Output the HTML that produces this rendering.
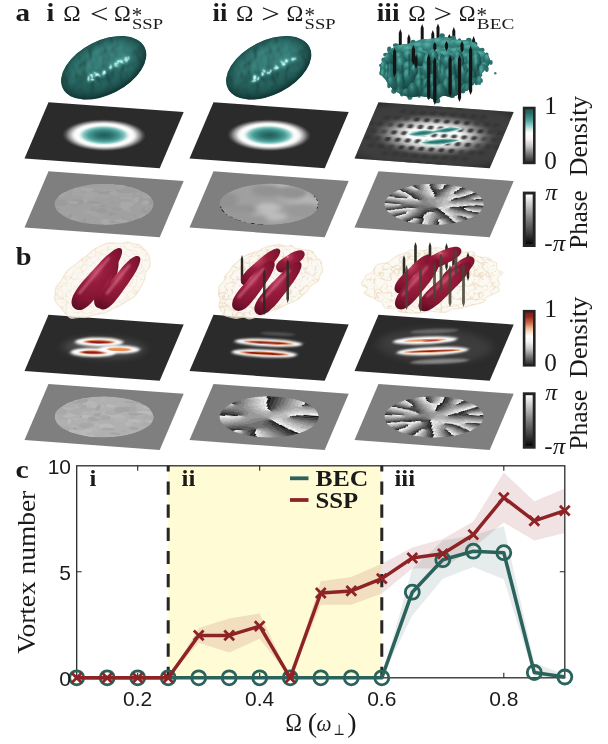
<!DOCTYPE html>
<html><head><meta charset="utf-8"><title>Vortex figure</title>
<style>
html,body{margin:0;padding:0;background:#fff;}
svg{display:block;}
text{font-family:'Liberation Serif', 'DejaVu Serif', serif;fill:#1a1a1a;}
.sans{font-family:'Liberation Sans', 'DejaVu Sans', sans-serif;}
</style></head><body>
<svg width="608" height="744" viewBox="0 0 608 744">
<defs>
<clipPath id="unit"><rect x="0" y="0" width="1" height="1"/></clipPath>
<filter id="b1" x="-20%" y="-20%" width="140%" height="140%"><feGaussianBlur stdDeviation="0.012 0.02"/></filter>
<filter id="b2" x="-30%" y="-30%" width="160%" height="160%"><feGaussianBlur stdDeviation="0.02 0.035"/></filter>
<filter id="b3" x="-30%" y="-30%" width="160%" height="160%"><feGaussianBlur stdDeviation="0.006 0.012"/></filter>
<filter id="b4" x="-30%" y="-30%" width="160%" height="160%"><feGaussianBlur stdDeviation="0.035 0.06"/></filter>
<radialGradient id="gTeal" cx="0.5" cy="0.5" r="0.5"><stop offset="0" stop-color="#235c59"/><stop offset="0.2" stop-color="#2d7470"/><stop offset="0.38" stop-color="#4a9e98"/><stop offset="0.5" stop-color="#8dcbc6"/><stop offset="0.58" stop-color="#e6f3f1"/><stop offset="0.65" stop-color="#ffffff"/><stop offset="0.73" stop-color="#efefef"/><stop offset="0.84" stop-color="#9a9a9a"/><stop offset="0.93" stop-color="#4d4d4d"/><stop offset="1" stop-color="#2b2b2b"/></radialGradient>
<radialGradient id="gGlow" cx="0.5" cy="0.5" r="0.5"><stop offset="0" stop-color="#ffffff" stop-opacity="1"/><stop offset="0.38" stop-color="#fafafa" stop-opacity="1"/><stop offset="0.55" stop-color="#c4c4c4" stop-opacity="0.95"/><stop offset="0.72" stop-color="#808080" stop-opacity="0.8"/><stop offset="0.88" stop-color="#4a4a4a" stop-opacity="0.5"/><stop offset="1" stop-color="#2b2b2b" stop-opacity="0"/></radialGradient>
<clipPath id="disc"><circle cx="0.5" cy="0.5" r="0.36"/></clipPath>
<linearGradient id="cbTeal" x1="0" y1="0" x2="0" y2="1"><stop offset="0" stop-color="#225a57"/><stop offset="0.08" stop-color="#2b6f6b"/><stop offset="0.2" stop-color="#4a9d97"/><stop offset="0.3" stop-color="#8ccbc6"/><stop offset="0.4" stop-color="#e0f1ef"/><stop offset="0.46" stop-color="#ffffff"/><stop offset="0.57" stop-color="#f4f4f4"/><stop offset="0.7" stop-color="#c8c8c8"/><stop offset="0.85" stop-color="#787878"/><stop offset="1" stop-color="#303030"/></linearGradient>
<linearGradient id="cbRed" x1="0" y1="0" x2="0" y2="1"><stop offset="0" stop-color="#851a1c"/><stop offset="0.08" stop-color="#962722"/><stop offset="0.2" stop-color="#c96a45"/><stop offset="0.3" stop-color="#eeb58c"/><stop offset="0.4" stop-color="#fbe9dc"/><stop offset="0.46" stop-color="#ffffff"/><stop offset="0.57" stop-color="#f4f4f4"/><stop offset="0.7" stop-color="#c8c8c8"/><stop offset="0.85" stop-color="#787878"/><stop offset="1" stop-color="#303030"/></linearGradient>
<linearGradient id="cbGray" x1="0" y1="0" x2="0" y2="1"><stop offset="0" stop-color="#ffffff"/><stop offset="0.5" stop-color="#7c7c7c"/><stop offset="0.8" stop-color="#3a3a3a"/><stop offset="1" stop-color="#060606"/></linearGradient>
<filter id="bumpT" x="0" y="0" width="100%" height="100%" color-interpolation-filters="sRGB">
<feTurbulence type="fractalNoise" baseFrequency="0.11 0.08" numOctaves="2" seed="4" result="n"/>
<feDiffuseLighting in="n" surfaceScale="3.2" diffuseConstant="1.05" lighting-color="#357873" result="l"><feDistantLight azimuth="235" elevation="58"/></feDiffuseLighting>
<feComposite in="l" in2="SourceGraphic" operator="in"/>
</filter>
<filter id="bumpT2" x="0" y="0" width="100%" height="100%" color-interpolation-filters="sRGB">
<feTurbulence type="fractalNoise" baseFrequency="0.10 0.05" numOctaves="3" seed="9" result="n"/>
<feDiffuseLighting in="n" surfaceScale="11" diffuseConstant="1.2" lighting-color="#4aa8a0" result="l"><feDistantLight azimuth="250" elevation="42"/></feDiffuseLighting>
<feComposite in="l" in2="SourceGraphic" operator="in"/>
</filter>
<filter id="ob1" x="-20%" y="-20%" width="140%" height="140%"><feGaussianBlur stdDeviation="1.2"/></filter>
<filter id="ob2" x="-20%" y="-20%" width="140%" height="140%"><feGaussianBlur stdDeviation="2.5"/></filter>
<filter id="ob05" x="-20%" y="-20%" width="140%" height="140%"><feGaussianBlur stdDeviation="0.55"/></filter>
<filter id="ob08" x="-20%" y="-20%" width="140%" height="140%"><feGaussianBlur stdDeviation="0.8"/></filter>
<radialGradient id="gEll" cx="0.5" cy="0.45" r="0.52"><stop offset="0" stop-color="#2f7f7a" stop-opacity="0"/><stop offset="0.5" stop-color="#2a706c" stop-opacity="0.0"/><stop offset="0.8" stop-color="#1c4f4c" stop-opacity="0.55"/><stop offset="1" stop-color="#123634" stop-opacity="0.95"/></radialGradient>
<linearGradient id="gBlobV" x1="0" y1="0" x2="0" y2="1"><stop offset="0" stop-color="#7fd6ce" stop-opacity="0.15"/><stop offset="0.3" stop-color="#4aa8a0" stop-opacity="0.0"/><stop offset="0.6" stop-color="#1f5a56" stop-opacity="0.1"/><stop offset="1" stop-color="#143f3c" stop-opacity="0.55"/></linearGradient>
<radialGradient id="gLump" cx="0.35" cy="0.2" r="0.9"><stop offset="0" stop-color="#56aea6" stop-opacity="1"/><stop offset="0.25" stop-color="#2e7872" stop-opacity="1"/><stop offset="0.6" stop-color="#1b534f" stop-opacity="1"/><stop offset="1" stop-color="#0d302d" stop-opacity="1"/></radialGradient>
<radialGradient id="gLumpTop" cx="0.4" cy="0.3" r="0.8"><stop offset="0" stop-color="#58b0a8" stop-opacity="1"/><stop offset="0.45" stop-color="#34837c" stop-opacity="1"/><stop offset="1" stop-color="#205f5a" stop-opacity="1"/></radialGradient>
<radialGradient id="gLobe" cx="0.40" cy="0.30" r="0.75"><stop offset="0" stop-color="#dc8098" stop-opacity="1"/><stop offset="0.1" stop-color="#b83a5a" stop-opacity="1"/><stop offset="0.35" stop-color="#981c3c" stop-opacity="1"/><stop offset="0.75" stop-color="#801431" stop-opacity="1"/><stop offset="1" stop-color="#5c0c22" stop-opacity="1"/></radialGradient>
<filter id="web" x="-5%" y="-5%" width="110%" height="110%" color-interpolation-filters="sRGB">
<feTurbulence type="turbulence" baseFrequency="0.12 0.15" numOctaves="2" seed="3" result="t"/>
<feColorMatrix in="t" type="matrix" values="0 0 0 0 0.87  0 0 0 0 0.77  0 0 0 0 0.6  -10 0 0 0 1.7" result="w"/>
<feComposite in="w" in2="SourceGraphic" operator="in"/>
</filter>
</defs>
<rect width="608" height="744" fill="#fff"/>
<text x="15.6" y="20.9" font-size="25" font-weight="bold" text-anchor="start" textLength="14.6" lengthAdjust="spacingAndGlyphs">a</text>
<text x="15.8" y="265.4" font-size="25" font-weight="bold" text-anchor="start" textLength="15.8" lengthAdjust="spacingAndGlyphs">b</text>
<text x="15.6" y="478.4" font-size="25" font-weight="bold" text-anchor="start" textLength="13.2" lengthAdjust="spacingAndGlyphs">c</text>
<text x="46.6" y="20.9" font-size="25" font-weight="bold" text-anchor="start" textLength="7.8" lengthAdjust="spacingAndGlyphs">i</text>
<text x="63.3" y="20.9" font-size="24" font-weight="normal" text-anchor="start" textLength="17.4" lengthAdjust="spacingAndGlyphs">Ω</text>
<text x="90.10000000000001" y="22.5" font-size="27" font-weight="normal" text-anchor="start" textLength="18.6" lengthAdjust="spacingAndGlyphs">&lt;</text>
<text x="114.0" y="20.9" font-size="24" font-weight="normal" text-anchor="start" textLength="16.8" lengthAdjust="spacingAndGlyphs">Ω</text>
<text x="131.79999999999998" y="21.5" font-size="21" font-weight="normal" text-anchor="start">*</text>
<text x="132.0" y="28.6" font-size="14.5" font-weight="normal" text-anchor="start" textLength="31" lengthAdjust="spacingAndGlyphs">SSP</text>
<text x="212.6" y="20.9" font-size="25" font-weight="bold" text-anchor="start" textLength="14.8" lengthAdjust="spacingAndGlyphs">ii</text>
<text x="236.0" y="20.9" font-size="24" font-weight="normal" text-anchor="start" textLength="17.4" lengthAdjust="spacingAndGlyphs">Ω</text>
<text x="261.29999999999995" y="22.5" font-size="27" font-weight="normal" text-anchor="start" textLength="18.6" lengthAdjust="spacingAndGlyphs">&gt;</text>
<text x="286.59999999999997" y="20.9" font-size="24" font-weight="normal" text-anchor="start" textLength="16.8" lengthAdjust="spacingAndGlyphs">Ω</text>
<text x="304.4" y="21.5" font-size="21" font-weight="normal" text-anchor="start">*</text>
<text x="304.59999999999997" y="28.6" font-size="14.5" font-weight="normal" text-anchor="start" textLength="31" lengthAdjust="spacingAndGlyphs">SSP</text>
<text x="376.7" y="20.9" font-size="25" font-weight="bold" text-anchor="start" textLength="22.8" lengthAdjust="spacingAndGlyphs">iii</text>
<text x="408.2" y="20.9" font-size="24" font-weight="normal" text-anchor="start" textLength="17.4" lengthAdjust="spacingAndGlyphs">Ω</text>
<text x="433.4" y="22.5" font-size="27" font-weight="normal" text-anchor="start" textLength="18.6" lengthAdjust="spacingAndGlyphs">&gt;</text>
<text x="458.79999999999995" y="20.9" font-size="24" font-weight="normal" text-anchor="start" textLength="16.8" lengthAdjust="spacingAndGlyphs">Ω</text>
<text x="476.59999999999997" y="21.5" font-size="21" font-weight="normal" text-anchor="start">*</text>
<text x="476.79999999999995" y="28.6" font-size="14.5" font-weight="normal" text-anchor="start" textLength="37.5" lengthAdjust="spacingAndGlyphs">BEC</text>
<g transform="matrix(135.2 9.8 -24.0 56.2 48.5 102.2)"><rect x="0" y="0" width="1" height="1" fill="#2b2b2b"/><g clip-path="url(#unit)">
<ellipse cx="0.5" cy="0.5" rx="0.305" ry="0.28" fill="url(#gTeal)"/>
</g></g>
<g transform="matrix(135.2 9.8 -24.0 56.2 213.5 102.2)"><rect x="0" y="0" width="1" height="1" fill="#2b2b2b"/><g clip-path="url(#unit)">
<ellipse cx="0.5" cy="0.5" rx="0.305" ry="0.28" fill="url(#gTeal)"/>
</g></g>
<g transform="matrix(135.2 9.8 -24.0 56.2 378.5 102.2)"><rect x="0" y="0" width="1" height="1" fill="#2b2b2b"/><g clip-path="url(#unit)">
<ellipse cx="0.5" cy="0.5" rx="0.7" ry="0.6" fill="#505050" opacity="0.55" filter="url(#b4)"/>
<ellipse cx="0.5" cy="0.5" rx="0.50" ry="0.41" fill="url(#gGlow)"/>
<g fill="#2e2e2e" filter="url(#b3)"><ellipse cx="0.007" cy="0.375" rx="0.021" ry="0.038" opacity="0.55"/><ellipse cx="-0.018" cy="0.500" rx="0.021" ry="0.038" opacity="0.55"/><ellipse cx="0.031" cy="0.625" rx="0.021" ry="0.038" opacity="0.55"/><ellipse cx="0.081" cy="0.375" rx="0.021" ry="0.038" opacity="0.55"/><ellipse cx="0.056" cy="0.500" rx="0.021" ry="0.038" opacity="0.55"/><ellipse cx="0.105" cy="0.625" rx="0.021" ry="0.038" opacity="0.55"/><ellipse cx="0.080" cy="0.750" rx="0.021" ry="0.038" opacity="0.55"/><ellipse cx="0.106" cy="0.250" rx="0.021" ry="0.038" opacity="0.55"/><ellipse cx="0.155" cy="0.375" rx="0.021" ry="0.038" opacity="0.55"/><ellipse cx="0.130" cy="0.500" rx="0.021" ry="0.038" opacity="0.55"/><ellipse cx="0.179" cy="0.625" rx="0.021" ry="0.038" opacity="0.90"/><ellipse cx="0.154" cy="0.750" rx="0.021" ry="0.038" opacity="0.55"/><ellipse cx="0.203" cy="0.875" rx="0.021" ry="0.038" opacity="0.55"/><ellipse cx="0.205" cy="0.125" rx="0.021" ry="0.038" opacity="0.55"/><ellipse cx="0.180" cy="0.250" rx="0.021" ry="0.038" opacity="0.55"/><ellipse cx="0.229" cy="0.375" rx="0.021" ry="0.038" opacity="0.90"/><ellipse cx="0.204" cy="0.500" rx="0.021" ry="0.038" opacity="0.90"/><ellipse cx="0.253" cy="0.625" rx="0.021" ry="0.038" opacity="0.90"/><ellipse cx="0.228" cy="0.750" rx="0.021" ry="0.038" opacity="0.55"/><ellipse cx="0.277" cy="0.875" rx="0.021" ry="0.038" opacity="0.55"/><ellipse cx="0.279" cy="0.125" rx="0.021" ry="0.038" opacity="0.55"/><ellipse cx="0.254" cy="0.250" rx="0.021" ry="0.038" opacity="0.55"/><ellipse cx="0.303" cy="0.375" rx="0.021" ry="0.038" opacity="0.90"/><ellipse cx="0.278" cy="0.500" rx="0.021" ry="0.038" opacity="0.90"/><ellipse cx="0.327" cy="0.625" rx="0.021" ry="0.038" opacity="0.90"/><ellipse cx="0.302" cy="0.750" rx="0.021" ry="0.038" opacity="0.90"/><ellipse cx="0.351" cy="0.875" rx="0.021" ry="0.038" opacity="0.55"/><ellipse cx="0.353" cy="0.125" rx="0.021" ry="0.038" opacity="0.55"/><ellipse cx="0.328" cy="0.250" rx="0.021" ry="0.038" opacity="0.90"/><ellipse cx="0.377" cy="0.375" rx="0.021" ry="0.038" opacity="0.90"/><ellipse cx="0.352" cy="0.500" rx="0.021" ry="0.038" opacity="0.90"/><ellipse cx="0.401" cy="0.625" rx="0.021" ry="0.038" opacity="0.90"/><ellipse cx="0.376" cy="0.750" rx="0.021" ry="0.038" opacity="0.90"/><ellipse cx="0.425" cy="0.875" rx="0.021" ry="0.038" opacity="0.55"/><ellipse cx="0.400" cy="1.000" rx="0.021" ry="0.038" opacity="0.55"/><ellipse cx="0.378" cy="0.000" rx="0.021" ry="0.038" opacity="0.55"/><ellipse cx="0.427" cy="0.125" rx="0.021" ry="0.038" opacity="0.55"/><ellipse cx="0.402" cy="0.250" rx="0.021" ry="0.038" opacity="0.90"/><ellipse cx="0.451" cy="0.375" rx="0.021" ry="0.038" opacity="0.90"/><ellipse cx="0.426" cy="0.500" rx="0.021" ry="0.038" opacity="0.90"/><ellipse cx="0.475" cy="0.625" rx="0.021" ry="0.038" opacity="0.90"/><ellipse cx="0.450" cy="0.750" rx="0.021" ry="0.038" opacity="0.90"/><ellipse cx="0.499" cy="0.875" rx="0.021" ry="0.038" opacity="0.55"/><ellipse cx="0.474" cy="1.000" rx="0.021" ry="0.038" opacity="0.55"/><ellipse cx="0.452" cy="0.000" rx="0.021" ry="0.038" opacity="0.55"/><ellipse cx="0.501" cy="0.125" rx="0.021" ry="0.038" opacity="0.55"/><ellipse cx="0.476" cy="0.250" rx="0.021" ry="0.038" opacity="0.90"/><ellipse cx="0.525" cy="0.375" rx="0.021" ry="0.038" opacity="0.90"/><ellipse cx="0.500" cy="0.500" rx="0.021" ry="0.038" opacity="0.90"/><ellipse cx="0.549" cy="0.625" rx="0.021" ry="0.038" opacity="0.90"/><ellipse cx="0.524" cy="0.750" rx="0.021" ry="0.038" opacity="0.90"/><ellipse cx="0.573" cy="0.875" rx="0.021" ry="0.038" opacity="0.55"/><ellipse cx="0.548" cy="1.000" rx="0.021" ry="0.038" opacity="0.55"/><ellipse cx="0.526" cy="0.000" rx="0.021" ry="0.038" opacity="0.55"/><ellipse cx="0.575" cy="0.125" rx="0.021" ry="0.038" opacity="0.55"/><ellipse cx="0.550" cy="0.250" rx="0.021" ry="0.038" opacity="0.90"/><ellipse cx="0.599" cy="0.375" rx="0.021" ry="0.038" opacity="0.90"/><ellipse cx="0.574" cy="0.500" rx="0.021" ry="0.038" opacity="0.90"/><ellipse cx="0.623" cy="0.625" rx="0.021" ry="0.038" opacity="0.90"/><ellipse cx="0.598" cy="0.750" rx="0.021" ry="0.038" opacity="0.90"/><ellipse cx="0.647" cy="0.875" rx="0.021" ry="0.038" opacity="0.55"/><ellipse cx="0.622" cy="1.000" rx="0.021" ry="0.038" opacity="0.55"/><ellipse cx="0.600" cy="0.000" rx="0.021" ry="0.038" opacity="0.55"/><ellipse cx="0.649" cy="0.125" rx="0.021" ry="0.038" opacity="0.55"/><ellipse cx="0.624" cy="0.250" rx="0.021" ry="0.038" opacity="0.90"/><ellipse cx="0.673" cy="0.375" rx="0.021" ry="0.038" opacity="0.90"/><ellipse cx="0.648" cy="0.500" rx="0.021" ry="0.038" opacity="0.90"/><ellipse cx="0.697" cy="0.625" rx="0.021" ry="0.038" opacity="0.90"/><ellipse cx="0.672" cy="0.750" rx="0.021" ry="0.038" opacity="0.90"/><ellipse cx="0.721" cy="0.875" rx="0.021" ry="0.038" opacity="0.55"/><ellipse cx="0.723" cy="0.125" rx="0.021" ry="0.038" opacity="0.55"/><ellipse cx="0.698" cy="0.250" rx="0.021" ry="0.038" opacity="0.90"/><ellipse cx="0.747" cy="0.375" rx="0.021" ry="0.038" opacity="0.90"/><ellipse cx="0.722" cy="0.500" rx="0.021" ry="0.038" opacity="0.90"/><ellipse cx="0.771" cy="0.625" rx="0.021" ry="0.038" opacity="0.90"/><ellipse cx="0.746" cy="0.750" rx="0.021" ry="0.038" opacity="0.55"/><ellipse cx="0.795" cy="0.875" rx="0.021" ry="0.038" opacity="0.55"/><ellipse cx="0.797" cy="0.125" rx="0.021" ry="0.038" opacity="0.55"/><ellipse cx="0.772" cy="0.250" rx="0.021" ry="0.038" opacity="0.55"/><ellipse cx="0.821" cy="0.375" rx="0.021" ry="0.038" opacity="0.90"/><ellipse cx="0.796" cy="0.500" rx="0.021" ry="0.038" opacity="0.90"/><ellipse cx="0.845" cy="0.625" rx="0.021" ry="0.038" opacity="0.55"/><ellipse cx="0.820" cy="0.750" rx="0.021" ry="0.038" opacity="0.55"/><ellipse cx="0.846" cy="0.250" rx="0.021" ry="0.038" opacity="0.55"/><ellipse cx="0.895" cy="0.375" rx="0.021" ry="0.038" opacity="0.55"/><ellipse cx="0.870" cy="0.500" rx="0.021" ry="0.038" opacity="0.55"/><ellipse cx="0.919" cy="0.625" rx="0.021" ry="0.038" opacity="0.55"/><ellipse cx="0.894" cy="0.750" rx="0.021" ry="0.038" opacity="0.55"/><ellipse cx="0.920" cy="0.250" rx="0.021" ry="0.038" opacity="0.55"/><ellipse cx="0.969" cy="0.375" rx="0.021" ry="0.038" opacity="0.55"/><ellipse cx="0.944" cy="0.500" rx="0.021" ry="0.038" opacity="0.55"/><ellipse cx="0.993" cy="0.625" rx="0.021" ry="0.038" opacity="0.55"/><ellipse cx="1.018" cy="0.500" rx="0.021" ry="0.038" opacity="0.55"/></g>
<g filter="url(#b3)">
<g fill="#f4fbfa" stroke="#f4fbfa" stroke-width="0.03" stroke-linejoin="round"><path d="M0.315 0.515Q0.41000000000000003 0.384 0.505 0.445Q0.41000000000000003 0.576 0.315 0.515Z"/><path d="M0.485 0.435Q0.5775 0.315 0.67 0.355Q0.5775 0.47500000000000003 0.485 0.435Z"/><path d="M0.425 0.65Q0.5625 0.5065000000000001 0.7 0.555Q0.5625 0.6985 0.425 0.65Z"/></g>
<g fill="#4aa59e"><path d="M0.315 0.515Q0.41000000000000003 0.384 0.505 0.445Q0.41000000000000003 0.576 0.315 0.515Z"/><path d="M0.485 0.435Q0.5775 0.315 0.67 0.355Q0.5775 0.47500000000000003 0.485 0.435Z"/><path d="M0.425 0.65Q0.5625 0.5065000000000001 0.7 0.555Q0.5625 0.6985 0.425 0.65Z"/></g>
<g fill="#2a6e6a"><path d="M0.345 0.507Q0.41 0.43679999999999997 0.475 0.453Q0.41 0.5232 0.345 0.507Z"/><path d="M0.515 0.427Q0.5775 0.359 0.64 0.363Q0.5775 0.43100000000000005 0.515 0.427Z"/><path d="M0.45499999999999996 0.642Q0.5625 0.5593 0.6699999999999999 0.5630000000000001Q0.5625 0.6457 0.45499999999999996 0.642Z"/></g>
<path d="M0.49 0.455 L0.53 0.405" stroke="#4aa59e" stroke-width="0.02" fill="none"/>
</g>
</g></g>
<g transform="matrix(135.2 9.8 -24.0 56.2 48.5 314.8)"><rect x="0" y="0" width="1" height="1" fill="#2b2b2b"/><g clip-path="url(#unit)">
<ellipse cx="0.5" cy="0.5" rx="0.3" ry="0.18" fill="#888" opacity="0.35" filter="url(#b4)"/>
<g transform="translate(0 0.0492) matrix(1 -0.11 0 1 0 0)"><ellipse cx="0.447" cy="0.406" rx="0.175" ry="0.0792" fill="#fff" opacity="1.0" filter="url(#b1)"/><g filter="url(#b3)"><ellipse cx="0.447" cy="0.406" rx="0.113" ry="0.036" fill="#e8894f"/><ellipse cx="0.447" cy="0.406" rx="0.09040000000000001" ry="0.021599999999999998" fill="#8e1b1b"/></g></g>
<g transform="translate(0 0.0481) matrix(1 -0.11 0 1 0 0)"><ellipse cx="0.437" cy="0.593" rx="0.165" ry="0.0792" fill="#fff" opacity="1.0" filter="url(#b1)"/><g filter="url(#b3)"><ellipse cx="0.437" cy="0.593" rx="0.103" ry="0.036" fill="#e8894f"/><ellipse cx="0.437" cy="0.593" rx="0.0824" ry="0.021599999999999998" fill="#8e1b1b"/></g></g>
<g transform="translate(0 0.0674) matrix(1 -0.11 0 1 0 0)"><ellipse cx="0.613" cy="0.509" rx="0.15" ry="0.0704" fill="#fff" opacity="1.0" filter="url(#b1)"/><g filter="url(#b3)"><ellipse cx="0.613" cy="0.509" rx="0.088" ry="0.032" fill="#e8894f"/></g></g>
</g></g>
<g transform="matrix(135.2 9.8 -24.0 56.2 213.5 314.8)"><rect x="0" y="0" width="1" height="1" fill="#2b2b2b"/><g clip-path="url(#unit)">
<g transform="translate(0 0.0208) matrix(1 -0.04 0 1 0 0)"><ellipse cx="0.52" cy="0.25" rx="0.13" ry="0.03" fill="#777" opacity="0.55" filter="url(#b1)"/></g>
<g transform="translate(0 0.0216) matrix(1 -0.045 0 1 0 0)"><ellipse cx="0.48" cy="0.413" rx="0.249" ry="0.066" fill="#fff" opacity="1.0" filter="url(#b1)"/><g filter="url(#b3)"><ellipse cx="0.48" cy="0.413" rx="0.182" ry="0.03" fill="#e8894f"/><ellipse cx="0.48" cy="0.413" rx="0.1456" ry="0.018" fill="#8e1b1b"/></g></g>
<g transform="translate(0 0.0217) matrix(1 -0.045 0 1 0 0)"><ellipse cx="0.483" cy="0.603" rx="0.24" ry="0.066" fill="#fff" opacity="1.0" filter="url(#b1)"/><g filter="url(#b3)"><ellipse cx="0.483" cy="0.603" rx="0.182" ry="0.03" fill="#e8894f"/><ellipse cx="0.483" cy="0.603" rx="0.1456" ry="0.018" fill="#8e1b1b"/></g></g>
</g></g>
<g transform="matrix(135.2 9.8 -24.0 56.2 378.5 314.8)"><rect x="0" y="0" width="1" height="1" fill="#2b2b2b"/><g clip-path="url(#unit)">
<ellipse cx="0.5" cy="0.47" rx="0.42" ry="0.3" fill="#666" opacity="0.3" filter="url(#b4)"/>
<g transform="translate(0 0.1195) matrix(1 -0.265 0 1 0 0)"><ellipse cx="0.451" cy="0.213" rx="0.17" ry="0.04" fill="#999" opacity="0.5" filter="url(#b1)"/></g>
<g transform="translate(0 0.1542) matrix(1 -0.265 0 1 0 0)"><ellipse cx="0.582" cy="0.726" rx="0.21" ry="0.042" fill="#b5b5b5" opacity="0.65" filter="url(#b1)"/></g>
<g transform="translate(0 0.1094) matrix(1 -0.265 0 1 0 0)"><ellipse cx="0.413" cy="0.382" rx="0.227" ry="0.068" fill="#fff" opacity="1.0" filter="url(#b1)"/><g filter="url(#b3)"><ellipse cx="0.413" cy="0.382" rx="0.15" ry="0.02" fill="#e8894f"/></g></g>
<g transform="translate(0 0.1219) matrix(1 -0.265 0 1 0 0)"><ellipse cx="0.46" cy="0.382" rx="0.06" ry="0.012" fill="#a32a20" filter="url(#b3)"/></g>
<g transform="translate(0 0.1322) matrix(1 -0.265 0 1 0 0)"><ellipse cx="0.499" cy="0.559" rx="0.254" ry="0.072" fill="#fff" opacity="1.0" filter="url(#b1)"/><g filter="url(#b3)"><ellipse cx="0.499" cy="0.559" rx="0.2" ry="0.025" fill="#e8894f"/><ellipse cx="0.499" cy="0.559" rx="0.16000000000000003" ry="0.015" fill="#8e1b1b"/></g></g>
</g></g>
<g transform="matrix(135.2 9.8 -24.0 56.2 48.5 171.3)"><rect x="0" y="0" width="1" height="1" fill="#7f7f7f"/><g clip-path="url(#unit)">
<g clip-path="url(#disc)"><circle cx="0.5" cy="0.5" r="0.36" fill="#a1a1a1"/>
<ellipse cx="0.720" cy="0.748" rx="0.046" ry="0.023" fill="#9e9e9e"/><ellipse cx="0.517" cy="0.253" rx="0.029" ry="0.021" fill="#9e9e9e"/><ellipse cx="0.824" cy="0.558" rx="0.031" ry="0.046" fill="#9b9b9b"/><ellipse cx="0.438" cy="0.325" rx="0.048" ry="0.039" fill="#9b9b9b"/><ellipse cx="0.551" cy="0.463" rx="0.013" ry="0.036" fill="#9e9e9e"/><ellipse cx="0.362" cy="0.173" rx="0.045" ry="0.036" fill="#9e9e9e"/><ellipse cx="0.748" cy="0.400" rx="0.028" ry="0.042" fill="#9e9e9e"/><ellipse cx="0.831" cy="0.398" rx="0.031" ry="0.053" fill="#9b9b9b"/><ellipse cx="0.641" cy="0.830" rx="0.051" ry="0.017" fill="#a9a9a9"/><ellipse cx="0.781" cy="0.283" rx="0.035" ry="0.056" fill="#a4a4a4"/><ellipse cx="0.642" cy="0.242" rx="0.026" ry="0.038" fill="#9e9e9e"/><ellipse cx="0.645" cy="0.289" rx="0.039" ry="0.014" fill="#a6a6a6"/><ellipse cx="0.491" cy="0.271" rx="0.042" ry="0.029" fill="#a9a9a9"/><ellipse cx="0.751" cy="0.652" rx="0.017" ry="0.019" fill="#9e9e9e"/><ellipse cx="0.288" cy="0.724" rx="0.033" ry="0.026" fill="#a4a4a4"/><ellipse cx="0.312" cy="0.375" rx="0.020" ry="0.035" fill="#9b9b9b"/><ellipse cx="0.534" cy="0.238" rx="0.051" ry="0.022" fill="#a4a4a4"/><ellipse cx="0.316" cy="0.775" rx="0.028" ry="0.053" fill="#a4a4a4"/><ellipse cx="0.262" cy="0.306" rx="0.029" ry="0.051" fill="#a4a4a4"/><ellipse cx="0.594" cy="0.258" rx="0.037" ry="0.031" fill="#9b9b9b"/><ellipse cx="0.284" cy="0.526" rx="0.037" ry="0.054" fill="#9e9e9e"/><ellipse cx="0.286" cy="0.520" rx="0.028" ry="0.036" fill="#a4a4a4"/><ellipse cx="0.547" cy="0.298" rx="0.039" ry="0.048" fill="#a6a6a6"/><ellipse cx="0.355" cy="0.452" rx="0.016" ry="0.037" fill="#a9a9a9"/><ellipse cx="0.842" cy="0.571" rx="0.015" ry="0.051" fill="#9e9e9e"/><ellipse cx="0.812" cy="0.529" rx="0.023" ry="0.017" fill="#a4a4a4"/><ellipse cx="0.577" cy="0.678" rx="0.020" ry="0.023" fill="#a6a6a6"/><ellipse cx="0.340" cy="0.259" rx="0.025" ry="0.044" fill="#9e9e9e"/><ellipse cx="0.445" cy="0.509" rx="0.029" ry="0.031" fill="#a6a6a6"/><ellipse cx="0.490" cy="0.681" rx="0.045" ry="0.056" fill="#a4a4a4"/><ellipse cx="0.177" cy="0.648" rx="0.022" ry="0.030" fill="#9b9b9b"/><ellipse cx="0.472" cy="0.359" rx="0.044" ry="0.043" fill="#a4a4a4"/><ellipse cx="0.676" cy="0.191" rx="0.040" ry="0.043" fill="#9e9e9e"/><ellipse cx="0.549" cy="0.786" rx="0.030" ry="0.038" fill="#a9a9a9"/><ellipse cx="0.374" cy="0.302" rx="0.045" ry="0.018" fill="#a6a6a6"/><ellipse cx="0.641" cy="0.360" rx="0.051" ry="0.026" fill="#a9a9a9"/><ellipse cx="0.491" cy="0.268" rx="0.023" ry="0.012" fill="#9b9b9b"/><ellipse cx="0.359" cy="0.410" rx="0.053" ry="0.033" fill="#a4a4a4"/><ellipse cx="0.279" cy="0.488" rx="0.028" ry="0.021" fill="#9e9e9e"/><ellipse cx="0.288" cy="0.363" rx="0.054" ry="0.030" fill="#a4a4a4"/><ellipse cx="0.295" cy="0.500" rx="0.051" ry="0.052" fill="#9b9b9b"/><ellipse cx="0.684" cy="0.778" rx="0.049" ry="0.037" fill="#a6a6a6"/><ellipse cx="0.412" cy="0.641" rx="0.042" ry="0.050" fill="#a4a4a4"/><ellipse cx="0.312" cy="0.781" rx="0.043" ry="0.034" fill="#a4a4a4"/><ellipse cx="0.530" cy="0.805" rx="0.016" ry="0.020" fill="#a4a4a4"/><ellipse cx="0.572" cy="0.805" rx="0.039" ry="0.050" fill="#a9a9a9"/><ellipse cx="0.436" cy="0.603" rx="0.023" ry="0.054" fill="#9e9e9e"/><ellipse cx="0.676" cy="0.701" rx="0.017" ry="0.014" fill="#9b9b9b"/><ellipse cx="0.238" cy="0.745" rx="0.019" ry="0.018" fill="#9b9b9b"/><ellipse cx="0.261" cy="0.289" rx="0.029" ry="0.038" fill="#a6a6a6"/><ellipse cx="0.178" cy="0.359" rx="0.028" ry="0.025" fill="#a4a4a4"/><ellipse cx="0.717" cy="0.390" rx="0.024" ry="0.047" fill="#a9a9a9"/><ellipse cx="0.794" cy="0.523" rx="0.016" ry="0.017" fill="#9b9b9b"/><ellipse cx="0.621" cy="0.795" rx="0.038" ry="0.019" fill="#9e9e9e"/><ellipse cx="0.588" cy="0.654" rx="0.045" ry="0.017" fill="#9e9e9e"/><ellipse cx="0.592" cy="0.251" rx="0.049" ry="0.037" fill="#9e9e9e"/><ellipse cx="0.435" cy="0.651" rx="0.026" ry="0.013" fill="#a9a9a9"/><ellipse cx="0.470" cy="0.298" rx="0.030" ry="0.030" fill="#9b9b9b"/><ellipse cx="0.803" cy="0.316" rx="0.056" ry="0.017" fill="#a6a6a6"/><ellipse cx="0.570" cy="0.190" rx="0.052" ry="0.051" fill="#9e9e9e"/><ellipse cx="0.404" cy="0.344" rx="0.036" ry="0.026" fill="#a6a6a6"/><ellipse cx="0.291" cy="0.751" rx="0.016" ry="0.046" fill="#9b9b9b"/><ellipse cx="0.333" cy="0.264" rx="0.054" ry="0.030" fill="#a9a9a9"/><ellipse cx="0.650" cy="0.540" rx="0.048" ry="0.038" fill="#a9a9a9"/><ellipse cx="0.503" cy="0.614" rx="0.040" ry="0.048" fill="#9b9b9b"/><ellipse cx="0.502" cy="0.551" rx="0.023" ry="0.015" fill="#a4a4a4"/><ellipse cx="0.707" cy="0.273" rx="0.013" ry="0.012" fill="#a9a9a9"/><ellipse cx="0.166" cy="0.514" rx="0.019" ry="0.035" fill="#a9a9a9"/><ellipse cx="0.810" cy="0.663" rx="0.020" ry="0.047" fill="#a6a6a6"/><ellipse cx="0.588" cy="0.317" rx="0.017" ry="0.035" fill="#a4a4a4"/><ellipse cx="0.408" cy="0.828" rx="0.018" ry="0.053" fill="#9b9b9b"/><ellipse cx="0.561" cy="0.179" rx="0.040" ry="0.042" fill="#a4a4a4"/><ellipse cx="0.668" cy="0.238" rx="0.043" ry="0.020" fill="#9e9e9e"/><ellipse cx="0.423" cy="0.481" rx="0.051" ry="0.023" fill="#9b9b9b"/><ellipse cx="0.400" cy="0.281" rx="0.031" ry="0.023" fill="#9e9e9e"/><ellipse cx="0.644" cy="0.305" rx="0.030" ry="0.027" fill="#a9a9a9"/><ellipse cx="0.181" cy="0.529" rx="0.054" ry="0.056" fill="#9b9b9b"/><ellipse cx="0.698" cy="0.582" rx="0.018" ry="0.018" fill="#a9a9a9"/><ellipse cx="0.688" cy="0.480" rx="0.037" ry="0.020" fill="#9b9b9b"/><ellipse cx="0.503" cy="0.531" rx="0.036" ry="0.035" fill="#9e9e9e"/><ellipse cx="0.760" cy="0.378" rx="0.022" ry="0.026" fill="#9e9e9e"/><ellipse cx="0.793" cy="0.418" rx="0.027" ry="0.040" fill="#a9a9a9"/><ellipse cx="0.666" cy="0.471" rx="0.053" ry="0.046" fill="#a9a9a9"/><ellipse cx="0.670" cy="0.765" rx="0.052" ry="0.026" fill="#a9a9a9"/><ellipse cx="0.628" cy="0.322" rx="0.044" ry="0.045" fill="#a4a4a4"/><ellipse cx="0.609" cy="0.564" rx="0.039" ry="0.035" fill="#9e9e9e"/><ellipse cx="0.581" cy="0.661" rx="0.022" ry="0.038" fill="#9b9b9b"/><ellipse cx="0.274" cy="0.507" rx="0.041" ry="0.029" fill="#a6a6a6"/><ellipse cx="0.155" cy="0.402" rx="0.036" ry="0.016" fill="#a9a9a9"/><ellipse cx="0.371" cy="0.366" rx="0.053" ry="0.055" fill="#a6a6a6"/></g>
</g></g>
<g transform="matrix(135.2 9.8 -24.0 56.2 213.5 171.3)"><rect x="0" y="0" width="1" height="1" fill="#7f7f7f"/><g clip-path="url(#unit)">
<g clip-path="url(#disc)"><circle cx="0.5" cy="0.5" r="0.36" fill="#a0a0a0"/>
<g filter="url(#b2)"><ellipse cx="0.837" cy="0.404" rx="0.066" ry="0.068" fill="#b6b6b6"/><ellipse cx="0.474" cy="0.207" rx="0.091" ry="0.121" fill="#bebebe"/><ellipse cx="0.790" cy="0.566" rx="0.160" ry="0.124" fill="#999999"/><ellipse cx="0.664" cy="0.302" rx="0.097" ry="0.154" fill="#bebebe"/><ellipse cx="0.492" cy="0.568" rx="0.063" ry="0.106" fill="#acacac"/><ellipse cx="0.696" cy="0.372" rx="0.148" ry="0.076" fill="#b6b6b6"/><ellipse cx="0.505" cy="0.555" rx="0.093" ry="0.074" fill="#bebebe"/><ellipse cx="0.336" cy="0.699" rx="0.116" ry="0.160" fill="#929292"/><ellipse cx="0.589" cy="0.205" rx="0.151" ry="0.136" fill="#bebebe"/><ellipse cx="0.284" cy="0.783" rx="0.156" ry="0.076" fill="#929292"/><ellipse cx="0.447" cy="0.261" rx="0.113" ry="0.109" fill="#929292"/><ellipse cx="0.172" cy="0.498" rx="0.095" ry="0.148" fill="#929292"/><ellipse cx="0.319" cy="0.747" rx="0.116" ry="0.106" fill="#999999"/><ellipse cx="0.536" cy="0.702" rx="0.130" ry="0.077" fill="#bebebe"/><ellipse cx="0.461" cy="0.841" rx="0.091" ry="0.156" fill="#999999"/><ellipse cx="0.632" cy="0.264" rx="0.111" ry="0.122" fill="#929292"/></g><path d="M0.155 0.60 A0.36 0.36 0 0 0 0.52 0.86" fill="none" stroke="#1a1a1a" stroke-width="0.014" stroke-dasharray="0.03 0.02 0.06 0.03 0.015 0.04"/><path d="M0.80 0.30 A0.36 0.36 0 0 1 0.86 0.52" fill="none" stroke="#1a1a1a" stroke-width="0.012" stroke-dasharray="0.02 0.03 0.04 0.05"/></g>
</g></g>
<g transform="matrix(135.2 9.8 -24.0 56.2 48.5 383.9)"><rect x="0" y="0" width="1" height="1" fill="#7f7f7f"/><g clip-path="url(#unit)">
<g clip-path="url(#disc)"><circle cx="0.5" cy="0.5" r="0.36" fill="#b0b0b0"/>
<ellipse cx="0.278" cy="0.284" rx="0.048" ry="0.054" fill="#a4a4a4"/><ellipse cx="0.349" cy="0.286" rx="0.050" ry="0.047" fill="#b7b7b7"/><ellipse cx="0.297" cy="0.225" rx="0.017" ry="0.033" fill="#b7b7b7"/><ellipse cx="0.416" cy="0.578" rx="0.023" ry="0.045" fill="#acacac"/><ellipse cx="0.437" cy="0.839" rx="0.046" ry="0.019" fill="#a8a8a8"/><ellipse cx="0.682" cy="0.717" rx="0.018" ry="0.012" fill="#a8a8a8"/><ellipse cx="0.542" cy="0.662" rx="0.056" ry="0.051" fill="#bababa"/><ellipse cx="0.437" cy="0.648" rx="0.051" ry="0.040" fill="#b7b7b7"/><ellipse cx="0.779" cy="0.392" rx="0.055" ry="0.052" fill="#bababa"/><ellipse cx="0.730" cy="0.531" rx="0.054" ry="0.024" fill="#bababa"/><ellipse cx="0.411" cy="0.765" rx="0.012" ry="0.043" fill="#bababa"/><ellipse cx="0.696" cy="0.586" rx="0.026" ry="0.043" fill="#b7b7b7"/><ellipse cx="0.200" cy="0.536" rx="0.015" ry="0.056" fill="#a8a8a8"/><ellipse cx="0.704" cy="0.432" rx="0.030" ry="0.037" fill="#acacac"/><ellipse cx="0.317" cy="0.704" rx="0.012" ry="0.014" fill="#b7b7b7"/><ellipse cx="0.249" cy="0.253" rx="0.017" ry="0.023" fill="#acacac"/><ellipse cx="0.380" cy="0.678" rx="0.036" ry="0.047" fill="#a8a8a8"/><ellipse cx="0.231" cy="0.330" rx="0.029" ry="0.025" fill="#acacac"/><ellipse cx="0.602" cy="0.464" rx="0.027" ry="0.039" fill="#b7b7b7"/><ellipse cx="0.315" cy="0.792" rx="0.037" ry="0.026" fill="#bababa"/><ellipse cx="0.389" cy="0.802" rx="0.040" ry="0.044" fill="#bababa"/><ellipse cx="0.645" cy="0.497" rx="0.014" ry="0.056" fill="#b3b3b3"/><ellipse cx="0.557" cy="0.470" rx="0.045" ry="0.027" fill="#bababa"/><ellipse cx="0.275" cy="0.564" rx="0.015" ry="0.053" fill="#a8a8a8"/><ellipse cx="0.566" cy="0.303" rx="0.021" ry="0.056" fill="#b3b3b3"/><ellipse cx="0.772" cy="0.411" rx="0.047" ry="0.017" fill="#acacac"/><ellipse cx="0.439" cy="0.562" rx="0.031" ry="0.018" fill="#b3b3b3"/><ellipse cx="0.713" cy="0.215" rx="0.032" ry="0.034" fill="#a4a4a4"/><ellipse cx="0.422" cy="0.672" rx="0.033" ry="0.053" fill="#a8a8a8"/><ellipse cx="0.244" cy="0.750" rx="0.055" ry="0.040" fill="#acacac"/><ellipse cx="0.603" cy="0.387" rx="0.034" ry="0.035" fill="#b3b3b3"/><ellipse cx="0.646" cy="0.340" rx="0.047" ry="0.047" fill="#a4a4a4"/><ellipse cx="0.443" cy="0.465" rx="0.026" ry="0.037" fill="#a4a4a4"/><ellipse cx="0.452" cy="0.746" rx="0.047" ry="0.043" fill="#bababa"/><ellipse cx="0.702" cy="0.444" rx="0.020" ry="0.050" fill="#acacac"/><ellipse cx="0.328" cy="0.448" rx="0.042" ry="0.033" fill="#b3b3b3"/><ellipse cx="0.307" cy="0.243" rx="0.028" ry="0.041" fill="#a4a4a4"/><ellipse cx="0.713" cy="0.412" rx="0.054" ry="0.020" fill="#a4a4a4"/><ellipse cx="0.293" cy="0.567" rx="0.027" ry="0.018" fill="#b7b7b7"/><ellipse cx="0.569" cy="0.705" rx="0.050" ry="0.025" fill="#a8a8a8"/><ellipse cx="0.442" cy="0.198" rx="0.020" ry="0.047" fill="#b3b3b3"/><ellipse cx="0.153" cy="0.464" rx="0.026" ry="0.037" fill="#a4a4a4"/><ellipse cx="0.453" cy="0.856" rx="0.021" ry="0.038" fill="#b3b3b3"/><ellipse cx="0.401" cy="0.364" rx="0.043" ry="0.040" fill="#a8a8a8"/><ellipse cx="0.855" cy="0.470" rx="0.019" ry="0.052" fill="#a8a8a8"/><ellipse cx="0.437" cy="0.640" rx="0.021" ry="0.014" fill="#acacac"/><ellipse cx="0.326" cy="0.736" rx="0.015" ry="0.021" fill="#a4a4a4"/><ellipse cx="0.508" cy="0.495" rx="0.030" ry="0.025" fill="#acacac"/><ellipse cx="0.700" cy="0.278" rx="0.037" ry="0.055" fill="#b3b3b3"/><ellipse cx="0.416" cy="0.427" rx="0.037" ry="0.027" fill="#b3b3b3"/><ellipse cx="0.443" cy="0.706" rx="0.018" ry="0.030" fill="#b3b3b3"/><ellipse cx="0.363" cy="0.329" rx="0.018" ry="0.039" fill="#b3b3b3"/><ellipse cx="0.341" cy="0.523" rx="0.018" ry="0.016" fill="#a4a4a4"/><ellipse cx="0.618" cy="0.501" rx="0.037" ry="0.040" fill="#b7b7b7"/><ellipse cx="0.346" cy="0.800" rx="0.037" ry="0.031" fill="#b7b7b7"/><ellipse cx="0.251" cy="0.510" rx="0.044" ry="0.029" fill="#b7b7b7"/><ellipse cx="0.349" cy="0.396" rx="0.056" ry="0.034" fill="#acacac"/><ellipse cx="0.847" cy="0.543" rx="0.026" ry="0.054" fill="#b7b7b7"/><ellipse cx="0.376" cy="0.518" rx="0.040" ry="0.032" fill="#bababa"/><ellipse cx="0.629" cy="0.533" rx="0.030" ry="0.034" fill="#b3b3b3"/><ellipse cx="0.448" cy="0.844" rx="0.047" ry="0.023" fill="#bababa"/><ellipse cx="0.670" cy="0.246" rx="0.025" ry="0.034" fill="#acacac"/><ellipse cx="0.168" cy="0.462" rx="0.052" ry="0.052" fill="#a8a8a8"/><ellipse cx="0.513" cy="0.303" rx="0.036" ry="0.027" fill="#bababa"/><ellipse cx="0.493" cy="0.442" rx="0.028" ry="0.043" fill="#b3b3b3"/><ellipse cx="0.513" cy="0.514" rx="0.037" ry="0.043" fill="#a8a8a8"/><ellipse cx="0.703" cy="0.328" rx="0.013" ry="0.047" fill="#acacac"/><ellipse cx="0.253" cy="0.332" rx="0.055" ry="0.041" fill="#acacac"/><ellipse cx="0.206" cy="0.545" rx="0.044" ry="0.052" fill="#acacac"/><ellipse cx="0.545" cy="0.419" rx="0.050" ry="0.043" fill="#acacac"/><ellipse cx="0.248" cy="0.357" rx="0.033" ry="0.026" fill="#b7b7b7"/><ellipse cx="0.236" cy="0.536" rx="0.034" ry="0.027" fill="#b7b7b7"/><ellipse cx="0.264" cy="0.619" rx="0.014" ry="0.045" fill="#bababa"/><ellipse cx="0.636" cy="0.210" rx="0.042" ry="0.013" fill="#a4a4a4"/><ellipse cx="0.415" cy="0.541" rx="0.030" ry="0.034" fill="#a8a8a8"/><ellipse cx="0.592" cy="0.359" rx="0.041" ry="0.055" fill="#a4a4a4"/><ellipse cx="0.783" cy="0.280" rx="0.044" ry="0.032" fill="#b7b7b7"/><ellipse cx="0.322" cy="0.352" rx="0.019" ry="0.040" fill="#a8a8a8"/><ellipse cx="0.225" cy="0.400" rx="0.046" ry="0.025" fill="#b3b3b3"/><ellipse cx="0.224" cy="0.359" rx="0.052" ry="0.018" fill="#acacac"/><ellipse cx="0.750" cy="0.662" rx="0.034" ry="0.028" fill="#a4a4a4"/><ellipse cx="0.440" cy="0.560" rx="0.043" ry="0.019" fill="#a4a4a4"/><ellipse cx="0.415" cy="0.326" rx="0.054" ry="0.037" fill="#b7b7b7"/><ellipse cx="0.478" cy="0.766" rx="0.023" ry="0.046" fill="#b3b3b3"/><ellipse cx="0.820" cy="0.450" rx="0.051" ry="0.032" fill="#acacac"/><ellipse cx="0.631" cy="0.775" rx="0.041" ry="0.016" fill="#a4a4a4"/><ellipse cx="0.826" cy="0.575" rx="0.035" ry="0.032" fill="#acacac"/><ellipse cx="0.679" cy="0.326" rx="0.027" ry="0.048" fill="#a8a8a8"/><ellipse cx="0.285" cy="0.442" rx="0.050" ry="0.055" fill="#acacac"/><ellipse cx="0.429" cy="0.346" rx="0.017" ry="0.056" fill="#a4a4a4"/></g>
</g></g>
<g transform="matrix(135.2 9.8 -24.0 56.2 378.5 171.3)"><rect x="0" y="0" width="1" height="1" fill="#7f7f7f"/><g clip-path="url(#unit)">
<g clip-path="url(#disc)">
<circle cx="0.5" cy="0.5" r="0.36" fill="#888"/>
<path fill="rgb(24,24,24)" d="M0.393 0.140h0.015v0.015h-0.015zM0.513 0.153h0.015v0.015h-0.015zM0.407 0.167h0.015v0.015h-0.015zM0.513 0.167h0.015v0.015h-0.015zM0.647 0.167h0.015v0.015h-0.015zM0.407 0.180h0.015v0.015h-0.015zM0.513 0.180h0.015v0.015h-0.015zM0.633 0.180h0.015v0.015h-0.015zM0.287 0.193h0.015v0.015h-0.015zM0.513 0.193h0.015v0.015h-0.015zM0.633 0.193h0.015v0.015h-0.015zM0.287 0.207h0.015v0.015h-0.015zM0.420 0.207h0.015v0.015h-0.015zM0.300 0.220h0.015v0.015h-0.015zM0.420 0.220h0.015v0.015h-0.015zM0.620 0.220h0.015v0.015h-0.015zM0.313 0.233h0.015v0.015h-0.015zM0.433 0.233h0.015v0.015h-0.015zM0.753 0.233h0.015v0.015h-0.015zM0.433 0.247h0.015v0.015h-0.015zM0.607 0.247h0.015v0.015h-0.015zM0.740 0.247h0.029v0.015h-0.029zM0.447 0.260h0.015v0.015h-0.015zM0.607 0.260h0.015v0.015h-0.015zM0.740 0.260h0.015v0.015h-0.015zM0.447 0.273h0.015v0.015h-0.015zM0.727 0.273h0.015v0.015h-0.015zM0.193 0.287h0.029v0.015h-0.029zM0.460 0.287h0.015v0.015h-0.015zM0.713 0.287h0.015v0.015h-0.015zM0.220 0.300h0.015v0.015h-0.015zM0.460 0.300h0.015v0.015h-0.015zM0.700 0.300h0.015v0.015h-0.015zM0.233 0.313h0.029v0.015h-0.029zM0.460 0.313h0.015v0.015h-0.015zM0.687 0.313h0.015v0.015h-0.015zM0.260 0.327h0.015v0.015h-0.015zM0.673 0.327h0.015v0.015h-0.015zM0.273 0.340h0.015v0.015h-0.015zM0.473 0.340h0.015v0.015h-0.015zM0.660 0.340h0.015v0.015h-0.015zM0.820 0.340h0.015v0.015h-0.015zM0.287 0.353h0.015v0.015h-0.015zM0.473 0.353h0.015v0.015h-0.015zM0.633 0.353h0.029v0.015h-0.029zM0.780 0.353h0.029v0.015h-0.029zM0.300 0.367h0.015v0.015h-0.015zM0.620 0.367h0.029v0.015h-0.029zM0.313 0.380h0.015v0.015h-0.015zM0.620 0.380h0.015v0.015h-0.015zM0.313 0.393h0.029v0.015h-0.029zM0.607 0.393h0.015v0.015h-0.015zM0.140 0.407h0.042v0.015h-0.042zM0.327 0.407h0.029v0.015h-0.029zM0.193 0.420h0.042v0.015h-0.042zM0.273 0.420h0.015v0.015h-0.015zM0.340 0.420h0.029v0.015h-0.029zM0.367 0.433h0.015v0.015h-0.015zM0.793 0.460h0.069v0.015h-0.069zM0.740 0.473h0.029v0.015h-0.029zM0.713 0.487h0.029v0.015h-0.029zM0.687 0.500h0.042v0.015h-0.042zM0.633 0.513h0.095v0.015h-0.095zM0.140 0.527h0.095v0.015h-0.095zM0.620 0.527h0.015v0.015h-0.015zM0.713 0.527h0.015v0.015h-0.015zM0.727 0.540h0.015v0.015h-0.015zM0.527 0.553h0.015v0.015h-0.015zM0.740 0.553h0.015v0.015h-0.015zM0.540 0.567h0.015v0.015h-0.015zM0.767 0.567h0.029v0.015h-0.029zM0.327 0.580h0.042v0.015h-0.042zM0.540 0.580h0.029v0.015h-0.029zM0.807 0.580h0.042v0.015h-0.042zM0.287 0.593h0.029v0.015h-0.029zM0.553 0.593h0.015v0.015h-0.015zM0.260 0.607h0.029v0.015h-0.029zM0.567 0.607h0.015v0.015h-0.015zM0.233 0.620h0.029v0.015h-0.029zM0.487 0.620h0.029v0.015h-0.029zM0.580 0.620h0.015v0.015h-0.015zM0.207 0.633h0.029v0.015h-0.029zM0.473 0.633h0.015v0.015h-0.015zM0.580 0.633h0.029v0.015h-0.029zM0.180 0.647h0.029v0.015h-0.029zM0.460 0.647h0.015v0.015h-0.015zM0.593 0.647h0.015v0.015h-0.015zM0.167 0.660h0.015v0.015h-0.015zM0.460 0.660h0.015v0.015h-0.015zM0.607 0.660h0.015v0.015h-0.015zM0.727 0.660h0.015v0.015h-0.015zM0.460 0.673h0.015v0.015h-0.015zM0.620 0.673h0.015v0.015h-0.015zM0.740 0.673h0.029v0.015h-0.029zM0.313 0.687h0.015v0.015h-0.015zM0.447 0.687h0.015v0.015h-0.015zM0.620 0.687h0.029v0.015h-0.029zM0.767 0.687h0.015v0.015h-0.015zM0.300 0.700h0.015v0.015h-0.015zM0.447 0.700h0.015v0.015h-0.015zM0.633 0.700h0.015v0.015h-0.015zM0.780 0.700h0.029v0.015h-0.029zM0.287 0.713h0.015v0.015h-0.015zM0.447 0.713h0.015v0.015h-0.015zM0.647 0.713h0.015v0.015h-0.015zM0.273 0.727h0.015v0.015h-0.015zM0.433 0.727h0.029v0.015h-0.029zM0.660 0.727h0.015v0.015h-0.015zM0.260 0.740h0.015v0.015h-0.015zM0.420 0.740h0.042v0.015h-0.042zM0.660 0.740h0.015v0.015h-0.015zM0.247 0.753h0.015v0.015h-0.015zM0.407 0.753h0.029v0.015h-0.029zM0.447 0.753h0.029v0.015h-0.029zM0.673 0.753h0.015v0.015h-0.015zM0.460 0.767h0.015v0.015h-0.015zM0.687 0.767h0.015v0.015h-0.015zM0.380 0.780h0.015v0.015h-0.015zM0.460 0.780h0.015v0.015h-0.015zM0.700 0.780h0.015v0.015h-0.015zM0.367 0.793h0.015v0.015h-0.015zM0.580 0.793h0.015v0.015h-0.015zM0.700 0.793h0.015v0.015h-0.015zM0.367 0.807h0.015v0.015h-0.015zM0.580 0.807h0.015v0.015h-0.015zM0.353 0.820h0.015v0.015h-0.015zM0.580 0.820h0.015v0.015h-0.015zM0.353 0.833h0.015v0.015h-0.015zM0.593 0.847h0.015v0.015h-0.015z"/>
<path fill="rgb(49,49,49)" d="M0.407 0.140h0.015v0.015h-0.015zM0.527 0.140h0.015v0.015h-0.015zM0.407 0.153h0.015v0.015h-0.015zM0.527 0.153h0.015v0.015h-0.015zM0.527 0.167h0.015v0.015h-0.015zM0.660 0.167h0.015v0.015h-0.015zM0.420 0.180h0.015v0.015h-0.015zM0.647 0.180h0.015v0.015h-0.015zM0.300 0.193h0.015v0.015h-0.015zM0.420 0.193h0.015v0.015h-0.015zM0.647 0.193h0.015v0.015h-0.015zM0.300 0.207h0.015v0.015h-0.015zM0.513 0.207h0.015v0.015h-0.015zM0.633 0.207h0.015v0.015h-0.015zM0.313 0.220h0.015v0.015h-0.015zM0.433 0.220h0.015v0.015h-0.015zM0.500 0.220h0.015v0.015h-0.015zM0.633 0.220h0.015v0.015h-0.015zM0.447 0.233h0.015v0.015h-0.015zM0.620 0.233h0.015v0.015h-0.015zM0.327 0.247h0.015v0.015h-0.015zM0.447 0.247h0.029v0.015h-0.029zM0.620 0.247h0.015v0.015h-0.015zM0.767 0.247h0.015v0.015h-0.015zM0.460 0.260h0.015v0.015h-0.015zM0.753 0.260h0.015v0.015h-0.015zM0.207 0.273h0.015v0.015h-0.015zM0.460 0.273h0.029v0.015h-0.029zM0.607 0.273h0.015v0.015h-0.015zM0.740 0.273h0.015v0.015h-0.015zM0.220 0.287h0.015v0.015h-0.015zM0.473 0.287h0.015v0.015h-0.015zM0.607 0.287h0.015v0.015h-0.015zM0.727 0.287h0.015v0.015h-0.015zM0.233 0.300h0.029v0.015h-0.029zM0.473 0.300h0.015v0.015h-0.015zM0.713 0.300h0.015v0.015h-0.015zM0.260 0.313h0.015v0.015h-0.015zM0.473 0.313h0.015v0.015h-0.015zM0.700 0.313h0.015v0.015h-0.015zM0.273 0.327h0.015v0.015h-0.015zM0.473 0.327h0.015v0.015h-0.015zM0.687 0.327h0.015v0.015h-0.015zM0.287 0.340h0.029v0.015h-0.029zM0.673 0.340h0.029v0.015h-0.029zM0.300 0.353h0.029v0.015h-0.029zM0.660 0.353h0.015v0.015h-0.015zM0.807 0.353h0.029v0.015h-0.029zM0.313 0.367h0.015v0.015h-0.015zM0.647 0.367h0.015v0.015h-0.015zM0.767 0.367h0.029v0.015h-0.029zM0.327 0.380h0.015v0.015h-0.015zM0.633 0.380h0.015v0.015h-0.015zM0.140 0.393h0.029v0.015h-0.029zM0.340 0.393h0.015v0.015h-0.015zM0.180 0.407h0.042v0.015h-0.042zM0.353 0.407h0.015v0.015h-0.015zM0.233 0.420h0.042v0.015h-0.042zM0.367 0.420h0.015v0.015h-0.015zM0.767 0.473h0.095v0.015h-0.095zM0.740 0.487h0.015v0.015h-0.015zM0.727 0.500h0.015v0.015h-0.015zM0.727 0.513h0.015v0.015h-0.015zM0.233 0.527h0.015v0.015h-0.015zM0.633 0.527h0.082v0.015h-0.082zM0.700 0.540h0.029v0.015h-0.029zM0.713 0.553h0.029v0.015h-0.029zM0.327 0.567h0.029v0.015h-0.029zM0.527 0.567h0.015v0.015h-0.015zM0.740 0.567h0.029v0.015h-0.029zM0.287 0.580h0.042v0.015h-0.042zM0.367 0.580h0.015v0.015h-0.015zM0.513 0.580h0.029v0.015h-0.029zM0.780 0.580h0.029v0.015h-0.029zM0.260 0.593h0.029v0.015h-0.029zM0.513 0.593h0.042v0.015h-0.042zM0.820 0.593h0.042v0.015h-0.042zM0.247 0.607h0.015v0.015h-0.015zM0.473 0.607h0.042v0.015h-0.042zM0.540 0.607h0.029v0.015h-0.029zM0.207 0.620h0.029v0.015h-0.029zM0.460 0.620h0.029v0.015h-0.029zM0.553 0.620h0.029v0.015h-0.029zM0.180 0.633h0.029v0.015h-0.029zM0.460 0.633h0.015v0.015h-0.015zM0.567 0.633h0.015v0.015h-0.015zM0.167 0.647h0.015v0.015h-0.015zM0.447 0.647h0.015v0.015h-0.015zM0.580 0.647h0.015v0.015h-0.015zM0.447 0.660h0.015v0.015h-0.015zM0.593 0.660h0.015v0.015h-0.015zM0.713 0.660h0.015v0.015h-0.015zM0.313 0.673h0.015v0.015h-0.015zM0.447 0.673h0.015v0.015h-0.015zM0.593 0.673h0.029v0.015h-0.029zM0.727 0.673h0.015v0.015h-0.015zM0.300 0.687h0.015v0.015h-0.015zM0.433 0.687h0.015v0.015h-0.015zM0.607 0.687h0.015v0.015h-0.015zM0.753 0.687h0.015v0.015h-0.015zM0.287 0.700h0.015v0.015h-0.015zM0.433 0.700h0.015v0.015h-0.015zM0.620 0.700h0.015v0.015h-0.015zM0.767 0.700h0.015v0.015h-0.015zM0.273 0.713h0.015v0.015h-0.015zM0.420 0.713h0.029v0.015h-0.029zM0.633 0.713h0.015v0.015h-0.015zM0.780 0.713h0.015v0.015h-0.015zM0.260 0.727h0.015v0.015h-0.015zM0.420 0.727h0.015v0.015h-0.015zM0.647 0.727h0.015v0.015h-0.015zM0.247 0.740h0.015v0.015h-0.015zM0.407 0.740h0.015v0.015h-0.015zM0.233 0.753h0.015v0.015h-0.015zM0.393 0.753h0.015v0.015h-0.015zM0.433 0.753h0.015v0.015h-0.015zM0.660 0.753h0.015v0.015h-0.015zM0.380 0.767h0.015v0.015h-0.015zM0.447 0.767h0.015v0.015h-0.015zM0.567 0.767h0.015v0.015h-0.015zM0.673 0.767h0.015v0.015h-0.015zM0.367 0.780h0.015v0.015h-0.015zM0.567 0.780h0.015v0.015h-0.015zM0.687 0.780h0.015v0.015h-0.015zM0.353 0.793h0.015v0.015h-0.015zM0.460 0.793h0.015v0.015h-0.015zM0.567 0.793h0.015v0.015h-0.015zM0.687 0.793h0.015v0.015h-0.015zM0.353 0.807h0.015v0.015h-0.015zM0.460 0.807h0.015v0.015h-0.015zM0.340 0.820h0.015v0.015h-0.015zM0.460 0.820h0.015v0.015h-0.015zM0.460 0.833h0.015v0.015h-0.015zM0.580 0.833h0.015v0.015h-0.015zM0.460 0.847h0.015v0.015h-0.015zM0.580 0.847h0.015v0.015h-0.015z"/>
<path fill="rgb(72,72,72)" d="M0.420 0.140h0.015v0.015h-0.015zM0.540 0.140h0.015v0.015h-0.015zM0.420 0.153h0.015v0.015h-0.015zM0.540 0.153h0.015v0.015h-0.015zM0.420 0.167h0.015v0.015h-0.015zM0.300 0.180h0.015v0.015h-0.015zM0.527 0.180h0.015v0.015h-0.015zM0.660 0.180h0.015v0.015h-0.015zM0.433 0.193h0.015v0.015h-0.015zM0.527 0.193h0.015v0.015h-0.015zM0.660 0.193h0.015v0.015h-0.015zM0.313 0.207h0.015v0.015h-0.015zM0.433 0.207h0.015v0.015h-0.015zM0.527 0.207h0.015v0.015h-0.015zM0.647 0.207h0.015v0.015h-0.015zM0.447 0.220h0.015v0.015h-0.015zM0.513 0.220h0.015v0.015h-0.015zM0.327 0.233h0.015v0.015h-0.015zM0.460 0.233h0.055v0.015h-0.055zM0.633 0.233h0.015v0.015h-0.015zM0.473 0.247h0.042v0.015h-0.042zM0.473 0.260h0.029v0.015h-0.029zM0.620 0.260h0.015v0.015h-0.015zM0.767 0.260h0.015v0.015h-0.015zM0.220 0.273h0.015v0.015h-0.015zM0.487 0.273h0.015v0.015h-0.015zM0.753 0.273h0.015v0.015h-0.015zM0.233 0.287h0.015v0.015h-0.015zM0.487 0.287h0.015v0.015h-0.015zM0.740 0.287h0.015v0.015h-0.015zM0.260 0.300h0.015v0.015h-0.015zM0.487 0.300h0.015v0.015h-0.015zM0.727 0.300h0.015v0.015h-0.015zM0.273 0.313h0.015v0.015h-0.015zM0.487 0.313h0.015v0.015h-0.015zM0.713 0.313h0.015v0.015h-0.015zM0.287 0.327h0.029v0.015h-0.029zM0.487 0.327h0.015v0.015h-0.015zM0.700 0.327h0.029v0.015h-0.029zM0.313 0.340h0.015v0.015h-0.015zM0.487 0.340h0.015v0.015h-0.015zM0.700 0.340h0.015v0.015h-0.015zM0.327 0.353h0.015v0.015h-0.015zM0.673 0.353h0.029v0.015h-0.029zM0.833 0.353h0.015v0.015h-0.015zM0.327 0.367h0.029v0.015h-0.029zM0.660 0.367h0.029v0.015h-0.029zM0.753 0.367h0.015v0.015h-0.015zM0.793 0.367h0.029v0.015h-0.029zM0.153 0.380h0.015v0.015h-0.015zM0.340 0.380h0.029v0.015h-0.029zM0.647 0.380h0.015v0.015h-0.015zM0.167 0.393h0.042v0.015h-0.042zM0.353 0.393h0.015v0.015h-0.015zM0.620 0.393h0.029v0.015h-0.029zM0.220 0.407h0.029v0.015h-0.029zM0.367 0.407h0.015v0.015h-0.015zM0.607 0.407h0.015v0.015h-0.015zM0.753 0.487h0.055v0.015h-0.055zM0.740 0.500h0.015v0.015h-0.015zM0.140 0.513h0.109v0.015h-0.109zM0.247 0.527h0.015v0.015h-0.015zM0.620 0.540h0.082v0.015h-0.082zM0.313 0.553h0.042v0.015h-0.042zM0.513 0.553h0.015v0.015h-0.015zM0.687 0.553h0.029v0.015h-0.029zM0.287 0.567h0.042v0.015h-0.042zM0.353 0.567h0.029v0.015h-0.029zM0.500 0.567h0.029v0.015h-0.029zM0.713 0.567h0.029v0.015h-0.029zM0.273 0.580h0.015v0.015h-0.015zM0.487 0.580h0.029v0.015h-0.029zM0.753 0.580h0.029v0.015h-0.029zM0.247 0.593h0.015v0.015h-0.015zM0.460 0.593h0.055v0.015h-0.055zM0.780 0.593h0.042v0.015h-0.042zM0.220 0.607h0.029v0.015h-0.029zM0.447 0.607h0.029v0.015h-0.029zM0.513 0.607h0.029v0.015h-0.029zM0.820 0.607h0.029v0.015h-0.029zM0.193 0.620h0.015v0.015h-0.015zM0.447 0.620h0.015v0.015h-0.015zM0.513 0.620h0.015v0.015h-0.015zM0.540 0.620h0.015v0.015h-0.015zM0.153 0.633h0.029v0.015h-0.029zM0.433 0.633h0.029v0.015h-0.029zM0.553 0.633h0.015v0.015h-0.015zM0.433 0.647h0.015v0.015h-0.015zM0.567 0.647h0.015v0.015h-0.015zM0.433 0.660h0.015v0.015h-0.015zM0.567 0.660h0.029v0.015h-0.029zM0.300 0.673h0.015v0.015h-0.015zM0.420 0.673h0.029v0.015h-0.029zM0.580 0.673h0.015v0.015h-0.015zM0.287 0.687h0.015v0.015h-0.015zM0.420 0.687h0.015v0.015h-0.015zM0.593 0.687h0.015v0.015h-0.015zM0.740 0.687h0.015v0.015h-0.015zM0.273 0.700h0.015v0.015h-0.015zM0.420 0.700h0.015v0.015h-0.015zM0.593 0.700h0.029v0.015h-0.029zM0.753 0.700h0.015v0.015h-0.015zM0.260 0.713h0.015v0.015h-0.015zM0.407 0.713h0.015v0.015h-0.015zM0.607 0.713h0.029v0.015h-0.029zM0.767 0.713h0.015v0.015h-0.015zM0.247 0.727h0.015v0.015h-0.015zM0.393 0.727h0.029v0.015h-0.029zM0.633 0.727h0.015v0.015h-0.015zM0.233 0.740h0.015v0.015h-0.015zM0.380 0.740h0.029v0.015h-0.029zM0.647 0.740h0.015v0.015h-0.015zM0.380 0.753h0.015v0.015h-0.015zM0.567 0.753h0.015v0.015h-0.015zM0.647 0.753h0.015v0.015h-0.015zM0.367 0.767h0.015v0.015h-0.015zM0.660 0.767h0.015v0.015h-0.015zM0.353 0.780h0.015v0.015h-0.015zM0.447 0.780h0.015v0.015h-0.015zM0.673 0.780h0.015v0.015h-0.015zM0.447 0.793h0.015v0.015h-0.015zM0.673 0.793h0.015v0.015h-0.015zM0.340 0.807h0.015v0.015h-0.015zM0.447 0.807h0.015v0.015h-0.015zM0.567 0.807h0.015v0.015h-0.015zM0.687 0.807h0.015v0.015h-0.015zM0.327 0.820h0.015v0.015h-0.015zM0.447 0.820h0.015v0.015h-0.015zM0.567 0.820h0.015v0.015h-0.015zM0.447 0.833h0.015v0.015h-0.015zM0.567 0.833h0.015v0.015h-0.015zM0.447 0.847h0.015v0.015h-0.015zM0.567 0.847h0.015v0.015h-0.015z"/>
<path fill="rgb(93,93,93)" d="M0.433 0.140h0.015v0.015h-0.015zM0.553 0.140h0.015v0.015h-0.015zM0.433 0.153h0.015v0.015h-0.015zM0.433 0.167h0.015v0.015h-0.015zM0.540 0.167h0.015v0.015h-0.015zM0.313 0.180h0.015v0.015h-0.015zM0.433 0.180h0.015v0.015h-0.015zM0.540 0.180h0.015v0.015h-0.015zM0.673 0.180h0.015v0.015h-0.015zM0.313 0.193h0.015v0.015h-0.015zM0.447 0.193h0.015v0.015h-0.015zM0.540 0.193h0.015v0.015h-0.015zM0.327 0.207h0.015v0.015h-0.015zM0.447 0.207h0.015v0.015h-0.015zM0.660 0.207h0.015v0.015h-0.015zM0.327 0.220h0.015v0.015h-0.015zM0.460 0.220h0.015v0.015h-0.015zM0.527 0.220h0.015v0.015h-0.015zM0.647 0.220h0.015v0.015h-0.015zM0.513 0.233h0.015v0.015h-0.015zM0.647 0.233h0.015v0.015h-0.015zM0.340 0.247h0.015v0.015h-0.015zM0.513 0.247h0.015v0.015h-0.015zM0.633 0.247h0.015v0.015h-0.015zM0.220 0.260h0.015v0.015h-0.015zM0.500 0.260h0.029v0.015h-0.029zM0.633 0.260h0.015v0.015h-0.015zM0.233 0.273h0.015v0.015h-0.015zM0.500 0.273h0.015v0.015h-0.015zM0.620 0.273h0.015v0.015h-0.015zM0.767 0.273h0.015v0.015h-0.015zM0.247 0.287h0.029v0.015h-0.029zM0.500 0.287h0.015v0.015h-0.015zM0.753 0.287h0.015v0.015h-0.015zM0.273 0.300h0.015v0.015h-0.015zM0.500 0.300h0.015v0.015h-0.015zM0.740 0.300h0.015v0.015h-0.015zM0.287 0.313h0.029v0.015h-0.029zM0.500 0.313h0.015v0.015h-0.015zM0.727 0.313h0.015v0.015h-0.015zM0.313 0.327h0.015v0.015h-0.015zM0.500 0.327h0.015v0.015h-0.015zM0.327 0.340h0.015v0.015h-0.015zM0.713 0.340h0.015v0.015h-0.015zM0.340 0.353h0.015v0.015h-0.015zM0.487 0.353h0.015v0.015h-0.015zM0.700 0.353h0.015v0.015h-0.015zM0.353 0.367h0.015v0.015h-0.015zM0.687 0.367h0.015v0.015h-0.015zM0.820 0.367h0.029v0.015h-0.029zM0.167 0.380h0.029v0.015h-0.029zM0.367 0.380h0.015v0.015h-0.015zM0.660 0.380h0.029v0.015h-0.029zM0.767 0.380h0.042v0.015h-0.042zM0.207 0.393h0.029v0.015h-0.029zM0.367 0.393h0.015v0.015h-0.015zM0.647 0.393h0.015v0.015h-0.015zM0.247 0.407h0.042v0.015h-0.042zM0.380 0.407h0.015v0.015h-0.015zM0.620 0.407h0.015v0.015h-0.015zM0.380 0.420h0.015v0.015h-0.015zM0.380 0.433h0.015v0.015h-0.015zM0.807 0.487h0.055v0.015h-0.055zM0.140 0.500h0.082v0.015h-0.082zM0.753 0.500h0.015v0.015h-0.015zM0.247 0.513h0.015v0.015h-0.015zM0.260 0.527h0.015v0.015h-0.015zM0.300 0.540h0.069v0.015h-0.069zM0.273 0.553h0.042v0.015h-0.042zM0.353 0.553h0.042v0.015h-0.042zM0.487 0.553h0.029v0.015h-0.029zM0.660 0.553h0.029v0.015h-0.029zM0.273 0.567h0.015v0.015h-0.015zM0.380 0.567h0.015v0.015h-0.015zM0.447 0.567h0.055v0.015h-0.055zM0.687 0.567h0.029v0.015h-0.029zM0.247 0.580h0.029v0.015h-0.029zM0.433 0.580h0.055v0.015h-0.055zM0.727 0.580h0.029v0.015h-0.029zM0.233 0.593h0.015v0.015h-0.015zM0.433 0.593h0.029v0.015h-0.029zM0.753 0.593h0.029v0.015h-0.029zM0.193 0.607h0.029v0.015h-0.029zM0.433 0.607h0.015v0.015h-0.015zM0.793 0.607h0.029v0.015h-0.029zM0.153 0.620h0.042v0.015h-0.042zM0.420 0.620h0.029v0.015h-0.029zM0.527 0.620h0.015v0.015h-0.015zM0.833 0.620h0.015v0.015h-0.015zM0.420 0.633h0.015v0.015h-0.015zM0.540 0.633h0.015v0.015h-0.015zM0.420 0.647h0.015v0.015h-0.015zM0.553 0.647h0.015v0.015h-0.015zM0.313 0.660h0.015v0.015h-0.015zM0.420 0.660h0.015v0.015h-0.015zM0.553 0.660h0.015v0.015h-0.015zM0.700 0.660h0.015v0.015h-0.015zM0.407 0.673h0.015v0.015h-0.015zM0.567 0.673h0.015v0.015h-0.015zM0.713 0.673h0.015v0.015h-0.015zM0.273 0.687h0.015v0.015h-0.015zM0.407 0.687h0.015v0.015h-0.015zM0.567 0.687h0.029v0.015h-0.029zM0.727 0.687h0.015v0.015h-0.015zM0.260 0.700h0.015v0.015h-0.015zM0.393 0.700h0.029v0.015h-0.029zM0.580 0.700h0.015v0.015h-0.015zM0.740 0.700h0.015v0.015h-0.015zM0.247 0.713h0.015v0.015h-0.015zM0.393 0.713h0.015v0.015h-0.015zM0.580 0.713h0.029v0.015h-0.029zM0.753 0.713h0.015v0.015h-0.015zM0.233 0.727h0.015v0.015h-0.015zM0.380 0.727h0.015v0.015h-0.015zM0.607 0.727h0.029v0.015h-0.029zM0.767 0.727h0.015v0.015h-0.015zM0.220 0.740h0.015v0.015h-0.015zM0.367 0.740h0.015v0.015h-0.015zM0.567 0.740h0.015v0.015h-0.015zM0.633 0.740h0.015v0.015h-0.015zM0.367 0.753h0.015v0.015h-0.015zM0.553 0.753h0.015v0.015h-0.015zM0.633 0.753h0.015v0.015h-0.015zM0.353 0.767h0.015v0.015h-0.015zM0.433 0.767h0.015v0.015h-0.015zM0.553 0.767h0.015v0.015h-0.015zM0.647 0.767h0.015v0.015h-0.015zM0.340 0.780h0.015v0.015h-0.015zM0.553 0.780h0.015v0.015h-0.015zM0.660 0.780h0.015v0.015h-0.015zM0.340 0.793h0.015v0.015h-0.015zM0.553 0.793h0.015v0.015h-0.015zM0.327 0.807h0.015v0.015h-0.015zM0.553 0.807h0.015v0.015h-0.015zM0.673 0.807h0.015v0.015h-0.015zM0.553 0.820h0.015v0.015h-0.015zM0.553 0.833h0.015v0.015h-0.015zM0.433 0.847h0.015v0.015h-0.015z"/>
<path fill="rgb(114,114,114)" d="M0.567 0.140h0.015v0.015h-0.015zM0.553 0.153h0.015v0.015h-0.015zM0.447 0.167h0.015v0.015h-0.015zM0.553 0.167h0.015v0.015h-0.015zM0.327 0.180h0.015v0.015h-0.015zM0.447 0.180h0.015v0.015h-0.015zM0.553 0.180h0.015v0.015h-0.015zM0.687 0.180h0.015v0.015h-0.015zM0.327 0.193h0.015v0.015h-0.015zM0.673 0.193h0.015v0.015h-0.015zM0.460 0.207h0.015v0.015h-0.015zM0.540 0.207h0.015v0.015h-0.015zM0.673 0.207h0.015v0.015h-0.015zM0.340 0.220h0.015v0.015h-0.015zM0.540 0.220h0.015v0.015h-0.015zM0.660 0.220h0.015v0.015h-0.015zM0.340 0.233h0.015v0.015h-0.015zM0.527 0.233h0.015v0.015h-0.015zM0.660 0.233h0.015v0.015h-0.015zM0.220 0.247h0.015v0.015h-0.015zM0.527 0.247h0.015v0.015h-0.015zM0.647 0.247h0.015v0.015h-0.015zM0.233 0.260h0.015v0.015h-0.015zM0.340 0.260h0.015v0.015h-0.015zM0.527 0.260h0.015v0.015h-0.015zM0.247 0.273h0.029v0.015h-0.029zM0.513 0.273h0.015v0.015h-0.015zM0.633 0.273h0.015v0.015h-0.015zM0.780 0.273h0.015v0.015h-0.015zM0.273 0.287h0.015v0.015h-0.015zM0.513 0.287h0.015v0.015h-0.015zM0.620 0.287h0.015v0.015h-0.015zM0.767 0.287h0.015v0.015h-0.015zM0.287 0.300h0.029v0.015h-0.029zM0.513 0.300h0.015v0.015h-0.015zM0.753 0.300h0.015v0.015h-0.015zM0.313 0.313h0.029v0.015h-0.029zM0.513 0.313h0.015v0.015h-0.015zM0.740 0.313h0.015v0.015h-0.015zM0.327 0.327h0.029v0.015h-0.029zM0.513 0.327h0.015v0.015h-0.015zM0.727 0.327h0.015v0.015h-0.015zM0.340 0.340h0.029v0.015h-0.029zM0.500 0.340h0.015v0.015h-0.015zM0.727 0.340h0.015v0.015h-0.015zM0.353 0.353h0.029v0.015h-0.029zM0.500 0.353h0.015v0.015h-0.015zM0.713 0.353h0.029v0.015h-0.029zM0.153 0.367h0.042v0.015h-0.042zM0.367 0.367h0.015v0.015h-0.015zM0.700 0.367h0.029v0.015h-0.029zM0.193 0.380h0.029v0.015h-0.029zM0.380 0.380h0.015v0.015h-0.015zM0.687 0.380h0.029v0.015h-0.029zM0.753 0.380h0.015v0.015h-0.015zM0.807 0.380h0.042v0.015h-0.042zM0.233 0.393h0.029v0.015h-0.029zM0.380 0.393h0.029v0.015h-0.029zM0.660 0.393h0.029v0.015h-0.029zM0.393 0.407h0.015v0.015h-0.015zM0.633 0.407h0.029v0.015h-0.029zM0.393 0.420h0.015v0.015h-0.015zM0.393 0.433h0.015v0.015h-0.015zM0.140 0.487h0.042v0.015h-0.042zM0.220 0.500h0.042v0.015h-0.042zM0.767 0.500h0.095v0.015h-0.095zM0.260 0.513h0.029v0.015h-0.029zM0.273 0.527h0.189v0.015h-0.189zM0.260 0.540h0.042v0.015h-0.042zM0.367 0.540h0.149v0.015h-0.149zM0.260 0.553h0.015v0.015h-0.015zM0.393 0.553h0.095v0.015h-0.095zM0.633 0.553h0.029v0.015h-0.029zM0.260 0.567h0.015v0.015h-0.015zM0.393 0.567h0.055v0.015h-0.055zM0.660 0.567h0.029v0.015h-0.029zM0.233 0.580h0.015v0.015h-0.015zM0.380 0.580h0.055v0.015h-0.055zM0.687 0.580h0.042v0.015h-0.042zM0.207 0.593h0.029v0.015h-0.029zM0.407 0.593h0.029v0.015h-0.029zM0.727 0.593h0.029v0.015h-0.029zM0.167 0.607h0.029v0.015h-0.029zM0.407 0.607h0.029v0.015h-0.029zM0.767 0.607h0.029v0.015h-0.029zM0.407 0.620h0.015v0.015h-0.015zM0.807 0.620h0.029v0.015h-0.029zM0.407 0.633h0.015v0.015h-0.015zM0.527 0.633h0.015v0.015h-0.015zM0.833 0.633h0.015v0.015h-0.015zM0.407 0.647h0.015v0.015h-0.015zM0.540 0.647h0.015v0.015h-0.015zM0.300 0.660h0.015v0.015h-0.015zM0.393 0.660h0.029v0.015h-0.029zM0.540 0.660h0.015v0.015h-0.015zM0.287 0.673h0.015v0.015h-0.015zM0.393 0.673h0.015v0.015h-0.015zM0.553 0.673h0.015v0.015h-0.015zM0.700 0.673h0.015v0.015h-0.015zM0.260 0.687h0.015v0.015h-0.015zM0.393 0.687h0.015v0.015h-0.015zM0.553 0.687h0.015v0.015h-0.015zM0.713 0.687h0.015v0.015h-0.015zM0.247 0.700h0.015v0.015h-0.015zM0.380 0.700h0.015v0.015h-0.015zM0.553 0.700h0.029v0.015h-0.029zM0.727 0.700h0.015v0.015h-0.015zM0.233 0.713h0.015v0.015h-0.015zM0.380 0.713h0.015v0.015h-0.015zM0.567 0.713h0.015v0.015h-0.015zM0.740 0.713h0.015v0.015h-0.015zM0.220 0.727h0.015v0.015h-0.015zM0.367 0.727h0.015v0.015h-0.015zM0.553 0.727h0.055v0.015h-0.055zM0.753 0.727h0.015v0.015h-0.015zM0.553 0.740h0.015v0.015h-0.015zM0.580 0.740h0.015v0.015h-0.015zM0.620 0.740h0.015v0.015h-0.015zM0.767 0.740h0.015v0.015h-0.015zM0.353 0.753h0.015v0.015h-0.015zM0.340 0.767h0.015v0.015h-0.015zM0.633 0.767h0.015v0.015h-0.015zM0.327 0.780h0.015v0.015h-0.015zM0.433 0.780h0.015v0.015h-0.015zM0.540 0.780h0.015v0.015h-0.015zM0.647 0.780h0.015v0.015h-0.015zM0.327 0.793h0.015v0.015h-0.015zM0.433 0.793h0.015v0.015h-0.015zM0.540 0.793h0.015v0.015h-0.015zM0.660 0.793h0.015v0.015h-0.015zM0.313 0.807h0.015v0.015h-0.015zM0.433 0.807h0.015v0.015h-0.015zM0.660 0.807h0.015v0.015h-0.015zM0.433 0.820h0.015v0.015h-0.015zM0.433 0.833h0.015v0.015h-0.015zM0.553 0.847h0.015v0.015h-0.015z"/>
<path fill="rgb(134,134,134)" d="M0.447 0.140h0.015v0.015h-0.015zM0.447 0.153h0.015v0.015h-0.015zM0.567 0.153h0.015v0.015h-0.015zM0.327 0.167h0.015v0.015h-0.015zM0.567 0.167h0.015v0.015h-0.015zM0.460 0.180h0.015v0.015h-0.015zM0.340 0.193h0.015v0.015h-0.015zM0.460 0.193h0.015v0.015h-0.015zM0.553 0.193h0.015v0.015h-0.015zM0.687 0.193h0.015v0.015h-0.015zM0.340 0.207h0.015v0.015h-0.015zM0.553 0.207h0.015v0.015h-0.015zM0.687 0.207h0.015v0.015h-0.015zM0.473 0.220h0.015v0.015h-0.015zM0.553 0.220h0.015v0.015h-0.015zM0.673 0.220h0.015v0.015h-0.015zM0.353 0.233h0.015v0.015h-0.015zM0.540 0.233h0.015v0.015h-0.015zM0.233 0.247h0.015v0.015h-0.015zM0.353 0.247h0.015v0.015h-0.015zM0.540 0.247h0.015v0.015h-0.015zM0.660 0.247h0.015v0.015h-0.015zM0.247 0.260h0.015v0.015h-0.015zM0.353 0.260h0.015v0.015h-0.015zM0.540 0.260h0.015v0.015h-0.015zM0.647 0.260h0.015v0.015h-0.015zM0.273 0.273h0.015v0.015h-0.015zM0.527 0.273h0.015v0.015h-0.015zM0.287 0.287h0.029v0.015h-0.029zM0.527 0.287h0.015v0.015h-0.015zM0.780 0.287h0.015v0.015h-0.015zM0.313 0.300h0.042v0.015h-0.042zM0.527 0.300h0.015v0.015h-0.015zM0.767 0.300h0.015v0.015h-0.015zM0.340 0.313h0.029v0.015h-0.029zM0.527 0.313h0.015v0.015h-0.015zM0.753 0.313h0.015v0.015h-0.015zM0.353 0.327h0.029v0.015h-0.029zM0.527 0.327h0.015v0.015h-0.015zM0.740 0.327h0.015v0.015h-0.015zM0.367 0.340h0.015v0.015h-0.015zM0.513 0.340h0.015v0.015h-0.015zM0.740 0.340h0.015v0.015h-0.015zM0.153 0.353h0.029v0.015h-0.029zM0.380 0.353h0.015v0.015h-0.015zM0.513 0.353h0.015v0.015h-0.015zM0.193 0.367h0.029v0.015h-0.029zM0.380 0.367h0.029v0.015h-0.029zM0.487 0.367h0.029v0.015h-0.029zM0.727 0.367h0.029v0.015h-0.029zM0.220 0.380h0.029v0.015h-0.029zM0.393 0.380h0.015v0.015h-0.015zM0.713 0.380h0.042v0.015h-0.042zM0.260 0.393h0.015v0.015h-0.015zM0.407 0.393h0.015v0.015h-0.015zM0.687 0.393h0.149v0.015h-0.149zM0.407 0.407h0.029v0.015h-0.029zM0.660 0.407h0.042v0.015h-0.042zM0.407 0.420h0.029v0.015h-0.029zM0.607 0.420h0.055v0.015h-0.055zM0.407 0.433h0.029v0.015h-0.029zM0.393 0.447h0.042v0.015h-0.042zM0.407 0.460h0.042v0.015h-0.042zM0.407 0.473h0.055v0.015h-0.055zM0.180 0.487h0.069v0.015h-0.069zM0.393 0.487h0.082v0.015h-0.082zM0.260 0.500h0.042v0.015h-0.042zM0.367 0.500h0.122v0.015h-0.122zM0.287 0.513h0.215v0.015h-0.215zM0.740 0.513h0.122v0.015h-0.122zM0.460 0.527h0.055v0.015h-0.055zM0.513 0.540h0.015v0.015h-0.015zM0.620 0.553h0.015v0.015h-0.015zM0.247 0.567h0.015v0.015h-0.015zM0.633 0.567h0.029v0.015h-0.029zM0.220 0.580h0.015v0.015h-0.015zM0.660 0.580h0.029v0.015h-0.029zM0.180 0.593h0.029v0.015h-0.029zM0.393 0.593h0.015v0.015h-0.015zM0.687 0.593h0.042v0.015h-0.042zM0.153 0.607h0.015v0.015h-0.015zM0.393 0.607h0.015v0.015h-0.015zM0.727 0.607h0.042v0.015h-0.042zM0.393 0.620h0.015v0.015h-0.015zM0.767 0.620h0.042v0.015h-0.042zM0.393 0.633h0.015v0.015h-0.015zM0.807 0.633h0.029v0.015h-0.029zM0.393 0.647h0.015v0.015h-0.015zM0.527 0.647h0.015v0.015h-0.015zM0.287 0.660h0.015v0.015h-0.015zM0.380 0.660h0.015v0.015h-0.015zM0.273 0.673h0.015v0.015h-0.015zM0.380 0.673h0.015v0.015h-0.015zM0.540 0.673h0.015v0.015h-0.015zM0.247 0.687h0.015v0.015h-0.015zM0.380 0.687h0.015v0.015h-0.015zM0.540 0.687h0.015v0.015h-0.015zM0.700 0.687h0.015v0.015h-0.015zM0.233 0.700h0.015v0.015h-0.015zM0.367 0.700h0.015v0.015h-0.015zM0.540 0.700h0.015v0.015h-0.015zM0.713 0.700h0.015v0.015h-0.015zM0.207 0.713h0.029v0.015h-0.029zM0.367 0.713h0.015v0.015h-0.015zM0.540 0.713h0.029v0.015h-0.029zM0.727 0.713h0.015v0.015h-0.015zM0.353 0.727h0.015v0.015h-0.015zM0.540 0.727h0.015v0.015h-0.015zM0.740 0.727h0.015v0.015h-0.015zM0.353 0.740h0.015v0.015h-0.015zM0.540 0.740h0.015v0.015h-0.015zM0.593 0.740h0.029v0.015h-0.029zM0.753 0.740h0.015v0.015h-0.015zM0.340 0.753h0.015v0.015h-0.015zM0.540 0.753h0.015v0.015h-0.015zM0.620 0.753h0.015v0.015h-0.015zM0.327 0.767h0.015v0.015h-0.015zM0.540 0.767h0.015v0.015h-0.015zM0.633 0.780h0.015v0.015h-0.015zM0.313 0.793h0.015v0.015h-0.015zM0.647 0.793h0.015v0.015h-0.015zM0.300 0.807h0.015v0.015h-0.015zM0.540 0.807h0.015v0.015h-0.015zM0.647 0.807h0.015v0.015h-0.015zM0.420 0.820h0.015v0.015h-0.015zM0.540 0.820h0.015v0.015h-0.015zM0.660 0.820h0.015v0.015h-0.015zM0.420 0.833h0.015v0.015h-0.015zM0.540 0.833h0.015v0.015h-0.015zM0.420 0.847h0.015v0.015h-0.015zM0.540 0.847h0.015v0.015h-0.015z"/>
<path fill="rgb(153,153,153)" d="M0.460 0.140h0.015v0.015h-0.015zM0.580 0.140h0.015v0.015h-0.015zM0.460 0.153h0.015v0.015h-0.015zM0.580 0.153h0.015v0.015h-0.015zM0.340 0.167h0.015v0.015h-0.015zM0.460 0.167h0.015v0.015h-0.015zM0.580 0.167h0.015v0.015h-0.015zM0.340 0.180h0.015v0.015h-0.015zM0.567 0.180h0.015v0.015h-0.015zM0.353 0.193h0.015v0.015h-0.015zM0.567 0.193h0.015v0.015h-0.015zM0.700 0.193h0.015v0.015h-0.015zM0.353 0.207h0.015v0.015h-0.015zM0.473 0.207h0.015v0.015h-0.015zM0.567 0.207h0.015v0.015h-0.015zM0.700 0.207h0.015v0.015h-0.015zM0.353 0.220h0.015v0.015h-0.015zM0.687 0.220h0.015v0.015h-0.015zM0.233 0.233h0.015v0.015h-0.015zM0.553 0.233h0.015v0.015h-0.015zM0.673 0.233h0.015v0.015h-0.015zM0.247 0.247h0.015v0.015h-0.015zM0.367 0.247h0.015v0.015h-0.015zM0.553 0.247h0.015v0.015h-0.015zM0.673 0.247h0.015v0.015h-0.015zM0.260 0.260h0.029v0.015h-0.029zM0.367 0.260h0.015v0.015h-0.015zM0.553 0.260h0.015v0.015h-0.015zM0.660 0.260h0.015v0.015h-0.015zM0.287 0.273h0.015v0.015h-0.015zM0.340 0.273h0.042v0.015h-0.042zM0.540 0.273h0.015v0.015h-0.015zM0.647 0.273h0.015v0.015h-0.015zM0.313 0.287h0.069v0.015h-0.069zM0.540 0.287h0.015v0.015h-0.015zM0.633 0.287h0.015v0.015h-0.015zM0.793 0.287h0.015v0.015h-0.015zM0.353 0.300h0.029v0.015h-0.029zM0.540 0.300h0.015v0.015h-0.015zM0.780 0.300h0.015v0.015h-0.015zM0.367 0.313h0.015v0.015h-0.015zM0.540 0.313h0.015v0.015h-0.015zM0.767 0.313h0.015v0.015h-0.015zM0.380 0.327h0.015v0.015h-0.015zM0.540 0.327h0.015v0.015h-0.015zM0.753 0.327h0.015v0.015h-0.015zM0.167 0.340h0.015v0.015h-0.015zM0.380 0.340h0.029v0.015h-0.029zM0.527 0.340h0.029v0.015h-0.029zM0.180 0.353h0.029v0.015h-0.029zM0.393 0.353h0.015v0.015h-0.015zM0.527 0.353h0.015v0.015h-0.015zM0.740 0.353h0.015v0.015h-0.015zM0.220 0.367h0.015v0.015h-0.015zM0.407 0.367h0.015v0.015h-0.015zM0.513 0.367h0.029v0.015h-0.029zM0.247 0.380h0.015v0.015h-0.015zM0.407 0.380h0.029v0.015h-0.029zM0.487 0.380h0.042v0.015h-0.042zM0.420 0.393h0.029v0.015h-0.029zM0.487 0.393h0.042v0.015h-0.042zM0.833 0.393h0.029v0.015h-0.029zM0.433 0.407h0.082v0.015h-0.082zM0.700 0.407h0.122v0.015h-0.122zM0.433 0.420h0.069v0.015h-0.069zM0.660 0.420h0.042v0.015h-0.042zM0.433 0.433h0.069v0.015h-0.069zM0.620 0.433h0.042v0.015h-0.042zM0.380 0.447h0.015v0.015h-0.015zM0.433 0.447h0.069v0.015h-0.069zM0.380 0.460h0.029v0.015h-0.029zM0.447 0.460h0.069v0.015h-0.069zM0.140 0.473h0.095v0.015h-0.095zM0.380 0.473h0.029v0.015h-0.029zM0.460 0.473h0.055v0.015h-0.055zM0.247 0.487h0.149v0.015h-0.149zM0.473 0.487h0.042v0.015h-0.042zM0.300 0.500h0.069v0.015h-0.069zM0.487 0.500h0.029v0.015h-0.029zM0.500 0.513h0.029v0.015h-0.029zM0.513 0.527h0.015v0.015h-0.015zM0.847 0.527h0.015v0.015h-0.015zM0.247 0.553h0.015v0.015h-0.015zM0.233 0.567h0.015v0.015h-0.015zM0.620 0.567h0.015v0.015h-0.015zM0.180 0.580h0.042v0.015h-0.042zM0.647 0.580h0.015v0.015h-0.015zM0.140 0.593h0.042v0.015h-0.042zM0.380 0.593h0.015v0.015h-0.015zM0.660 0.593h0.029v0.015h-0.029zM0.380 0.607h0.015v0.015h-0.015zM0.687 0.607h0.042v0.015h-0.042zM0.380 0.620h0.015v0.015h-0.015zM0.740 0.620h0.029v0.015h-0.029zM0.380 0.633h0.015v0.015h-0.015zM0.513 0.633h0.015v0.015h-0.015zM0.780 0.633h0.029v0.015h-0.029zM0.300 0.647h0.029v0.015h-0.029zM0.380 0.647h0.015v0.015h-0.015zM0.807 0.647h0.029v0.015h-0.029zM0.273 0.660h0.015v0.015h-0.015zM0.367 0.660h0.015v0.015h-0.015zM0.527 0.660h0.015v0.015h-0.015zM0.247 0.673h0.029v0.015h-0.029zM0.367 0.673h0.015v0.015h-0.015zM0.527 0.673h0.015v0.015h-0.015zM0.233 0.687h0.015v0.015h-0.015zM0.367 0.687h0.015v0.015h-0.015zM0.527 0.687h0.015v0.015h-0.015zM0.207 0.700h0.029v0.015h-0.029zM0.527 0.700h0.015v0.015h-0.015zM0.700 0.700h0.015v0.015h-0.015zM0.353 0.713h0.015v0.015h-0.015zM0.527 0.713h0.015v0.015h-0.015zM0.713 0.713h0.015v0.015h-0.015zM0.340 0.727h0.015v0.015h-0.015zM0.527 0.727h0.015v0.015h-0.015zM0.727 0.727h0.015v0.015h-0.015zM0.340 0.740h0.015v0.015h-0.015zM0.527 0.740h0.015v0.015h-0.015zM0.740 0.740h0.015v0.015h-0.015zM0.327 0.753h0.015v0.015h-0.015zM0.527 0.753h0.015v0.015h-0.015zM0.607 0.753h0.015v0.015h-0.015zM0.753 0.753h0.015v0.015h-0.015zM0.313 0.767h0.015v0.015h-0.015zM0.527 0.767h0.015v0.015h-0.015zM0.620 0.767h0.015v0.015h-0.015zM0.313 0.780h0.015v0.015h-0.015zM0.527 0.780h0.015v0.015h-0.015zM0.300 0.793h0.015v0.015h-0.015zM0.420 0.793h0.015v0.015h-0.015zM0.527 0.793h0.015v0.015h-0.015zM0.633 0.793h0.015v0.015h-0.015zM0.420 0.807h0.015v0.015h-0.015zM0.527 0.807h0.015v0.015h-0.015zM0.527 0.820h0.015v0.015h-0.015zM0.647 0.820h0.015v0.015h-0.015zM0.407 0.833h0.015v0.015h-0.015zM0.527 0.833h0.015v0.015h-0.015zM0.407 0.847h0.015v0.015h-0.015zM0.527 0.847h0.015v0.015h-0.015z"/>
<path fill="rgb(172,172,172)" d="M0.473 0.140h0.015v0.015h-0.015zM0.593 0.140h0.015v0.015h-0.015zM0.473 0.153h0.015v0.015h-0.015zM0.593 0.153h0.015v0.015h-0.015zM0.353 0.167h0.015v0.015h-0.015zM0.473 0.167h0.015v0.015h-0.015zM0.353 0.180h0.015v0.015h-0.015zM0.473 0.180h0.015v0.015h-0.015zM0.580 0.180h0.015v0.015h-0.015zM0.473 0.193h0.015v0.015h-0.015zM0.580 0.193h0.015v0.015h-0.015zM0.367 0.207h0.015v0.015h-0.015zM0.713 0.207h0.015v0.015h-0.015zM0.367 0.220h0.015v0.015h-0.015zM0.567 0.220h0.015v0.015h-0.015zM0.700 0.220h0.015v0.015h-0.015zM0.247 0.233h0.015v0.015h-0.015zM0.367 0.233h0.015v0.015h-0.015zM0.567 0.233h0.015v0.015h-0.015zM0.687 0.233h0.015v0.015h-0.015zM0.260 0.247h0.015v0.015h-0.015zM0.567 0.247h0.015v0.015h-0.015zM0.687 0.247h0.015v0.015h-0.015zM0.287 0.260h0.015v0.015h-0.015zM0.380 0.260h0.015v0.015h-0.015zM0.673 0.260h0.015v0.015h-0.015zM0.300 0.273h0.042v0.015h-0.042zM0.380 0.273h0.015v0.015h-0.015zM0.553 0.273h0.015v0.015h-0.015zM0.660 0.273h0.015v0.015h-0.015zM0.380 0.287h0.015v0.015h-0.015zM0.553 0.287h0.015v0.015h-0.015zM0.647 0.287h0.015v0.015h-0.015zM0.380 0.300h0.015v0.015h-0.015zM0.553 0.300h0.015v0.015h-0.015zM0.620 0.300h0.029v0.015h-0.029zM0.793 0.300h0.015v0.015h-0.015zM0.380 0.313h0.029v0.015h-0.029zM0.553 0.313h0.015v0.015h-0.015zM0.780 0.313h0.015v0.015h-0.015zM0.167 0.327h0.015v0.015h-0.015zM0.393 0.327h0.015v0.015h-0.015zM0.553 0.327h0.015v0.015h-0.015zM0.767 0.327h0.015v0.015h-0.015zM0.180 0.340h0.029v0.015h-0.029zM0.407 0.340h0.015v0.015h-0.015zM0.553 0.340h0.015v0.015h-0.015zM0.753 0.340h0.015v0.015h-0.015zM0.207 0.353h0.029v0.015h-0.029zM0.407 0.353h0.029v0.015h-0.029zM0.540 0.353h0.029v0.015h-0.029zM0.233 0.367h0.015v0.015h-0.015zM0.420 0.367h0.029v0.015h-0.029zM0.540 0.367h0.015v0.015h-0.015zM0.260 0.380h0.015v0.015h-0.015zM0.433 0.380h0.055v0.015h-0.055zM0.527 0.380h0.029v0.015h-0.029zM0.273 0.393h0.015v0.015h-0.015zM0.447 0.393h0.042v0.015h-0.042zM0.527 0.393h0.029v0.015h-0.029zM0.513 0.407h0.042v0.015h-0.042zM0.820 0.407h0.042v0.015h-0.042zM0.500 0.420h0.055v0.015h-0.055zM0.700 0.420h0.082v0.015h-0.082zM0.500 0.433h0.055v0.015h-0.055zM0.593 0.433h0.029v0.015h-0.029zM0.660 0.433h0.042v0.015h-0.042zM0.500 0.447h0.055v0.015h-0.055zM0.607 0.447h0.055v0.015h-0.055zM0.140 0.460h0.069v0.015h-0.069zM0.513 0.460h0.042v0.015h-0.042zM0.233 0.473h0.149v0.015h-0.149zM0.513 0.473h0.042v0.015h-0.042zM0.513 0.487h0.029v0.015h-0.029zM0.513 0.500h0.029v0.015h-0.029zM0.527 0.513h0.015v0.015h-0.015zM0.527 0.527h0.015v0.015h-0.015zM0.767 0.527h0.082v0.015h-0.082zM0.607 0.553h0.015v0.015h-0.015zM0.193 0.567h0.042v0.015h-0.042zM0.140 0.580h0.042v0.015h-0.042zM0.620 0.580h0.029v0.015h-0.029zM0.633 0.593h0.029v0.015h-0.029zM0.660 0.607h0.029v0.015h-0.029zM0.367 0.620h0.015v0.015h-0.015zM0.673 0.620h0.069v0.015h-0.069zM0.367 0.633h0.015v0.015h-0.015zM0.753 0.633h0.029v0.015h-0.029zM0.287 0.647h0.015v0.015h-0.015zM0.353 0.647h0.029v0.015h-0.029zM0.513 0.647h0.015v0.015h-0.015zM0.793 0.647h0.015v0.015h-0.015zM0.260 0.660h0.015v0.015h-0.015zM0.353 0.660h0.015v0.015h-0.015zM0.513 0.660h0.015v0.015h-0.015zM0.687 0.660h0.015v0.015h-0.015zM0.820 0.660h0.015v0.015h-0.015zM0.233 0.673h0.015v0.015h-0.015zM0.353 0.673h0.015v0.015h-0.015zM0.513 0.673h0.015v0.015h-0.015zM0.687 0.673h0.015v0.015h-0.015zM0.220 0.687h0.015v0.015h-0.015zM0.353 0.687h0.015v0.015h-0.015zM0.513 0.687h0.015v0.015h-0.015zM0.687 0.687h0.015v0.015h-0.015zM0.193 0.700h0.015v0.015h-0.015zM0.353 0.700h0.015v0.015h-0.015zM0.513 0.700h0.015v0.015h-0.015zM0.340 0.713h0.015v0.015h-0.015zM0.513 0.713h0.015v0.015h-0.015zM0.700 0.713h0.015v0.015h-0.015zM0.513 0.727h0.015v0.015h-0.015zM0.713 0.727h0.015v0.015h-0.015zM0.327 0.740h0.015v0.015h-0.015zM0.513 0.740h0.015v0.015h-0.015zM0.727 0.740h0.015v0.015h-0.015zM0.313 0.753h0.015v0.015h-0.015zM0.513 0.753h0.015v0.015h-0.015zM0.593 0.753h0.015v0.015h-0.015zM0.740 0.753h0.015v0.015h-0.015zM0.300 0.767h0.015v0.015h-0.015zM0.513 0.767h0.015v0.015h-0.015zM0.607 0.767h0.015v0.015h-0.015zM0.300 0.780h0.015v0.015h-0.015zM0.420 0.780h0.015v0.015h-0.015zM0.513 0.780h0.015v0.015h-0.015zM0.620 0.780h0.015v0.015h-0.015zM0.287 0.793h0.015v0.015h-0.015zM0.513 0.793h0.015v0.015h-0.015zM0.620 0.793h0.015v0.015h-0.015zM0.407 0.807h0.015v0.015h-0.015zM0.513 0.807h0.015v0.015h-0.015zM0.633 0.807h0.015v0.015h-0.015zM0.407 0.820h0.015v0.015h-0.015zM0.513 0.820h0.015v0.015h-0.015zM0.633 0.820h0.015v0.015h-0.015zM0.513 0.833h0.015v0.015h-0.015zM0.393 0.847h0.015v0.015h-0.015z"/>
<path fill="rgb(190,190,190)" d="M0.353 0.153h0.015v0.015h-0.015zM0.607 0.153h0.015v0.015h-0.015zM0.593 0.167h0.015v0.015h-0.015zM0.367 0.180h0.015v0.015h-0.015zM0.593 0.180h0.015v0.015h-0.015zM0.367 0.193h0.015v0.015h-0.015zM0.593 0.193h0.015v0.015h-0.015zM0.580 0.207h0.015v0.015h-0.015zM0.247 0.220h0.015v0.015h-0.015zM0.380 0.220h0.015v0.015h-0.015zM0.580 0.220h0.015v0.015h-0.015zM0.713 0.220h0.015v0.015h-0.015zM0.260 0.233h0.015v0.015h-0.015zM0.380 0.233h0.015v0.015h-0.015zM0.580 0.233h0.015v0.015h-0.015zM0.700 0.233h0.015v0.015h-0.015zM0.273 0.247h0.015v0.015h-0.015zM0.380 0.247h0.015v0.015h-0.015zM0.300 0.260h0.015v0.015h-0.015zM0.393 0.260h0.015v0.015h-0.015zM0.567 0.260h0.015v0.015h-0.015zM0.687 0.260h0.015v0.015h-0.015zM0.393 0.273h0.015v0.015h-0.015zM0.567 0.273h0.015v0.015h-0.015zM0.673 0.273h0.015v0.015h-0.015zM0.393 0.287h0.015v0.015h-0.015zM0.567 0.287h0.015v0.015h-0.015zM0.660 0.287h0.015v0.015h-0.015zM0.393 0.300h0.029v0.015h-0.029zM0.567 0.300h0.015v0.015h-0.015zM0.647 0.300h0.015v0.015h-0.015zM0.807 0.300h0.015v0.015h-0.015zM0.407 0.313h0.015v0.015h-0.015zM0.567 0.313h0.029v0.015h-0.029zM0.793 0.313h0.015v0.015h-0.015zM0.180 0.327h0.015v0.015h-0.015zM0.407 0.327h0.029v0.015h-0.029zM0.567 0.327h0.029v0.015h-0.029zM0.780 0.327h0.015v0.015h-0.015zM0.207 0.340h0.015v0.015h-0.015zM0.420 0.340h0.015v0.015h-0.015zM0.567 0.340h0.015v0.015h-0.015zM0.233 0.353h0.015v0.015h-0.015zM0.433 0.353h0.015v0.015h-0.015zM0.567 0.353h0.015v0.015h-0.015zM0.753 0.353h0.015v0.015h-0.015zM0.247 0.367h0.015v0.015h-0.015zM0.447 0.367h0.015v0.015h-0.015zM0.473 0.367h0.015v0.015h-0.015zM0.553 0.367h0.029v0.015h-0.029zM0.553 0.380h0.029v0.015h-0.029zM0.553 0.393h0.029v0.015h-0.029zM0.553 0.407h0.029v0.015h-0.029zM0.553 0.420h0.055v0.015h-0.055zM0.780 0.420h0.082v0.015h-0.082zM0.553 0.433h0.042v0.015h-0.042zM0.700 0.433h0.055v0.015h-0.055zM0.140 0.447h0.042v0.015h-0.042zM0.553 0.447h0.055v0.015h-0.055zM0.660 0.447h0.055v0.015h-0.055zM0.207 0.460h0.175v0.015h-0.175zM0.553 0.460h0.109v0.015h-0.109zM0.553 0.473h0.055v0.015h-0.055zM0.540 0.487h0.042v0.015h-0.042zM0.540 0.500h0.029v0.015h-0.029zM0.540 0.513h0.029v0.015h-0.029zM0.540 0.527h0.015v0.015h-0.015zM0.753 0.527h0.015v0.015h-0.015zM0.527 0.540h0.015v0.015h-0.015zM0.793 0.540h0.069v0.015h-0.069zM0.220 0.553h0.029v0.015h-0.029zM0.153 0.567h0.042v0.015h-0.042zM0.607 0.567h0.015v0.015h-0.015zM0.607 0.580h0.015v0.015h-0.015zM0.620 0.593h0.015v0.015h-0.015zM0.367 0.607h0.015v0.015h-0.015zM0.633 0.607h0.029v0.015h-0.029zM0.353 0.620h0.015v0.015h-0.015zM0.647 0.620h0.029v0.015h-0.029zM0.287 0.633h0.082v0.015h-0.082zM0.660 0.633h0.095v0.015h-0.095zM0.260 0.647h0.029v0.015h-0.029zM0.327 0.647h0.029v0.015h-0.029zM0.673 0.647h0.029v0.015h-0.029zM0.767 0.647h0.029v0.015h-0.029zM0.233 0.660h0.029v0.015h-0.029zM0.673 0.660h0.015v0.015h-0.015zM0.793 0.660h0.029v0.015h-0.029zM0.220 0.673h0.015v0.015h-0.015zM0.500 0.673h0.015v0.015h-0.015zM0.673 0.673h0.015v0.015h-0.015zM0.193 0.687h0.029v0.015h-0.029zM0.340 0.687h0.015v0.015h-0.015zM0.500 0.687h0.015v0.015h-0.015zM0.673 0.687h0.015v0.015h-0.015zM0.340 0.700h0.015v0.015h-0.015zM0.500 0.700h0.015v0.015h-0.015zM0.687 0.700h0.015v0.015h-0.015zM0.327 0.713h0.015v0.015h-0.015zM0.500 0.713h0.015v0.015h-0.015zM0.327 0.727h0.015v0.015h-0.015zM0.500 0.727h0.015v0.015h-0.015zM0.700 0.727h0.015v0.015h-0.015zM0.313 0.740h0.015v0.015h-0.015zM0.500 0.740h0.015v0.015h-0.015zM0.713 0.740h0.015v0.015h-0.015zM0.300 0.753h0.015v0.015h-0.015zM0.500 0.753h0.015v0.015h-0.015zM0.727 0.753h0.015v0.015h-0.015zM0.287 0.767h0.015v0.015h-0.015zM0.420 0.767h0.015v0.015h-0.015zM0.500 0.767h0.015v0.015h-0.015zM0.740 0.767h0.015v0.015h-0.015zM0.287 0.780h0.015v0.015h-0.015zM0.500 0.780h0.015v0.015h-0.015zM0.607 0.780h0.015v0.015h-0.015zM0.407 0.793h0.015v0.015h-0.015zM0.620 0.807h0.015v0.015h-0.015zM0.393 0.820h0.015v0.015h-0.015zM0.620 0.820h0.015v0.015h-0.015zM0.393 0.833h0.015v0.015h-0.015zM0.633 0.833h0.015v0.015h-0.015zM0.513 0.847h0.015v0.015h-0.015z"/>
<path fill="rgb(208,208,208)" d="M0.487 0.140h0.015v0.015h-0.015zM0.367 0.153h0.015v0.015h-0.015zM0.487 0.153h0.015v0.015h-0.015zM0.620 0.153h0.015v0.015h-0.015zM0.367 0.167h0.015v0.015h-0.015zM0.487 0.167h0.015v0.015h-0.015zM0.607 0.167h0.015v0.015h-0.015zM0.380 0.180h0.015v0.015h-0.015zM0.487 0.180h0.015v0.015h-0.015zM0.607 0.180h0.015v0.015h-0.015zM0.380 0.193h0.015v0.015h-0.015zM0.487 0.193h0.015v0.015h-0.015zM0.380 0.207h0.015v0.015h-0.015zM0.487 0.207h0.015v0.015h-0.015zM0.593 0.207h0.015v0.015h-0.015zM0.260 0.220h0.015v0.015h-0.015zM0.393 0.220h0.015v0.015h-0.015zM0.593 0.220h0.015v0.015h-0.015zM0.727 0.220h0.015v0.015h-0.015zM0.273 0.233h0.015v0.015h-0.015zM0.393 0.233h0.015v0.015h-0.015zM0.713 0.233h0.015v0.015h-0.015zM0.287 0.247h0.015v0.015h-0.015zM0.393 0.247h0.015v0.015h-0.015zM0.580 0.247h0.015v0.015h-0.015zM0.700 0.247h0.015v0.015h-0.015zM0.313 0.260h0.015v0.015h-0.015zM0.407 0.260h0.015v0.015h-0.015zM0.580 0.260h0.015v0.015h-0.015zM0.700 0.260h0.015v0.015h-0.015zM0.407 0.273h0.015v0.015h-0.015zM0.580 0.273h0.015v0.015h-0.015zM0.687 0.273h0.015v0.015h-0.015zM0.407 0.287h0.015v0.015h-0.015zM0.580 0.287h0.015v0.015h-0.015zM0.673 0.287h0.015v0.015h-0.015zM0.420 0.300h0.015v0.015h-0.015zM0.580 0.300h0.042v0.015h-0.042zM0.660 0.300h0.015v0.015h-0.015zM0.180 0.313h0.015v0.015h-0.015zM0.420 0.313h0.015v0.015h-0.015zM0.593 0.313h0.069v0.015h-0.069zM0.807 0.313h0.015v0.015h-0.015zM0.193 0.327h0.029v0.015h-0.029zM0.433 0.327h0.015v0.015h-0.015zM0.593 0.327h0.029v0.015h-0.029zM0.793 0.327h0.015v0.015h-0.015zM0.220 0.340h0.029v0.015h-0.029zM0.433 0.340h0.015v0.015h-0.015zM0.580 0.340h0.029v0.015h-0.029zM0.767 0.340h0.015v0.015h-0.015zM0.247 0.353h0.015v0.015h-0.015zM0.447 0.353h0.015v0.015h-0.015zM0.580 0.353h0.015v0.015h-0.015zM0.260 0.367h0.015v0.015h-0.015zM0.460 0.367h0.015v0.015h-0.015zM0.580 0.367h0.015v0.015h-0.015zM0.273 0.380h0.015v0.015h-0.015zM0.580 0.380h0.015v0.015h-0.015zM0.580 0.393h0.015v0.015h-0.015zM0.580 0.407h0.015v0.015h-0.015zM0.140 0.433h0.015v0.015h-0.015zM0.753 0.433h0.095v0.015h-0.095zM0.180 0.447h0.069v0.015h-0.069zM0.273 0.447h0.082v0.015h-0.082zM0.367 0.447h0.015v0.015h-0.015zM0.713 0.447h0.042v0.015h-0.042zM0.660 0.460h0.055v0.015h-0.055zM0.607 0.473h0.069v0.015h-0.069zM0.580 0.487h0.042v0.015h-0.042zM0.567 0.500h0.042v0.015h-0.042zM0.567 0.513h0.029v0.015h-0.029zM0.553 0.527h0.042v0.015h-0.042zM0.740 0.527h0.015v0.015h-0.015zM0.247 0.540h0.015v0.015h-0.015zM0.540 0.540h0.015v0.015h-0.015zM0.767 0.540h0.029v0.015h-0.029zM0.180 0.553h0.042v0.015h-0.042zM0.593 0.553h0.015v0.015h-0.015zM0.820 0.553h0.042v0.015h-0.042zM0.140 0.567h0.015v0.015h-0.015zM0.593 0.567h0.015v0.015h-0.015zM0.593 0.580h0.015v0.015h-0.015zM0.367 0.593h0.015v0.015h-0.015zM0.607 0.593h0.015v0.015h-0.015zM0.353 0.607h0.015v0.015h-0.015zM0.620 0.607h0.015v0.015h-0.015zM0.300 0.620h0.055v0.015h-0.055zM0.633 0.620h0.015v0.015h-0.015zM0.273 0.633h0.015v0.015h-0.015zM0.633 0.633h0.029v0.015h-0.029zM0.247 0.647h0.015v0.015h-0.015zM0.500 0.647h0.015v0.015h-0.015zM0.647 0.647h0.029v0.015h-0.029zM0.700 0.647h0.015v0.015h-0.015zM0.740 0.647h0.029v0.015h-0.029zM0.220 0.660h0.015v0.015h-0.015zM0.340 0.660h0.015v0.015h-0.015zM0.500 0.660h0.015v0.015h-0.015zM0.660 0.660h0.015v0.015h-0.015zM0.767 0.660h0.029v0.015h-0.029zM0.193 0.673h0.029v0.015h-0.029zM0.340 0.673h0.015v0.015h-0.015zM0.660 0.673h0.015v0.015h-0.015zM0.793 0.673h0.029v0.015h-0.029zM0.180 0.687h0.015v0.015h-0.015zM0.487 0.687h0.015v0.015h-0.015zM0.327 0.700h0.015v0.015h-0.015zM0.487 0.700h0.015v0.015h-0.015zM0.673 0.700h0.015v0.015h-0.015zM0.487 0.713h0.015v0.015h-0.015zM0.687 0.713h0.015v0.015h-0.015zM0.313 0.727h0.015v0.015h-0.015zM0.487 0.727h0.015v0.015h-0.015zM0.687 0.727h0.015v0.015h-0.015zM0.300 0.740h0.015v0.015h-0.015zM0.487 0.740h0.015v0.015h-0.015zM0.700 0.740h0.015v0.015h-0.015zM0.287 0.753h0.015v0.015h-0.015zM0.487 0.753h0.015v0.015h-0.015zM0.713 0.753h0.015v0.015h-0.015zM0.273 0.767h0.015v0.015h-0.015zM0.593 0.767h0.015v0.015h-0.015zM0.727 0.767h0.015v0.015h-0.015zM0.273 0.780h0.015v0.015h-0.015zM0.407 0.780h0.015v0.015h-0.015zM0.500 0.793h0.015v0.015h-0.015zM0.607 0.793h0.015v0.015h-0.015zM0.393 0.807h0.015v0.015h-0.015zM0.500 0.807h0.015v0.015h-0.015zM0.607 0.807h0.015v0.015h-0.015zM0.500 0.820h0.015v0.015h-0.015zM0.380 0.833h0.015v0.015h-0.015zM0.500 0.833h0.015v0.015h-0.015zM0.620 0.833h0.015v0.015h-0.015zM0.500 0.847h0.015v0.015h-0.015z"/>
<path fill="rgb(226,226,226)" d="M0.500 0.140h0.015v0.015h-0.015zM0.380 0.153h0.015v0.015h-0.015zM0.500 0.153h0.015v0.015h-0.015zM0.380 0.167h0.015v0.015h-0.015zM0.500 0.167h0.015v0.015h-0.015zM0.620 0.167h0.015v0.015h-0.015zM0.620 0.180h0.015v0.015h-0.015zM0.393 0.193h0.015v0.015h-0.015zM0.607 0.193h0.015v0.015h-0.015zM0.273 0.207h0.015v0.015h-0.015zM0.393 0.207h0.015v0.015h-0.015zM0.607 0.207h0.015v0.015h-0.015zM0.273 0.220h0.015v0.015h-0.015zM0.740 0.220h0.015v0.015h-0.015zM0.287 0.233h0.015v0.015h-0.015zM0.407 0.233h0.015v0.015h-0.015zM0.593 0.233h0.015v0.015h-0.015zM0.727 0.233h0.015v0.015h-0.015zM0.300 0.247h0.015v0.015h-0.015zM0.407 0.247h0.015v0.015h-0.015zM0.593 0.247h0.015v0.015h-0.015zM0.713 0.247h0.015v0.015h-0.015zM0.420 0.260h0.015v0.015h-0.015zM0.593 0.260h0.015v0.015h-0.015zM0.713 0.260h0.015v0.015h-0.015zM0.420 0.273h0.015v0.015h-0.015zM0.700 0.273h0.015v0.015h-0.015zM0.420 0.287h0.015v0.015h-0.015zM0.593 0.287h0.015v0.015h-0.015zM0.687 0.287h0.015v0.015h-0.015zM0.180 0.300h0.015v0.015h-0.015zM0.433 0.300h0.015v0.015h-0.015zM0.673 0.300h0.015v0.015h-0.015zM0.193 0.313h0.029v0.015h-0.029zM0.433 0.313h0.015v0.015h-0.015zM0.660 0.313h0.015v0.015h-0.015zM0.220 0.327h0.029v0.015h-0.029zM0.447 0.327h0.015v0.015h-0.015zM0.620 0.327h0.042v0.015h-0.042zM0.807 0.327h0.015v0.015h-0.015zM0.247 0.340h0.015v0.015h-0.015zM0.447 0.340h0.015v0.015h-0.015zM0.607 0.340h0.029v0.015h-0.029zM0.780 0.340h0.015v0.015h-0.015zM0.260 0.353h0.015v0.015h-0.015zM0.460 0.353h0.015v0.015h-0.015zM0.593 0.353h0.029v0.015h-0.029zM0.273 0.367h0.015v0.015h-0.015zM0.593 0.367h0.015v0.015h-0.015zM0.287 0.380h0.015v0.015h-0.015zM0.593 0.380h0.015v0.015h-0.015zM0.287 0.393h0.015v0.015h-0.015zM0.287 0.407h0.015v0.015h-0.015zM0.593 0.407h0.015v0.015h-0.015zM0.140 0.420h0.015v0.015h-0.015zM0.153 0.433h0.055v0.015h-0.055zM0.287 0.433h0.055v0.015h-0.055zM0.847 0.433h0.015v0.015h-0.015zM0.247 0.447h0.029v0.015h-0.029zM0.353 0.447h0.015v0.015h-0.015zM0.753 0.447h0.069v0.015h-0.069zM0.713 0.460h0.029v0.015h-0.029zM0.673 0.473h0.042v0.015h-0.042zM0.620 0.487h0.055v0.015h-0.055zM0.607 0.500h0.029v0.015h-0.029zM0.593 0.513h0.029v0.015h-0.029zM0.593 0.527h0.015v0.015h-0.015zM0.207 0.540h0.042v0.015h-0.042zM0.553 0.540h0.069v0.015h-0.069zM0.753 0.540h0.015v0.015h-0.015zM0.140 0.553h0.042v0.015h-0.042zM0.553 0.553h0.042v0.015h-0.042zM0.780 0.553h0.042v0.015h-0.042zM0.567 0.567h0.029v0.015h-0.029zM0.833 0.567h0.029v0.015h-0.029zM0.580 0.580h0.015v0.015h-0.015zM0.353 0.593h0.015v0.015h-0.015zM0.593 0.593h0.015v0.015h-0.015zM0.313 0.607h0.042v0.015h-0.042zM0.593 0.607h0.029v0.015h-0.029zM0.273 0.620h0.029v0.015h-0.029zM0.607 0.620h0.029v0.015h-0.029zM0.247 0.633h0.029v0.015h-0.029zM0.500 0.633h0.015v0.015h-0.015zM0.620 0.633h0.015v0.015h-0.015zM0.220 0.647h0.029v0.015h-0.029zM0.487 0.647h0.015v0.015h-0.015zM0.633 0.647h0.015v0.015h-0.015zM0.713 0.647h0.029v0.015h-0.029zM0.193 0.660h0.029v0.015h-0.029zM0.487 0.660h0.015v0.015h-0.015zM0.633 0.660h0.029v0.015h-0.029zM0.753 0.660h0.015v0.015h-0.015zM0.180 0.673h0.015v0.015h-0.015zM0.487 0.673h0.015v0.015h-0.015zM0.647 0.673h0.015v0.015h-0.015zM0.780 0.673h0.015v0.015h-0.015zM0.327 0.687h0.015v0.015h-0.015zM0.473 0.687h0.015v0.015h-0.015zM0.660 0.687h0.015v0.015h-0.015zM0.807 0.687h0.015v0.015h-0.015zM0.473 0.700h0.015v0.015h-0.015zM0.660 0.700h0.015v0.015h-0.015zM0.313 0.713h0.015v0.015h-0.015zM0.473 0.713h0.015v0.015h-0.015zM0.673 0.713h0.015v0.015h-0.015zM0.300 0.727h0.015v0.015h-0.015zM0.473 0.727h0.015v0.015h-0.015zM0.287 0.740h0.015v0.015h-0.015zM0.473 0.740h0.015v0.015h-0.015zM0.687 0.740h0.015v0.015h-0.015zM0.273 0.753h0.015v0.015h-0.015zM0.700 0.753h0.015v0.015h-0.015zM0.260 0.767h0.015v0.015h-0.015zM0.407 0.767h0.015v0.015h-0.015zM0.487 0.767h0.015v0.015h-0.015zM0.713 0.767h0.015v0.015h-0.015zM0.393 0.780h0.015v0.015h-0.015zM0.487 0.780h0.015v0.015h-0.015zM0.593 0.780h0.015v0.015h-0.015zM0.393 0.793h0.015v0.015h-0.015zM0.487 0.793h0.015v0.015h-0.015zM0.593 0.793h0.015v0.015h-0.015zM0.380 0.807h0.015v0.015h-0.015zM0.487 0.807h0.015v0.015h-0.015zM0.380 0.820h0.015v0.015h-0.015zM0.487 0.820h0.015v0.015h-0.015zM0.607 0.820h0.015v0.015h-0.015zM0.367 0.833h0.015v0.015h-0.015zM0.487 0.833h0.015v0.015h-0.015zM0.607 0.833h0.015v0.015h-0.015zM0.487 0.847h0.015v0.015h-0.015z"/>
<path fill="rgb(244,244,244)" d="M0.513 0.140h0.015v0.015h-0.015zM0.393 0.153h0.015v0.015h-0.015zM0.633 0.153h0.015v0.015h-0.015zM0.393 0.167h0.015v0.015h-0.015zM0.633 0.167h0.015v0.015h-0.015zM0.393 0.180h0.015v0.015h-0.015zM0.500 0.180h0.015v0.015h-0.015zM0.407 0.193h0.015v0.015h-0.015zM0.500 0.193h0.015v0.015h-0.015zM0.620 0.193h0.015v0.015h-0.015zM0.407 0.207h0.015v0.015h-0.015zM0.500 0.207h0.015v0.015h-0.015zM0.620 0.207h0.015v0.015h-0.015zM0.287 0.220h0.015v0.015h-0.015zM0.407 0.220h0.015v0.015h-0.015zM0.487 0.220h0.015v0.015h-0.015zM0.607 0.220h0.015v0.015h-0.015zM0.300 0.233h0.015v0.015h-0.015zM0.420 0.233h0.015v0.015h-0.015zM0.607 0.233h0.015v0.015h-0.015zM0.740 0.233h0.015v0.015h-0.015zM0.313 0.247h0.015v0.015h-0.015zM0.420 0.247h0.015v0.015h-0.015zM0.727 0.247h0.015v0.015h-0.015zM0.327 0.260h0.015v0.015h-0.015zM0.433 0.260h0.015v0.015h-0.015zM0.727 0.260h0.015v0.015h-0.015zM0.433 0.273h0.015v0.015h-0.015zM0.593 0.273h0.015v0.015h-0.015zM0.713 0.273h0.015v0.015h-0.015zM0.433 0.287h0.029v0.015h-0.029zM0.700 0.287h0.015v0.015h-0.015zM0.193 0.300h0.029v0.015h-0.029zM0.447 0.300h0.015v0.015h-0.015zM0.687 0.300h0.015v0.015h-0.015zM0.220 0.313h0.015v0.015h-0.015zM0.447 0.313h0.015v0.015h-0.015zM0.673 0.313h0.015v0.015h-0.015zM0.247 0.327h0.015v0.015h-0.015zM0.460 0.327h0.015v0.015h-0.015zM0.660 0.327h0.015v0.015h-0.015zM0.820 0.327h0.015v0.015h-0.015zM0.260 0.340h0.015v0.015h-0.015zM0.460 0.340h0.015v0.015h-0.015zM0.633 0.340h0.029v0.015h-0.029zM0.793 0.340h0.029v0.015h-0.029zM0.273 0.353h0.015v0.015h-0.015zM0.620 0.353h0.015v0.015h-0.015zM0.767 0.353h0.015v0.015h-0.015zM0.287 0.367h0.015v0.015h-0.015zM0.607 0.367h0.015v0.015h-0.015zM0.300 0.380h0.015v0.015h-0.015zM0.607 0.380h0.015v0.015h-0.015zM0.300 0.393h0.015v0.015h-0.015zM0.593 0.393h0.015v0.015h-0.015zM0.300 0.407h0.029v0.015h-0.029zM0.153 0.420h0.042v0.015h-0.042zM0.287 0.420h0.055v0.015h-0.055zM0.207 0.433h0.082v0.015h-0.082zM0.340 0.433h0.029v0.015h-0.029zM0.820 0.447h0.042v0.015h-0.042zM0.740 0.460h0.055v0.015h-0.055zM0.713 0.473h0.029v0.015h-0.029zM0.673 0.487h0.042v0.015h-0.042zM0.633 0.500h0.055v0.015h-0.055zM0.620 0.513h0.015v0.015h-0.015zM0.607 0.527h0.015v0.015h-0.015zM0.727 0.527h0.015v0.015h-0.015zM0.140 0.540h0.069v0.015h-0.069zM0.740 0.540h0.015v0.015h-0.015zM0.540 0.553h0.015v0.015h-0.015zM0.753 0.553h0.029v0.015h-0.029zM0.553 0.567h0.015v0.015h-0.015zM0.793 0.567h0.042v0.015h-0.042zM0.567 0.580h0.015v0.015h-0.015zM0.847 0.580h0.015v0.015h-0.015zM0.313 0.593h0.042v0.015h-0.042zM0.567 0.593h0.029v0.015h-0.029zM0.287 0.607h0.029v0.015h-0.029zM0.580 0.607h0.015v0.015h-0.015zM0.260 0.620h0.015v0.015h-0.015zM0.593 0.620h0.015v0.015h-0.015zM0.233 0.633h0.015v0.015h-0.015zM0.487 0.633h0.015v0.015h-0.015zM0.607 0.633h0.015v0.015h-0.015zM0.207 0.647h0.015v0.015h-0.015zM0.473 0.647h0.015v0.015h-0.015zM0.607 0.647h0.029v0.015h-0.029zM0.180 0.660h0.015v0.015h-0.015zM0.327 0.660h0.015v0.015h-0.015zM0.473 0.660h0.015v0.015h-0.015zM0.620 0.660h0.015v0.015h-0.015zM0.740 0.660h0.015v0.015h-0.015zM0.327 0.673h0.015v0.015h-0.015zM0.473 0.673h0.015v0.015h-0.015zM0.633 0.673h0.015v0.015h-0.015zM0.767 0.673h0.015v0.015h-0.015zM0.460 0.687h0.015v0.015h-0.015zM0.647 0.687h0.015v0.015h-0.015zM0.780 0.687h0.029v0.015h-0.029zM0.313 0.700h0.015v0.015h-0.015zM0.460 0.700h0.015v0.015h-0.015zM0.647 0.700h0.015v0.015h-0.015zM0.300 0.713h0.015v0.015h-0.015zM0.460 0.713h0.015v0.015h-0.015zM0.660 0.713h0.015v0.015h-0.015zM0.287 0.727h0.015v0.015h-0.015zM0.460 0.727h0.015v0.015h-0.015zM0.673 0.727h0.015v0.015h-0.015zM0.273 0.740h0.015v0.015h-0.015zM0.460 0.740h0.015v0.015h-0.015zM0.673 0.740h0.015v0.015h-0.015zM0.260 0.753h0.015v0.015h-0.015zM0.473 0.753h0.015v0.015h-0.015zM0.580 0.753h0.015v0.015h-0.015zM0.687 0.753h0.015v0.015h-0.015zM0.247 0.767h0.015v0.015h-0.015zM0.393 0.767h0.015v0.015h-0.015zM0.473 0.767h0.015v0.015h-0.015zM0.580 0.767h0.015v0.015h-0.015zM0.700 0.767h0.015v0.015h-0.015zM0.473 0.780h0.015v0.015h-0.015zM0.580 0.780h0.015v0.015h-0.015zM0.713 0.780h0.015v0.015h-0.015zM0.380 0.793h0.015v0.015h-0.015zM0.473 0.793h0.015v0.015h-0.015zM0.473 0.807h0.015v0.015h-0.015zM0.593 0.807h0.015v0.015h-0.015zM0.367 0.820h0.015v0.015h-0.015zM0.473 0.820h0.015v0.015h-0.015zM0.593 0.820h0.015v0.015h-0.015zM0.473 0.833h0.015v0.015h-0.015zM0.593 0.833h0.015v0.015h-0.015zM0.473 0.847h0.015v0.015h-0.015z"/>
</g>
</g></g>
<g transform="matrix(135.2 9.8 -24.0 56.2 213.5 383.9)"><rect x="0" y="0" width="1" height="1" fill="#7f7f7f"/><g clip-path="url(#unit)">
<g clip-path="url(#disc)">
<circle cx="0.5" cy="0.5" r="0.36" fill="#888"/>
<path fill="rgb(24,24,24)" d="M0.420 0.140h0.029v0.015h-0.029zM0.420 0.153h0.029v0.015h-0.029zM0.420 0.167h0.042v0.015h-0.042zM0.433 0.180h0.029v0.015h-0.029zM0.433 0.193h0.029v0.015h-0.029zM0.433 0.207h0.029v0.015h-0.029zM0.713 0.207h0.015v0.015h-0.015zM0.433 0.220h0.029v0.015h-0.029zM0.713 0.220h0.015v0.015h-0.015zM0.433 0.233h0.029v0.015h-0.029zM0.433 0.247h0.029v0.015h-0.029zM0.700 0.247h0.015v0.015h-0.015zM0.433 0.260h0.029v0.015h-0.029zM0.700 0.260h0.015v0.015h-0.015zM0.447 0.273h0.015v0.015h-0.015zM0.447 0.287h0.029v0.015h-0.029zM0.180 0.300h0.015v0.015h-0.015zM0.447 0.300h0.029v0.015h-0.029zM0.193 0.313h0.015v0.015h-0.015zM0.447 0.313h0.029v0.015h-0.029zM0.460 0.327h0.015v0.015h-0.015zM0.460 0.340h0.015v0.015h-0.015zM0.460 0.353h0.015v0.015h-0.015zM0.473 0.367h0.015v0.015h-0.015zM0.740 0.420h0.122v0.015h-0.122zM0.687 0.433h0.175v0.015h-0.175zM0.660 0.447h0.042v0.015h-0.042zM0.647 0.460h0.015v0.015h-0.015zM0.233 0.500h0.015v0.015h-0.015zM0.140 0.513h0.135v0.015h-0.135zM0.140 0.527h0.042v0.015h-0.042zM0.513 0.540h0.015v0.015h-0.015zM0.527 0.553h0.015v0.015h-0.015zM0.527 0.567h0.029v0.015h-0.029zM0.540 0.580h0.029v0.015h-0.029zM0.553 0.593h0.029v0.015h-0.029zM0.567 0.607h0.029v0.015h-0.029zM0.580 0.620h0.042v0.015h-0.042zM0.593 0.633h0.042v0.015h-0.042zM0.607 0.647h0.042v0.015h-0.042zM0.620 0.660h0.042v0.015h-0.042zM0.633 0.673h0.042v0.015h-0.042zM0.660 0.687h0.042v0.015h-0.042zM0.673 0.700h0.042v0.015h-0.042zM0.687 0.713h0.042v0.015h-0.042zM0.700 0.727h0.055v0.015h-0.055zM0.433 0.740h0.015v0.015h-0.015zM0.713 0.740h0.055v0.015h-0.055zM0.300 0.753h0.042v0.015h-0.042zM0.433 0.753h0.015v0.015h-0.015zM0.740 0.753h0.029v0.015h-0.029zM0.273 0.767h0.029v0.015h-0.029zM0.433 0.767h0.015v0.015h-0.015zM0.273 0.780h0.015v0.015h-0.015zM0.433 0.780h0.015v0.015h-0.015zM0.433 0.793h0.015v0.015h-0.015zM0.433 0.807h0.029v0.015h-0.029zM0.447 0.820h0.015v0.015h-0.015zM0.447 0.833h0.015v0.015h-0.015zM0.447 0.847h0.029v0.015h-0.029z"/>
<path fill="rgb(49,49,49)" d="M0.447 0.140h0.042v0.015h-0.042zM0.447 0.153h0.042v0.015h-0.042zM0.460 0.167h0.029v0.015h-0.029zM0.460 0.180h0.029v0.015h-0.029zM0.460 0.193h0.029v0.015h-0.029zM0.460 0.207h0.029v0.015h-0.029zM0.460 0.220h0.029v0.015h-0.029zM0.727 0.220h0.029v0.015h-0.029zM0.460 0.233h0.029v0.015h-0.029zM0.713 0.233h0.029v0.015h-0.029zM0.460 0.247h0.029v0.015h-0.029zM0.713 0.247h0.015v0.015h-0.015zM0.460 0.260h0.029v0.015h-0.029zM0.460 0.273h0.029v0.015h-0.029zM0.193 0.287h0.015v0.015h-0.015zM0.473 0.287h0.015v0.015h-0.015zM0.193 0.300h0.015v0.015h-0.015zM0.473 0.300h0.015v0.015h-0.015zM0.473 0.313h0.015v0.015h-0.015zM0.473 0.327h0.015v0.015h-0.015zM0.473 0.340h0.015v0.015h-0.015zM0.473 0.353h0.015v0.015h-0.015zM0.700 0.447h0.162v0.015h-0.162zM0.660 0.460h0.202v0.015h-0.202zM0.140 0.487h0.122v0.015h-0.122zM0.140 0.500h0.095v0.015h-0.095zM0.247 0.500h0.055v0.015h-0.055zM0.513 0.553h0.015v0.015h-0.015zM0.513 0.567h0.015v0.015h-0.015zM0.513 0.580h0.029v0.015h-0.029zM0.527 0.593h0.029v0.015h-0.029zM0.540 0.607h0.029v0.015h-0.029zM0.540 0.620h0.042v0.015h-0.042zM0.553 0.633h0.042v0.015h-0.042zM0.567 0.647h0.042v0.015h-0.042zM0.593 0.660h0.029v0.015h-0.029zM0.607 0.673h0.029v0.015h-0.029zM0.620 0.687h0.042v0.015h-0.042zM0.633 0.700h0.042v0.015h-0.042zM0.647 0.713h0.042v0.015h-0.042zM0.433 0.727h0.015v0.015h-0.015zM0.660 0.727h0.042v0.015h-0.042zM0.287 0.740h0.055v0.015h-0.055zM0.420 0.740h0.015v0.015h-0.015zM0.673 0.740h0.042v0.015h-0.042zM0.247 0.753h0.055v0.015h-0.055zM0.340 0.753h0.015v0.015h-0.015zM0.420 0.753h0.015v0.015h-0.015zM0.687 0.753h0.055v0.015h-0.055zM0.247 0.767h0.029v0.015h-0.029zM0.420 0.767h0.015v0.015h-0.015zM0.700 0.767h0.055v0.015h-0.055zM0.420 0.780h0.015v0.015h-0.015zM0.713 0.780h0.015v0.015h-0.015zM0.420 0.793h0.015v0.015h-0.015zM0.420 0.807h0.015v0.015h-0.015zM0.420 0.820h0.029v0.015h-0.029zM0.420 0.833h0.029v0.015h-0.029zM0.420 0.847h0.029v0.015h-0.029z"/>
<path fill="rgb(72,72,72)" d="M0.487 0.140h0.029v0.015h-0.029zM0.487 0.153h0.029v0.015h-0.029zM0.487 0.167h0.029v0.015h-0.029zM0.487 0.180h0.029v0.015h-0.029zM0.487 0.193h0.029v0.015h-0.029zM0.487 0.207h0.029v0.015h-0.029zM0.487 0.220h0.029v0.015h-0.029zM0.487 0.233h0.029v0.015h-0.029zM0.740 0.233h0.015v0.015h-0.015zM0.487 0.247h0.029v0.015h-0.029zM0.727 0.247h0.015v0.015h-0.015zM0.487 0.260h0.029v0.015h-0.029zM0.207 0.273h0.015v0.015h-0.015zM0.487 0.273h0.029v0.015h-0.029zM0.207 0.287h0.015v0.015h-0.015zM0.487 0.287h0.029v0.015h-0.029zM0.207 0.300h0.015v0.015h-0.015zM0.487 0.300h0.029v0.015h-0.029zM0.207 0.313h0.015v0.015h-0.015zM0.487 0.313h0.029v0.015h-0.029zM0.487 0.327h0.029v0.015h-0.029zM0.487 0.340h0.029v0.015h-0.029zM0.487 0.353h0.015v0.015h-0.015zM0.487 0.367h0.015v0.015h-0.015zM0.487 0.380h0.015v0.015h-0.015zM0.140 0.460h0.109v0.015h-0.109zM0.140 0.473h0.135v0.015h-0.135zM0.660 0.473h0.202v0.015h-0.202zM0.260 0.487h0.029v0.015h-0.029zM0.780 0.487h0.082v0.015h-0.082zM0.500 0.540h0.015v0.015h-0.015zM0.500 0.553h0.015v0.015h-0.015zM0.500 0.567h0.015v0.015h-0.015zM0.500 0.580h0.015v0.015h-0.015zM0.500 0.593h0.029v0.015h-0.029zM0.500 0.607h0.042v0.015h-0.042zM0.513 0.620h0.029v0.015h-0.029zM0.527 0.633h0.029v0.015h-0.029zM0.540 0.647h0.029v0.015h-0.029zM0.553 0.660h0.042v0.015h-0.042zM0.567 0.673h0.042v0.015h-0.042zM0.580 0.687h0.042v0.015h-0.042zM0.593 0.700h0.042v0.015h-0.042zM0.300 0.713h0.029v0.015h-0.029zM0.607 0.713h0.042v0.015h-0.042zM0.260 0.727h0.095v0.015h-0.095zM0.407 0.727h0.029v0.015h-0.029zM0.620 0.727h0.042v0.015h-0.042zM0.233 0.740h0.055v0.015h-0.055zM0.340 0.740h0.029v0.015h-0.029zM0.393 0.740h0.029v0.015h-0.029zM0.633 0.740h0.042v0.015h-0.042zM0.233 0.753h0.015v0.015h-0.015zM0.393 0.753h0.029v0.015h-0.029zM0.647 0.753h0.042v0.015h-0.042zM0.393 0.767h0.029v0.015h-0.029zM0.660 0.767h0.042v0.015h-0.042zM0.393 0.780h0.029v0.015h-0.029zM0.673 0.780h0.042v0.015h-0.042zM0.407 0.793h0.015v0.015h-0.015zM0.687 0.793h0.029v0.015h-0.029zM0.407 0.807h0.015v0.015h-0.015zM0.407 0.820h0.015v0.015h-0.015zM0.407 0.833h0.015v0.015h-0.015zM0.407 0.847h0.015v0.015h-0.015z"/>
<path fill="rgb(93,93,93)" d="M0.513 0.140h0.029v0.015h-0.029zM0.513 0.153h0.029v0.015h-0.029zM0.513 0.167h0.029v0.015h-0.029zM0.513 0.180h0.029v0.015h-0.029zM0.513 0.193h0.029v0.015h-0.029zM0.513 0.207h0.029v0.015h-0.029zM0.513 0.220h0.029v0.015h-0.029zM0.513 0.233h0.029v0.015h-0.029zM0.753 0.233h0.015v0.015h-0.015zM0.513 0.247h0.029v0.015h-0.029zM0.740 0.247h0.029v0.015h-0.029zM0.220 0.260h0.015v0.015h-0.015zM0.513 0.260h0.029v0.015h-0.029zM0.713 0.260h0.029v0.015h-0.029zM0.220 0.273h0.015v0.015h-0.015zM0.513 0.273h0.029v0.015h-0.029zM0.220 0.287h0.015v0.015h-0.015zM0.513 0.287h0.029v0.015h-0.029zM0.220 0.300h0.015v0.015h-0.015zM0.513 0.300h0.015v0.015h-0.015zM0.220 0.313h0.015v0.015h-0.015zM0.513 0.313h0.015v0.015h-0.015zM0.513 0.327h0.015v0.015h-0.015zM0.513 0.340h0.015v0.015h-0.015zM0.500 0.353h0.015v0.015h-0.015zM0.500 0.367h0.015v0.015h-0.015zM0.140 0.433h0.095v0.015h-0.095zM0.140 0.447h0.135v0.015h-0.135zM0.247 0.460h0.042v0.015h-0.042zM0.273 0.473h0.029v0.015h-0.029zM0.647 0.473h0.015v0.015h-0.015zM0.287 0.487h0.015v0.015h-0.015zM0.673 0.487h0.109v0.015h-0.109zM0.727 0.500h0.135v0.015h-0.135zM0.793 0.513h0.069v0.015h-0.069zM0.487 0.553h0.015v0.015h-0.015zM0.473 0.567h0.029v0.015h-0.029zM0.473 0.580h0.029v0.015h-0.029zM0.473 0.593h0.029v0.015h-0.029zM0.473 0.607h0.029v0.015h-0.029zM0.473 0.620h0.042v0.015h-0.042zM0.473 0.633h0.055v0.015h-0.055zM0.487 0.647h0.055v0.015h-0.055zM0.500 0.660h0.055v0.015h-0.055zM0.527 0.673h0.042v0.015h-0.042zM0.313 0.687h0.109v0.015h-0.109zM0.540 0.687h0.042v0.015h-0.042zM0.260 0.700h0.175v0.015h-0.175zM0.567 0.700h0.029v0.015h-0.029zM0.233 0.713h0.069v0.015h-0.069zM0.327 0.713h0.122v0.015h-0.122zM0.580 0.713h0.029v0.015h-0.029zM0.220 0.727h0.042v0.015h-0.042zM0.353 0.727h0.055v0.015h-0.055zM0.593 0.727h0.029v0.015h-0.029zM0.220 0.740h0.015v0.015h-0.015zM0.367 0.740h0.029v0.015h-0.029zM0.607 0.740h0.029v0.015h-0.029zM0.353 0.753h0.042v0.015h-0.042zM0.620 0.753h0.029v0.015h-0.029zM0.380 0.767h0.015v0.015h-0.015zM0.633 0.767h0.029v0.015h-0.029zM0.380 0.780h0.015v0.015h-0.015zM0.647 0.780h0.029v0.015h-0.029zM0.380 0.793h0.029v0.015h-0.029zM0.660 0.793h0.029v0.015h-0.029zM0.393 0.807h0.015v0.015h-0.015zM0.660 0.807h0.042v0.015h-0.042zM0.393 0.820h0.015v0.015h-0.015zM0.393 0.833h0.015v0.015h-0.015zM0.393 0.847h0.015v0.015h-0.015z"/>
<path fill="rgb(114,114,114)" d="M0.540 0.140h0.029v0.015h-0.029zM0.540 0.153h0.029v0.015h-0.029zM0.540 0.167h0.029v0.015h-0.029zM0.540 0.180h0.029v0.015h-0.029zM0.540 0.193h0.029v0.015h-0.029zM0.540 0.207h0.029v0.015h-0.029zM0.540 0.220h0.029v0.015h-0.029zM0.233 0.233h0.015v0.015h-0.015zM0.540 0.233h0.029v0.015h-0.029zM0.220 0.247h0.029v0.015h-0.029zM0.540 0.247h0.029v0.015h-0.029zM0.767 0.247h0.015v0.015h-0.015zM0.233 0.260h0.015v0.015h-0.015zM0.540 0.260h0.029v0.015h-0.029zM0.740 0.260h0.042v0.015h-0.042zM0.233 0.273h0.029v0.015h-0.029zM0.540 0.273h0.029v0.015h-0.029zM0.233 0.287h0.029v0.015h-0.029zM0.540 0.287h0.015v0.015h-0.015zM0.233 0.300h0.029v0.015h-0.029zM0.527 0.300h0.029v0.015h-0.029zM0.233 0.313h0.015v0.015h-0.015zM0.527 0.313h0.029v0.015h-0.029zM0.207 0.327h0.042v0.015h-0.042zM0.527 0.327h0.029v0.015h-0.029zM0.527 0.340h0.015v0.015h-0.015zM0.513 0.353h0.029v0.015h-0.029zM0.513 0.367h0.015v0.015h-0.015zM0.500 0.380h0.015v0.015h-0.015zM0.180 0.407h0.082v0.015h-0.082zM0.140 0.420h0.149v0.015h-0.149zM0.233 0.433h0.069v0.015h-0.069zM0.273 0.447h0.029v0.015h-0.029zM0.287 0.460h0.029v0.015h-0.029zM0.300 0.473h0.015v0.015h-0.015zM0.300 0.487h0.015v0.015h-0.015zM0.660 0.487h0.015v0.015h-0.015zM0.300 0.500h0.015v0.015h-0.015zM0.673 0.500h0.055v0.015h-0.055zM0.713 0.513h0.082v0.015h-0.082zM0.753 0.527h0.109v0.015h-0.109zM0.473 0.540h0.029v0.015h-0.029zM0.793 0.540h0.069v0.015h-0.069zM0.460 0.553h0.029v0.015h-0.029zM0.847 0.553h0.015v0.015h-0.015zM0.447 0.567h0.029v0.015h-0.029zM0.433 0.580h0.042v0.015h-0.042zM0.420 0.593h0.055v0.015h-0.055zM0.407 0.607h0.069v0.015h-0.069zM0.393 0.620h0.082v0.015h-0.082zM0.367 0.633h0.109v0.015h-0.109zM0.340 0.647h0.149v0.015h-0.149zM0.300 0.660h0.202v0.015h-0.202zM0.260 0.673h0.269v0.015h-0.269zM0.233 0.687h0.082v0.015h-0.082zM0.420 0.687h0.122v0.015h-0.122zM0.207 0.700h0.055v0.015h-0.055zM0.433 0.700h0.029v0.015h-0.029zM0.527 0.700h0.042v0.015h-0.042zM0.207 0.713h0.029v0.015h-0.029zM0.540 0.713h0.042v0.015h-0.042zM0.553 0.727h0.042v0.015h-0.042zM0.567 0.740h0.042v0.015h-0.042zM0.580 0.753h0.042v0.015h-0.042zM0.353 0.767h0.029v0.015h-0.029zM0.593 0.767h0.042v0.015h-0.042zM0.367 0.780h0.015v0.015h-0.015zM0.607 0.780h0.042v0.015h-0.042zM0.367 0.793h0.015v0.015h-0.015zM0.620 0.793h0.042v0.015h-0.042zM0.367 0.807h0.029v0.015h-0.029zM0.633 0.807h0.029v0.015h-0.029zM0.367 0.820h0.029v0.015h-0.029zM0.647 0.820h0.029v0.015h-0.029zM0.367 0.833h0.029v0.015h-0.029z"/>
<path fill="rgb(134,134,134)" d="M0.567 0.140h0.029v0.015h-0.029zM0.567 0.153h0.029v0.015h-0.029zM0.567 0.167h0.029v0.015h-0.029zM0.567 0.180h0.029v0.015h-0.029zM0.567 0.193h0.029v0.015h-0.029zM0.567 0.207h0.029v0.015h-0.029zM0.247 0.220h0.029v0.015h-0.029zM0.567 0.220h0.029v0.015h-0.029zM0.247 0.233h0.029v0.015h-0.029zM0.567 0.233h0.029v0.015h-0.029zM0.247 0.247h0.029v0.015h-0.029zM0.567 0.247h0.029v0.015h-0.029zM0.247 0.260h0.029v0.015h-0.029zM0.567 0.260h0.029v0.015h-0.029zM0.260 0.273h0.015v0.015h-0.015zM0.567 0.273h0.029v0.015h-0.029zM0.713 0.273h0.082v0.015h-0.082zM0.260 0.287h0.029v0.015h-0.029zM0.553 0.287h0.029v0.015h-0.029zM0.260 0.300h0.029v0.015h-0.029zM0.553 0.300h0.029v0.015h-0.029zM0.247 0.313h0.042v0.015h-0.042zM0.553 0.313h0.029v0.015h-0.029zM0.247 0.327h0.042v0.015h-0.042zM0.553 0.327h0.029v0.015h-0.029zM0.220 0.340h0.069v0.015h-0.069zM0.540 0.340h0.029v0.015h-0.029zM0.220 0.353h0.069v0.015h-0.069zM0.540 0.353h0.029v0.015h-0.029zM0.207 0.367h0.082v0.015h-0.082zM0.527 0.367h0.029v0.015h-0.029zM0.193 0.380h0.109v0.015h-0.109zM0.513 0.380h0.029v0.015h-0.029zM0.140 0.393h0.162v0.015h-0.162zM0.500 0.393h0.015v0.015h-0.015zM0.140 0.407h0.042v0.015h-0.042zM0.260 0.407h0.055v0.015h-0.055zM0.287 0.420h0.042v0.015h-0.042zM0.300 0.433h0.029v0.015h-0.029zM0.300 0.447h0.042v0.015h-0.042zM0.313 0.460h0.029v0.015h-0.029zM0.313 0.473h0.029v0.015h-0.029zM0.313 0.487h0.029v0.015h-0.029zM0.647 0.487h0.015v0.015h-0.015zM0.313 0.500h0.015v0.015h-0.015zM0.660 0.500h0.015v0.015h-0.015zM0.673 0.513h0.042v0.015h-0.042zM0.420 0.527h0.082v0.015h-0.082zM0.700 0.527h0.055v0.015h-0.055zM0.393 0.540h0.082v0.015h-0.082zM0.727 0.540h0.069v0.015h-0.069zM0.380 0.553h0.082v0.015h-0.082zM0.767 0.553h0.082v0.015h-0.082zM0.367 0.567h0.082v0.015h-0.082zM0.793 0.567h0.069v0.015h-0.069zM0.367 0.580h0.069v0.015h-0.069zM0.833 0.580h0.029v0.015h-0.029zM0.353 0.593h0.069v0.015h-0.069zM0.340 0.607h0.069v0.015h-0.069zM0.313 0.620h0.082v0.015h-0.082zM0.287 0.633h0.082v0.015h-0.082zM0.260 0.647h0.082v0.015h-0.082zM0.233 0.660h0.069v0.015h-0.069zM0.207 0.673h0.055v0.015h-0.055zM0.180 0.687h0.055v0.015h-0.055zM0.193 0.700h0.015v0.015h-0.015zM0.460 0.700h0.069v0.015h-0.069zM0.447 0.713h0.015v0.015h-0.015zM0.500 0.713h0.042v0.015h-0.042zM0.527 0.727h0.029v0.015h-0.029zM0.540 0.740h0.029v0.015h-0.029zM0.553 0.753h0.029v0.015h-0.029zM0.567 0.767h0.029v0.015h-0.029zM0.353 0.780h0.015v0.015h-0.015zM0.580 0.780h0.029v0.015h-0.029zM0.580 0.793h0.042v0.015h-0.042zM0.353 0.807h0.015v0.015h-0.015zM0.593 0.807h0.042v0.015h-0.042zM0.353 0.820h0.015v0.015h-0.015zM0.607 0.820h0.042v0.015h-0.042zM0.353 0.833h0.015v0.015h-0.015zM0.620 0.833h0.029v0.015h-0.029z"/>
<path fill="rgb(153,153,153)" d="M0.593 0.140h0.015v0.015h-0.015zM0.593 0.153h0.029v0.015h-0.029zM0.593 0.167h0.029v0.015h-0.029zM0.593 0.180h0.029v0.015h-0.029zM0.593 0.193h0.029v0.015h-0.029zM0.273 0.207h0.015v0.015h-0.015zM0.593 0.207h0.029v0.015h-0.029zM0.273 0.220h0.029v0.015h-0.029zM0.593 0.220h0.029v0.015h-0.029zM0.273 0.233h0.029v0.015h-0.029zM0.593 0.233h0.029v0.015h-0.029zM0.273 0.247h0.029v0.015h-0.029zM0.593 0.247h0.029v0.015h-0.029zM0.273 0.260h0.029v0.015h-0.029zM0.593 0.260h0.029v0.015h-0.029zM0.273 0.273h0.029v0.015h-0.029zM0.593 0.273h0.029v0.015h-0.029zM0.700 0.273h0.015v0.015h-0.015zM0.287 0.287h0.029v0.015h-0.029zM0.580 0.287h0.042v0.015h-0.042zM0.713 0.287h0.095v0.015h-0.095zM0.287 0.300h0.029v0.015h-0.029zM0.580 0.300h0.042v0.015h-0.042zM0.727 0.300h0.055v0.015h-0.055zM0.287 0.313h0.029v0.015h-0.029zM0.580 0.313h0.029v0.015h-0.029zM0.287 0.327h0.029v0.015h-0.029zM0.580 0.327h0.029v0.015h-0.029zM0.207 0.340h0.015v0.015h-0.015zM0.287 0.340h0.042v0.015h-0.042zM0.567 0.340h0.042v0.015h-0.042zM0.193 0.353h0.029v0.015h-0.029zM0.287 0.353h0.042v0.015h-0.042zM0.567 0.353h0.029v0.015h-0.029zM0.153 0.367h0.055v0.015h-0.055zM0.287 0.367h0.042v0.015h-0.042zM0.553 0.367h0.029v0.015h-0.029zM0.153 0.380h0.042v0.015h-0.042zM0.300 0.380h0.042v0.015h-0.042zM0.540 0.380h0.042v0.015h-0.042zM0.300 0.393h0.055v0.015h-0.055zM0.513 0.393h0.055v0.015h-0.055zM0.313 0.407h0.042v0.015h-0.042zM0.500 0.407h0.042v0.015h-0.042zM0.327 0.420h0.042v0.015h-0.042zM0.327 0.433h0.055v0.015h-0.055zM0.340 0.447h0.055v0.015h-0.055zM0.340 0.460h0.069v0.015h-0.069zM0.340 0.473h0.095v0.015h-0.095zM0.340 0.487h0.122v0.015h-0.122zM0.633 0.487h0.015v0.015h-0.015zM0.327 0.500h0.162v0.015h-0.162zM0.647 0.500h0.015v0.015h-0.015zM0.313 0.513h0.189v0.015h-0.189zM0.647 0.513h0.029v0.015h-0.029zM0.327 0.527h0.095v0.015h-0.095zM0.660 0.527h0.042v0.015h-0.042zM0.340 0.540h0.055v0.015h-0.055zM0.687 0.540h0.042v0.015h-0.042zM0.327 0.553h0.055v0.015h-0.055zM0.700 0.553h0.069v0.015h-0.069zM0.327 0.567h0.042v0.015h-0.042zM0.740 0.567h0.055v0.015h-0.055zM0.313 0.580h0.055v0.015h-0.055zM0.767 0.580h0.069v0.015h-0.069zM0.300 0.593h0.055v0.015h-0.055zM0.793 0.593h0.069v0.015h-0.069zM0.287 0.607h0.055v0.015h-0.055zM0.833 0.607h0.015v0.015h-0.015zM0.260 0.620h0.055v0.015h-0.055zM0.233 0.633h0.055v0.015h-0.055zM0.193 0.647h0.069v0.015h-0.069zM0.167 0.660h0.069v0.015h-0.069zM0.180 0.673h0.029v0.015h-0.029zM0.460 0.713h0.042v0.015h-0.042zM0.487 0.727h0.042v0.015h-0.042zM0.513 0.740h0.029v0.015h-0.029zM0.527 0.753h0.029v0.015h-0.029zM0.540 0.767h0.029v0.015h-0.029zM0.553 0.780h0.029v0.015h-0.029zM0.353 0.793h0.015v0.015h-0.015zM0.553 0.793h0.029v0.015h-0.029zM0.567 0.807h0.029v0.015h-0.029zM0.340 0.820h0.015v0.015h-0.015zM0.580 0.820h0.029v0.015h-0.029zM0.580 0.833h0.042v0.015h-0.042zM0.593 0.847h0.015v0.015h-0.015z"/>
<path fill="rgb(172,172,172)" d="M0.620 0.153h0.029v0.015h-0.029zM0.620 0.167h0.029v0.015h-0.029zM0.300 0.180h0.015v0.015h-0.015zM0.620 0.180h0.029v0.015h-0.029zM0.287 0.193h0.029v0.015h-0.029zM0.620 0.193h0.029v0.015h-0.029zM0.287 0.207h0.029v0.015h-0.029zM0.620 0.207h0.029v0.015h-0.029zM0.300 0.220h0.029v0.015h-0.029zM0.620 0.220h0.029v0.015h-0.029zM0.300 0.233h0.029v0.015h-0.029zM0.620 0.233h0.029v0.015h-0.029zM0.300 0.247h0.029v0.015h-0.029zM0.620 0.247h0.029v0.015h-0.029zM0.300 0.260h0.029v0.015h-0.029zM0.620 0.260h0.029v0.015h-0.029zM0.300 0.273h0.042v0.015h-0.042zM0.620 0.273h0.042v0.015h-0.042zM0.313 0.287h0.029v0.015h-0.029zM0.620 0.287h0.042v0.015h-0.042zM0.687 0.287h0.029v0.015h-0.029zM0.313 0.300h0.029v0.015h-0.029zM0.620 0.300h0.109v0.015h-0.109zM0.780 0.300h0.042v0.015h-0.042zM0.313 0.313h0.029v0.015h-0.029zM0.607 0.313h0.055v0.015h-0.055zM0.687 0.313h0.135v0.015h-0.135zM0.313 0.327h0.042v0.015h-0.042zM0.607 0.327h0.042v0.015h-0.042zM0.193 0.340h0.015v0.015h-0.015zM0.327 0.340h0.029v0.015h-0.029zM0.607 0.340h0.042v0.015h-0.042zM0.153 0.353h0.042v0.015h-0.042zM0.327 0.353h0.042v0.015h-0.042zM0.593 0.353h0.042v0.015h-0.042zM0.327 0.367h0.042v0.015h-0.042zM0.580 0.367h0.042v0.015h-0.042zM0.340 0.380h0.042v0.015h-0.042zM0.580 0.380h0.029v0.015h-0.029zM0.353 0.393h0.042v0.015h-0.042zM0.487 0.393h0.015v0.015h-0.015zM0.567 0.393h0.029v0.015h-0.029zM0.353 0.407h0.055v0.015h-0.055zM0.487 0.407h0.015v0.015h-0.015zM0.540 0.407h0.055v0.015h-0.055zM0.367 0.420h0.055v0.015h-0.055zM0.487 0.420h0.095v0.015h-0.095zM0.380 0.433h0.069v0.015h-0.069zM0.473 0.433h0.095v0.015h-0.095zM0.393 0.447h0.149v0.015h-0.149zM0.407 0.460h0.122v0.015h-0.122zM0.433 0.473h0.082v0.015h-0.082zM0.460 0.487h0.055v0.015h-0.055zM0.487 0.500h0.029v0.015h-0.029zM0.620 0.500h0.029v0.015h-0.029zM0.633 0.513h0.015v0.015h-0.015zM0.313 0.527h0.015v0.015h-0.015zM0.500 0.527h0.015v0.015h-0.015zM0.633 0.527h0.029v0.015h-0.029zM0.313 0.540h0.029v0.015h-0.029zM0.647 0.540h0.042v0.015h-0.042zM0.300 0.553h0.029v0.015h-0.029zM0.673 0.553h0.029v0.015h-0.029zM0.300 0.567h0.029v0.015h-0.029zM0.687 0.567h0.055v0.015h-0.055zM0.287 0.580h0.029v0.015h-0.029zM0.713 0.580h0.055v0.015h-0.055zM0.260 0.593h0.042v0.015h-0.042zM0.740 0.593h0.055v0.015h-0.055zM0.233 0.607h0.055v0.015h-0.055zM0.767 0.607h0.069v0.015h-0.069zM0.193 0.620h0.069v0.015h-0.069zM0.793 0.620h0.055v0.015h-0.055zM0.167 0.633h0.069v0.015h-0.069zM0.820 0.633h0.029v0.015h-0.029zM0.167 0.647h0.029v0.015h-0.029zM0.460 0.727h0.029v0.015h-0.029zM0.487 0.740h0.029v0.015h-0.029zM0.500 0.753h0.029v0.015h-0.029zM0.513 0.767h0.029v0.015h-0.029zM0.340 0.780h0.015v0.015h-0.015zM0.527 0.780h0.029v0.015h-0.029zM0.340 0.793h0.015v0.015h-0.015zM0.527 0.793h0.029v0.015h-0.029zM0.340 0.807h0.015v0.015h-0.015zM0.540 0.807h0.029v0.015h-0.029zM0.327 0.820h0.015v0.015h-0.015zM0.553 0.820h0.029v0.015h-0.029zM0.553 0.833h0.029v0.015h-0.029zM0.567 0.847h0.029v0.015h-0.029z"/>
<path fill="rgb(190,190,190)" d="M0.327 0.167h0.015v0.015h-0.015zM0.647 0.167h0.029v0.015h-0.029zM0.313 0.180h0.029v0.015h-0.029zM0.647 0.180h0.015v0.015h-0.015zM0.313 0.193h0.029v0.015h-0.029zM0.647 0.193h0.015v0.015h-0.015zM0.313 0.207h0.042v0.015h-0.042zM0.647 0.207h0.015v0.015h-0.015zM0.327 0.220h0.029v0.015h-0.029zM0.647 0.220h0.015v0.015h-0.015zM0.327 0.233h0.029v0.015h-0.029zM0.647 0.233h0.015v0.015h-0.015zM0.327 0.247h0.029v0.015h-0.029zM0.647 0.247h0.029v0.015h-0.029zM0.327 0.260h0.029v0.015h-0.029zM0.647 0.260h0.029v0.015h-0.029zM0.340 0.273h0.029v0.015h-0.029zM0.660 0.273h0.042v0.015h-0.042zM0.340 0.287h0.029v0.015h-0.029zM0.660 0.287h0.029v0.015h-0.029zM0.340 0.300h0.029v0.015h-0.029zM0.340 0.313h0.042v0.015h-0.042zM0.660 0.313h0.029v0.015h-0.029zM0.353 0.327h0.029v0.015h-0.029zM0.647 0.327h0.189v0.015h-0.189zM0.167 0.340h0.029v0.015h-0.029zM0.353 0.340h0.042v0.015h-0.042zM0.647 0.340h0.175v0.015h-0.175zM0.367 0.353h0.029v0.015h-0.029zM0.633 0.353h0.069v0.015h-0.069zM0.367 0.367h0.042v0.015h-0.042zM0.620 0.367h0.042v0.015h-0.042zM0.380 0.380h0.042v0.015h-0.042zM0.607 0.380h0.042v0.015h-0.042zM0.393 0.393h0.042v0.015h-0.042zM0.593 0.393h0.042v0.015h-0.042zM0.407 0.407h0.082v0.015h-0.082zM0.593 0.407h0.029v0.015h-0.029zM0.420 0.420h0.069v0.015h-0.069zM0.580 0.420h0.042v0.015h-0.042zM0.447 0.433h0.029v0.015h-0.029zM0.567 0.433h0.042v0.015h-0.042zM0.540 0.447h0.069v0.015h-0.069zM0.527 0.460h0.082v0.015h-0.082zM0.513 0.473h0.135v0.015h-0.135zM0.513 0.487h0.122v0.015h-0.122zM0.513 0.500h0.015v0.015h-0.015zM0.593 0.500h0.029v0.015h-0.029zM0.300 0.513h0.015v0.015h-0.015zM0.500 0.513h0.015v0.015h-0.015zM0.607 0.513h0.029v0.015h-0.029zM0.300 0.527h0.015v0.015h-0.015zM0.607 0.527h0.029v0.015h-0.029zM0.300 0.540h0.015v0.015h-0.015zM0.620 0.540h0.029v0.015h-0.029zM0.287 0.553h0.015v0.015h-0.015zM0.633 0.553h0.042v0.015h-0.042zM0.260 0.567h0.042v0.015h-0.042zM0.647 0.567h0.042v0.015h-0.042zM0.233 0.580h0.055v0.015h-0.055zM0.673 0.580h0.042v0.015h-0.042zM0.207 0.593h0.055v0.015h-0.055zM0.687 0.593h0.055v0.015h-0.055zM0.167 0.607h0.069v0.015h-0.069zM0.713 0.607h0.055v0.015h-0.055zM0.153 0.620h0.042v0.015h-0.042zM0.727 0.620h0.069v0.015h-0.069zM0.153 0.633h0.015v0.015h-0.015zM0.753 0.633h0.069v0.015h-0.069zM0.780 0.647h0.055v0.015h-0.055zM0.807 0.660h0.029v0.015h-0.029zM0.473 0.740h0.015v0.015h-0.015zM0.487 0.753h0.015v0.015h-0.015zM0.340 0.767h0.015v0.015h-0.015zM0.487 0.767h0.029v0.015h-0.029zM0.500 0.780h0.029v0.015h-0.029zM0.327 0.793h0.015v0.015h-0.015zM0.513 0.793h0.015v0.015h-0.015zM0.313 0.807h0.029v0.015h-0.029zM0.513 0.807h0.029v0.015h-0.029zM0.527 0.820h0.029v0.015h-0.029zM0.527 0.833h0.029v0.015h-0.029zM0.540 0.847h0.029v0.015h-0.029z"/>
<path fill="rgb(208,208,208)" d="M0.353 0.153h0.015v0.015h-0.015zM0.340 0.167h0.029v0.015h-0.029zM0.340 0.180h0.029v0.015h-0.029zM0.660 0.180h0.029v0.015h-0.029zM0.340 0.193h0.029v0.015h-0.029zM0.660 0.193h0.029v0.015h-0.029zM0.353 0.207h0.029v0.015h-0.029zM0.660 0.207h0.029v0.015h-0.029zM0.353 0.220h0.029v0.015h-0.029zM0.660 0.220h0.029v0.015h-0.029zM0.353 0.233h0.029v0.015h-0.029zM0.660 0.233h0.029v0.015h-0.029zM0.353 0.247h0.029v0.015h-0.029zM0.673 0.247h0.015v0.015h-0.015zM0.353 0.260h0.042v0.015h-0.042zM0.673 0.260h0.029v0.015h-0.029zM0.367 0.273h0.029v0.015h-0.029zM0.367 0.287h0.029v0.015h-0.029zM0.367 0.300h0.029v0.015h-0.029zM0.380 0.313h0.029v0.015h-0.029zM0.167 0.327h0.029v0.015h-0.029zM0.380 0.327h0.029v0.015h-0.029zM0.393 0.340h0.029v0.015h-0.029zM0.820 0.340h0.015v0.015h-0.015zM0.393 0.353h0.029v0.015h-0.029zM0.700 0.353h0.149v0.015h-0.149zM0.407 0.367h0.029v0.015h-0.029zM0.660 0.367h0.149v0.015h-0.149zM0.420 0.380h0.029v0.015h-0.029zM0.647 0.380h0.055v0.015h-0.055zM0.433 0.393h0.055v0.015h-0.055zM0.633 0.393h0.042v0.015h-0.042zM0.620 0.407h0.042v0.015h-0.042zM0.620 0.420h0.029v0.015h-0.029zM0.607 0.433h0.029v0.015h-0.029zM0.607 0.447h0.029v0.015h-0.029zM0.607 0.460h0.029v0.015h-0.029zM0.527 0.500h0.069v0.015h-0.069zM0.513 0.513h0.095v0.015h-0.095zM0.287 0.527h0.015v0.015h-0.015zM0.580 0.527h0.029v0.015h-0.029zM0.273 0.540h0.029v0.015h-0.029zM0.593 0.540h0.029v0.015h-0.029zM0.247 0.553h0.042v0.015h-0.042zM0.607 0.553h0.029v0.015h-0.029zM0.207 0.567h0.055v0.015h-0.055zM0.620 0.567h0.029v0.015h-0.029zM0.167 0.580h0.069v0.015h-0.069zM0.633 0.580h0.042v0.015h-0.042zM0.140 0.593h0.069v0.015h-0.069zM0.647 0.593h0.042v0.015h-0.042zM0.153 0.607h0.015v0.015h-0.015zM0.673 0.607h0.042v0.015h-0.042zM0.687 0.620h0.042v0.015h-0.042zM0.713 0.633h0.042v0.015h-0.042zM0.727 0.647h0.055v0.015h-0.055zM0.753 0.660h0.055v0.015h-0.055zM0.767 0.673h0.055v0.015h-0.055zM0.793 0.687h0.029v0.015h-0.029zM0.447 0.727h0.015v0.015h-0.015zM0.460 0.740h0.015v0.015h-0.015zM0.473 0.753h0.015v0.015h-0.015zM0.473 0.767h0.015v0.015h-0.015zM0.327 0.780h0.015v0.015h-0.015zM0.487 0.780h0.015v0.015h-0.015zM0.313 0.793h0.015v0.015h-0.015zM0.487 0.793h0.029v0.015h-0.029zM0.300 0.807h0.015v0.015h-0.015zM0.500 0.807h0.015v0.015h-0.015zM0.500 0.820h0.029v0.015h-0.029zM0.500 0.833h0.029v0.015h-0.029zM0.513 0.847h0.029v0.015h-0.029z"/>
<path fill="rgb(226,226,226)" d="M0.367 0.153h0.029v0.015h-0.029zM0.367 0.167h0.029v0.015h-0.029zM0.367 0.180h0.029v0.015h-0.029zM0.687 0.180h0.015v0.015h-0.015zM0.367 0.193h0.042v0.015h-0.042zM0.687 0.193h0.015v0.015h-0.015zM0.380 0.207h0.029v0.015h-0.029zM0.687 0.207h0.015v0.015h-0.015zM0.380 0.220h0.029v0.015h-0.029zM0.687 0.220h0.015v0.015h-0.015zM0.380 0.233h0.029v0.015h-0.029zM0.687 0.233h0.015v0.015h-0.015zM0.380 0.247h0.029v0.015h-0.029zM0.687 0.247h0.015v0.015h-0.015zM0.393 0.260h0.029v0.015h-0.029zM0.393 0.273h0.029v0.015h-0.029zM0.393 0.287h0.029v0.015h-0.029zM0.393 0.300h0.029v0.015h-0.029zM0.407 0.313h0.029v0.015h-0.029zM0.193 0.327h0.015v0.015h-0.015zM0.407 0.327h0.029v0.015h-0.029zM0.420 0.340h0.015v0.015h-0.015zM0.420 0.353h0.029v0.015h-0.029zM0.433 0.367h0.029v0.015h-0.029zM0.807 0.367h0.042v0.015h-0.042zM0.447 0.380h0.029v0.015h-0.029zM0.700 0.380h0.149v0.015h-0.149zM0.673 0.393h0.109v0.015h-0.109zM0.660 0.407h0.042v0.015h-0.042zM0.647 0.420h0.029v0.015h-0.029zM0.633 0.433h0.015v0.015h-0.015zM0.633 0.447h0.015v0.015h-0.015zM0.633 0.460h0.015v0.015h-0.015zM0.273 0.527h0.015v0.015h-0.015zM0.513 0.527h0.069v0.015h-0.069zM0.220 0.540h0.055v0.015h-0.055zM0.553 0.540h0.042v0.015h-0.042zM0.167 0.553h0.082v0.015h-0.082zM0.567 0.553h0.042v0.015h-0.042zM0.140 0.567h0.069v0.015h-0.069zM0.593 0.567h0.029v0.015h-0.029zM0.140 0.580h0.029v0.015h-0.029zM0.607 0.580h0.029v0.015h-0.029zM0.620 0.593h0.029v0.015h-0.029zM0.633 0.607h0.042v0.015h-0.042zM0.647 0.620h0.042v0.015h-0.042zM0.660 0.633h0.055v0.015h-0.055zM0.687 0.647h0.042v0.015h-0.042zM0.700 0.660h0.055v0.015h-0.055zM0.727 0.673h0.042v0.015h-0.042zM0.740 0.687h0.055v0.015h-0.055zM0.753 0.700h0.055v0.015h-0.055zM0.780 0.713h0.015v0.015h-0.015zM0.447 0.740h0.015v0.015h-0.015zM0.460 0.753h0.015v0.015h-0.015zM0.327 0.767h0.015v0.015h-0.015zM0.460 0.767h0.015v0.015h-0.015zM0.313 0.780h0.015v0.015h-0.015zM0.460 0.780h0.029v0.015h-0.029zM0.287 0.793h0.029v0.015h-0.029zM0.473 0.793h0.015v0.015h-0.015zM0.473 0.807h0.029v0.015h-0.029zM0.473 0.820h0.029v0.015h-0.029zM0.487 0.833h0.015v0.015h-0.015zM0.487 0.847h0.029v0.015h-0.029z"/>
<path fill="rgb(244,244,244)" d="M0.393 0.140h0.029v0.015h-0.029zM0.393 0.153h0.029v0.015h-0.029zM0.393 0.167h0.029v0.015h-0.029zM0.393 0.180h0.042v0.015h-0.042zM0.407 0.193h0.029v0.015h-0.029zM0.700 0.193h0.015v0.015h-0.015zM0.407 0.207h0.029v0.015h-0.029zM0.700 0.207h0.015v0.015h-0.015zM0.407 0.220h0.029v0.015h-0.029zM0.700 0.220h0.015v0.015h-0.015zM0.407 0.233h0.029v0.015h-0.029zM0.700 0.233h0.015v0.015h-0.015zM0.407 0.247h0.029v0.015h-0.029zM0.420 0.260h0.015v0.015h-0.015zM0.420 0.273h0.029v0.015h-0.029zM0.420 0.287h0.029v0.015h-0.029zM0.420 0.300h0.029v0.015h-0.029zM0.180 0.313h0.015v0.015h-0.015zM0.433 0.313h0.015v0.015h-0.015zM0.433 0.327h0.029v0.015h-0.029zM0.433 0.340h0.029v0.015h-0.029zM0.447 0.353h0.015v0.015h-0.015zM0.460 0.367h0.015v0.015h-0.015zM0.473 0.380h0.015v0.015h-0.015zM0.780 0.393h0.082v0.015h-0.082zM0.700 0.407h0.162v0.015h-0.162zM0.673 0.420h0.069v0.015h-0.069zM0.647 0.433h0.042v0.015h-0.042zM0.647 0.447h0.015v0.015h-0.015zM0.273 0.513h0.029v0.015h-0.029zM0.180 0.527h0.095v0.015h-0.095zM0.140 0.540h0.082v0.015h-0.082zM0.527 0.540h0.029v0.015h-0.029zM0.140 0.553h0.029v0.015h-0.029zM0.540 0.553h0.029v0.015h-0.029zM0.553 0.567h0.042v0.015h-0.042zM0.567 0.580h0.042v0.015h-0.042zM0.580 0.593h0.042v0.015h-0.042zM0.593 0.607h0.042v0.015h-0.042zM0.620 0.620h0.029v0.015h-0.029zM0.633 0.633h0.029v0.015h-0.029zM0.647 0.647h0.042v0.015h-0.042zM0.660 0.660h0.042v0.015h-0.042zM0.673 0.673h0.055v0.015h-0.055zM0.700 0.687h0.042v0.015h-0.042zM0.713 0.700h0.042v0.015h-0.042zM0.727 0.713h0.055v0.015h-0.055zM0.753 0.727h0.029v0.015h-0.029zM0.767 0.740h0.015v0.015h-0.015zM0.447 0.753h0.015v0.015h-0.015zM0.300 0.767h0.029v0.015h-0.029zM0.447 0.767h0.015v0.015h-0.015zM0.287 0.780h0.029v0.015h-0.029zM0.447 0.780h0.015v0.015h-0.015zM0.447 0.793h0.029v0.015h-0.029zM0.460 0.807h0.015v0.015h-0.015zM0.460 0.820h0.015v0.015h-0.015zM0.460 0.833h0.029v0.015h-0.029zM0.473 0.847h0.015v0.015h-0.015z"/>
</g>
</g></g>
<g transform="matrix(135.2 9.8 -24.0 56.2 378.5 383.9)"><rect x="0" y="0" width="1" height="1" fill="#7f7f7f"/><g clip-path="url(#unit)">
<g clip-path="url(#disc)">
<circle cx="0.5" cy="0.5" r="0.36" fill="#888"/>
<path fill="rgb(24,24,24)" d="M0.513 0.140h0.015v0.015h-0.015zM0.367 0.153h0.015v0.015h-0.015zM0.513 0.153h0.015v0.015h-0.015zM0.513 0.167h0.015v0.015h-0.015zM0.660 0.167h0.015v0.015h-0.015zM0.380 0.180h0.015v0.015h-0.015zM0.513 0.180h0.015v0.015h-0.015zM0.660 0.180h0.015v0.015h-0.015zM0.380 0.193h0.015v0.015h-0.015zM0.513 0.193h0.015v0.015h-0.015zM0.647 0.193h0.015v0.015h-0.015zM0.393 0.207h0.015v0.015h-0.015zM0.513 0.207h0.015v0.015h-0.015zM0.647 0.207h0.015v0.015h-0.015zM0.393 0.220h0.015v0.015h-0.015zM0.513 0.220h0.015v0.015h-0.015zM0.633 0.220h0.015v0.015h-0.015zM0.233 0.233h0.015v0.015h-0.015zM0.407 0.233h0.015v0.015h-0.015zM0.513 0.233h0.015v0.015h-0.015zM0.633 0.233h0.015v0.015h-0.015zM0.247 0.247h0.015v0.015h-0.015zM0.500 0.247h0.015v0.015h-0.015zM0.620 0.247h0.015v0.015h-0.015zM0.260 0.260h0.015v0.015h-0.015zM0.500 0.260h0.015v0.015h-0.015zM0.273 0.273h0.015v0.015h-0.015zM0.500 0.273h0.015v0.015h-0.015zM0.767 0.273h0.029v0.015h-0.029zM0.287 0.287h0.015v0.015h-0.015zM0.487 0.287h0.029v0.015h-0.029zM0.753 0.287h0.015v0.015h-0.015zM0.487 0.300h0.015v0.015h-0.015zM0.740 0.300h0.015v0.015h-0.015zM0.300 0.313h0.015v0.015h-0.015zM0.487 0.313h0.015v0.015h-0.015zM0.727 0.313h0.015v0.015h-0.015zM0.487 0.327h0.015v0.015h-0.015zM0.713 0.327h0.015v0.015h-0.015zM0.300 0.340h0.015v0.015h-0.015zM0.487 0.340h0.015v0.015h-0.015zM0.700 0.340h0.015v0.015h-0.015zM0.153 0.353h0.015v0.015h-0.015zM0.487 0.353h0.015v0.015h-0.015zM0.687 0.353h0.015v0.015h-0.015zM0.167 0.367h0.029v0.015h-0.029zM0.487 0.367h0.015v0.015h-0.015zM0.673 0.367h0.029v0.015h-0.029zM0.207 0.380h0.029v0.015h-0.029zM0.487 0.380h0.015v0.015h-0.015zM0.660 0.380h0.029v0.015h-0.029zM0.247 0.393h0.055v0.015h-0.055zM0.660 0.393h0.015v0.015h-0.015zM0.300 0.407h0.029v0.015h-0.029zM0.633 0.407h0.029v0.015h-0.029zM0.727 0.407h0.015v0.015h-0.015zM0.820 0.407h0.042v0.015h-0.042zM0.327 0.420h0.029v0.015h-0.029zM0.620 0.420h0.029v0.015h-0.029zM0.740 0.420h0.069v0.015h-0.069zM0.353 0.433h0.015v0.015h-0.015zM0.607 0.433h0.015v0.015h-0.015zM0.367 0.447h0.015v0.015h-0.015zM0.593 0.447h0.015v0.015h-0.015zM0.140 0.513h0.055v0.015h-0.055zM0.473 0.553h0.015v0.015h-0.015zM0.753 0.553h0.109v0.015h-0.109zM0.473 0.567h0.015v0.015h-0.015zM0.380 0.580h0.042v0.015h-0.042zM0.473 0.580h0.015v0.015h-0.015zM0.340 0.593h0.042v0.015h-0.042zM0.420 0.593h0.015v0.015h-0.015zM0.487 0.593h0.015v0.015h-0.015zM0.593 0.593h0.069v0.015h-0.069zM0.287 0.607h0.069v0.015h-0.069zM0.487 0.607h0.015v0.015h-0.015zM0.660 0.607h0.029v0.015h-0.029zM0.247 0.620h0.029v0.015h-0.029zM0.487 0.620h0.015v0.015h-0.015zM0.687 0.620h0.029v0.015h-0.029zM0.220 0.633h0.029v0.015h-0.029zM0.487 0.633h0.029v0.015h-0.029zM0.713 0.633h0.015v0.015h-0.015zM0.180 0.647h0.029v0.015h-0.029zM0.487 0.647h0.029v0.015h-0.029zM0.727 0.647h0.015v0.015h-0.015zM0.167 0.660h0.015v0.015h-0.015zM0.500 0.660h0.015v0.015h-0.015zM0.740 0.660h0.029v0.015h-0.029zM0.500 0.673h0.015v0.015h-0.015zM0.767 0.673h0.015v0.015h-0.015zM0.327 0.687h0.015v0.015h-0.015zM0.500 0.687h0.015v0.015h-0.015zM0.780 0.687h0.015v0.015h-0.015zM0.500 0.700h0.029v0.015h-0.029zM0.793 0.700h0.015v0.015h-0.015zM0.313 0.713h0.015v0.015h-0.015zM0.513 0.713h0.015v0.015h-0.015zM0.633 0.713h0.015v0.015h-0.015zM0.300 0.727h0.015v0.015h-0.015zM0.513 0.727h0.015v0.015h-0.015zM0.287 0.740h0.015v0.015h-0.015zM0.433 0.740h0.015v0.015h-0.015zM0.527 0.740h0.015v0.015h-0.015zM0.647 0.740h0.015v0.015h-0.015zM0.273 0.753h0.015v0.015h-0.015zM0.420 0.753h0.015v0.015h-0.015zM0.527 0.753h0.015v0.015h-0.015zM0.660 0.753h0.015v0.015h-0.015zM0.273 0.767h0.015v0.015h-0.015zM0.420 0.767h0.015v0.015h-0.015zM0.527 0.767h0.015v0.015h-0.015zM0.660 0.767h0.015v0.015h-0.015zM0.420 0.780h0.015v0.015h-0.015zM0.673 0.780h0.015v0.015h-0.015zM0.407 0.793h0.015v0.015h-0.015zM0.540 0.793h0.015v0.015h-0.015zM0.687 0.793h0.015v0.015h-0.015zM0.407 0.807h0.015v0.015h-0.015zM0.540 0.807h0.015v0.015h-0.015zM0.687 0.807h0.015v0.015h-0.015zM0.407 0.820h0.015v0.015h-0.015zM0.540 0.820h0.015v0.015h-0.015zM0.393 0.833h0.015v0.015h-0.015zM0.540 0.833h0.015v0.015h-0.015zM0.393 0.847h0.015v0.015h-0.015zM0.540 0.847h0.015v0.015h-0.015z"/>
<path fill="rgb(49,49,49)" d="M0.527 0.140h0.015v0.015h-0.015zM0.380 0.153h0.015v0.015h-0.015zM0.527 0.153h0.015v0.015h-0.015zM0.380 0.167h0.015v0.015h-0.015zM0.527 0.167h0.015v0.015h-0.015zM0.393 0.180h0.015v0.015h-0.015zM0.527 0.180h0.015v0.015h-0.015zM0.673 0.180h0.015v0.015h-0.015zM0.393 0.193h0.015v0.015h-0.015zM0.527 0.193h0.015v0.015h-0.015zM0.660 0.193h0.015v0.015h-0.015zM0.527 0.207h0.015v0.015h-0.015zM0.660 0.207h0.015v0.015h-0.015zM0.247 0.220h0.015v0.015h-0.015zM0.407 0.220h0.015v0.015h-0.015zM0.527 0.220h0.015v0.015h-0.015zM0.647 0.220h0.015v0.015h-0.015zM0.247 0.233h0.029v0.015h-0.029zM0.527 0.233h0.015v0.015h-0.015zM0.260 0.247h0.015v0.015h-0.015zM0.420 0.247h0.015v0.015h-0.015zM0.513 0.247h0.015v0.015h-0.015zM0.273 0.260h0.015v0.015h-0.015zM0.513 0.260h0.015v0.015h-0.015zM0.287 0.273h0.015v0.015h-0.015zM0.513 0.273h0.015v0.015h-0.015zM0.300 0.287h0.015v0.015h-0.015zM0.513 0.287h0.015v0.015h-0.015zM0.767 0.287h0.029v0.015h-0.029zM0.300 0.300h0.015v0.015h-0.015zM0.500 0.300h0.029v0.015h-0.029zM0.753 0.300h0.029v0.015h-0.029zM0.313 0.313h0.015v0.015h-0.015zM0.500 0.313h0.015v0.015h-0.015zM0.740 0.313h0.015v0.015h-0.015zM0.313 0.327h0.015v0.015h-0.015zM0.500 0.327h0.015v0.015h-0.015zM0.727 0.327h0.015v0.015h-0.015zM0.313 0.340h0.015v0.015h-0.015zM0.500 0.340h0.015v0.015h-0.015zM0.713 0.340h0.015v0.015h-0.015zM0.167 0.353h0.029v0.015h-0.029zM0.500 0.353h0.015v0.015h-0.015zM0.700 0.353h0.015v0.015h-0.015zM0.193 0.367h0.042v0.015h-0.042zM0.700 0.367h0.015v0.015h-0.015zM0.233 0.380h0.082v0.015h-0.082zM0.687 0.380h0.015v0.015h-0.015zM0.300 0.393h0.042v0.015h-0.042zM0.673 0.393h0.029v0.015h-0.029zM0.327 0.407h0.029v0.015h-0.029zM0.660 0.407h0.069v0.015h-0.069zM0.353 0.420h0.015v0.015h-0.015zM0.647 0.420h0.042v0.015h-0.042zM0.713 0.420h0.029v0.015h-0.029zM0.807 0.420h0.055v0.015h-0.055zM0.367 0.433h0.015v0.015h-0.015zM0.620 0.433h0.029v0.015h-0.029zM0.753 0.433h0.042v0.015h-0.042zM0.607 0.447h0.015v0.015h-0.015zM0.140 0.500h0.135v0.015h-0.135zM0.380 0.567h0.042v0.015h-0.042zM0.460 0.567h0.015v0.015h-0.015zM0.807 0.567h0.055v0.015h-0.055zM0.327 0.580h0.055v0.015h-0.055zM0.420 0.580h0.029v0.015h-0.029zM0.460 0.580h0.015v0.015h-0.015zM0.287 0.593h0.055v0.015h-0.055zM0.460 0.593h0.029v0.015h-0.029zM0.247 0.607h0.042v0.015h-0.042zM0.473 0.607h0.015v0.015h-0.015zM0.620 0.607h0.042v0.015h-0.042zM0.220 0.620h0.029v0.015h-0.029zM0.473 0.620h0.015v0.015h-0.015zM0.660 0.620h0.029v0.015h-0.029zM0.180 0.633h0.042v0.015h-0.042zM0.473 0.633h0.015v0.015h-0.015zM0.687 0.633h0.029v0.015h-0.029zM0.167 0.647h0.015v0.015h-0.015zM0.473 0.647h0.015v0.015h-0.015zM0.700 0.647h0.029v0.015h-0.029zM0.327 0.660h0.015v0.015h-0.015zM0.473 0.660h0.029v0.015h-0.029zM0.727 0.660h0.015v0.015h-0.015zM0.327 0.673h0.015v0.015h-0.015zM0.473 0.673h0.029v0.015h-0.029zM0.740 0.673h0.029v0.015h-0.029zM0.313 0.687h0.015v0.015h-0.015zM0.473 0.687h0.029v0.015h-0.029zM0.753 0.687h0.029v0.015h-0.029zM0.313 0.700h0.015v0.015h-0.015zM0.487 0.700h0.015v0.015h-0.015zM0.620 0.700h0.015v0.015h-0.015zM0.780 0.700h0.015v0.015h-0.015zM0.300 0.713h0.015v0.015h-0.015zM0.447 0.713h0.029v0.015h-0.029zM0.500 0.713h0.015v0.015h-0.015zM0.620 0.713h0.015v0.015h-0.015zM0.287 0.727h0.015v0.015h-0.015zM0.433 0.727h0.015v0.015h-0.015zM0.633 0.727h0.015v0.015h-0.015zM0.273 0.740h0.015v0.015h-0.015zM0.420 0.740h0.015v0.015h-0.015zM0.513 0.740h0.015v0.015h-0.015zM0.633 0.740h0.015v0.015h-0.015zM0.260 0.753h0.015v0.015h-0.015zM0.513 0.753h0.015v0.015h-0.015zM0.647 0.753h0.015v0.015h-0.015zM0.247 0.767h0.029v0.015h-0.029zM0.407 0.767h0.015v0.015h-0.015zM0.647 0.767h0.015v0.015h-0.015zM0.407 0.780h0.015v0.015h-0.015zM0.527 0.780h0.015v0.015h-0.015zM0.660 0.780h0.015v0.015h-0.015zM0.393 0.793h0.015v0.015h-0.015zM0.527 0.793h0.015v0.015h-0.015zM0.673 0.793h0.015v0.015h-0.015zM0.393 0.807h0.015v0.015h-0.015zM0.527 0.807h0.015v0.015h-0.015zM0.673 0.807h0.015v0.015h-0.015zM0.393 0.820h0.015v0.015h-0.015zM0.527 0.820h0.015v0.015h-0.015zM0.380 0.833h0.015v0.015h-0.015zM0.527 0.833h0.015v0.015h-0.015zM0.527 0.847h0.015v0.015h-0.015z"/>
<path fill="rgb(72,72,72)" d="M0.393 0.140h0.015v0.015h-0.015zM0.540 0.140h0.015v0.015h-0.015zM0.393 0.153h0.015v0.015h-0.015zM0.540 0.153h0.015v0.015h-0.015zM0.393 0.167h0.015v0.015h-0.015zM0.540 0.167h0.015v0.015h-0.015zM0.407 0.180h0.015v0.015h-0.015zM0.540 0.180h0.015v0.015h-0.015zM0.687 0.180h0.015v0.015h-0.015zM0.407 0.193h0.015v0.015h-0.015zM0.540 0.193h0.015v0.015h-0.015zM0.673 0.193h0.015v0.015h-0.015zM0.407 0.207h0.015v0.015h-0.015zM0.540 0.207h0.015v0.015h-0.015zM0.673 0.207h0.015v0.015h-0.015zM0.260 0.220h0.015v0.015h-0.015zM0.420 0.220h0.015v0.015h-0.015zM0.540 0.220h0.015v0.015h-0.015zM0.660 0.220h0.015v0.015h-0.015zM0.273 0.233h0.015v0.015h-0.015zM0.420 0.233h0.015v0.015h-0.015zM0.540 0.233h0.015v0.015h-0.015zM0.647 0.233h0.015v0.015h-0.015zM0.273 0.247h0.029v0.015h-0.029zM0.527 0.247h0.015v0.015h-0.015zM0.633 0.247h0.015v0.015h-0.015zM0.287 0.260h0.015v0.015h-0.015zM0.527 0.260h0.015v0.015h-0.015zM0.300 0.273h0.015v0.015h-0.015zM0.527 0.273h0.015v0.015h-0.015zM0.313 0.287h0.015v0.015h-0.015zM0.527 0.287h0.015v0.015h-0.015zM0.793 0.287h0.015v0.015h-0.015zM0.313 0.300h0.015v0.015h-0.015zM0.527 0.300h0.015v0.015h-0.015zM0.780 0.300h0.015v0.015h-0.015zM0.513 0.313h0.029v0.015h-0.029zM0.753 0.313h0.029v0.015h-0.029zM0.327 0.327h0.015v0.015h-0.015zM0.513 0.327h0.015v0.015h-0.015zM0.740 0.327h0.029v0.015h-0.029zM0.167 0.340h0.029v0.015h-0.029zM0.327 0.340h0.015v0.015h-0.015zM0.513 0.340h0.015v0.015h-0.015zM0.727 0.340h0.015v0.015h-0.015zM0.193 0.353h0.029v0.015h-0.029zM0.313 0.353h0.029v0.015h-0.029zM0.513 0.353h0.015v0.015h-0.015zM0.713 0.353h0.015v0.015h-0.015zM0.233 0.367h0.029v0.015h-0.029zM0.300 0.367h0.042v0.015h-0.042zM0.500 0.367h0.015v0.015h-0.015zM0.713 0.367h0.015v0.015h-0.015zM0.313 0.380h0.042v0.015h-0.042zM0.500 0.380h0.015v0.015h-0.015zM0.700 0.380h0.015v0.015h-0.015zM0.340 0.393h0.029v0.015h-0.029zM0.700 0.393h0.029v0.015h-0.029zM0.353 0.407h0.029v0.015h-0.029zM0.367 0.420h0.015v0.015h-0.015zM0.687 0.420h0.029v0.015h-0.029zM0.647 0.433h0.109v0.015h-0.109zM0.793 0.433h0.069v0.015h-0.069zM0.380 0.447h0.015v0.015h-0.015zM0.620 0.447h0.042v0.015h-0.042zM0.593 0.460h0.015v0.015h-0.015zM0.140 0.487h0.109v0.015h-0.109zM0.367 0.553h0.109v0.015h-0.109zM0.327 0.567h0.055v0.015h-0.055zM0.420 0.567h0.042v0.015h-0.042zM0.740 0.567h0.069v0.015h-0.069zM0.287 0.580h0.042v0.015h-0.042zM0.447 0.580h0.015v0.015h-0.015zM0.820 0.580h0.042v0.015h-0.042zM0.260 0.593h0.029v0.015h-0.029zM0.433 0.593h0.029v0.015h-0.029zM0.220 0.607h0.029v0.015h-0.029zM0.460 0.607h0.015v0.015h-0.015zM0.593 0.607h0.029v0.015h-0.029zM0.180 0.620h0.042v0.015h-0.042zM0.460 0.620h0.015v0.015h-0.015zM0.633 0.620h0.029v0.015h-0.029zM0.153 0.633h0.029v0.015h-0.029zM0.460 0.633h0.015v0.015h-0.015zM0.660 0.633h0.029v0.015h-0.029zM0.460 0.647h0.015v0.015h-0.015zM0.687 0.647h0.015v0.015h-0.015zM0.460 0.660h0.015v0.015h-0.015zM0.700 0.660h0.029v0.015h-0.029zM0.313 0.673h0.015v0.015h-0.015zM0.460 0.673h0.015v0.015h-0.015zM0.727 0.673h0.015v0.015h-0.015zM0.447 0.687h0.029v0.015h-0.029zM0.740 0.687h0.015v0.015h-0.015zM0.300 0.700h0.015v0.015h-0.015zM0.433 0.700h0.055v0.015h-0.055zM0.753 0.700h0.029v0.015h-0.029zM0.287 0.713h0.015v0.015h-0.015zM0.433 0.713h0.015v0.015h-0.015zM0.473 0.713h0.029v0.015h-0.029zM0.767 0.713h0.029v0.015h-0.029zM0.273 0.727h0.015v0.015h-0.015zM0.420 0.727h0.015v0.015h-0.015zM0.500 0.727h0.015v0.015h-0.015zM0.620 0.727h0.015v0.015h-0.015zM0.260 0.740h0.015v0.015h-0.015zM0.407 0.740h0.015v0.015h-0.015zM0.500 0.740h0.015v0.015h-0.015zM0.247 0.753h0.015v0.015h-0.015zM0.407 0.753h0.015v0.015h-0.015zM0.633 0.753h0.015v0.015h-0.015zM0.393 0.767h0.015v0.015h-0.015zM0.513 0.767h0.015v0.015h-0.015zM0.393 0.780h0.015v0.015h-0.015zM0.513 0.780h0.015v0.015h-0.015zM0.647 0.780h0.015v0.015h-0.015zM0.513 0.793h0.015v0.015h-0.015zM0.660 0.793h0.015v0.015h-0.015zM0.380 0.807h0.015v0.015h-0.015zM0.513 0.807h0.015v0.015h-0.015zM0.660 0.807h0.015v0.015h-0.015zM0.380 0.820h0.015v0.015h-0.015zM0.513 0.820h0.015v0.015h-0.015zM0.367 0.833h0.015v0.015h-0.015zM0.513 0.833h0.015v0.015h-0.015zM0.513 0.847h0.015v0.015h-0.015z"/>
<path fill="rgb(93,93,93)" d="M0.407 0.140h0.015v0.015h-0.015zM0.553 0.140h0.015v0.015h-0.015zM0.407 0.153h0.015v0.015h-0.015zM0.553 0.153h0.015v0.015h-0.015zM0.407 0.167h0.015v0.015h-0.015zM0.553 0.167h0.015v0.015h-0.015zM0.553 0.180h0.015v0.015h-0.015zM0.420 0.193h0.015v0.015h-0.015zM0.553 0.193h0.015v0.015h-0.015zM0.687 0.193h0.015v0.015h-0.015zM0.420 0.207h0.015v0.015h-0.015zM0.553 0.207h0.015v0.015h-0.015zM0.687 0.207h0.015v0.015h-0.015zM0.273 0.220h0.015v0.015h-0.015zM0.553 0.220h0.015v0.015h-0.015zM0.673 0.220h0.015v0.015h-0.015zM0.287 0.233h0.015v0.015h-0.015zM0.553 0.233h0.015v0.015h-0.015zM0.660 0.233h0.015v0.015h-0.015zM0.300 0.247h0.015v0.015h-0.015zM0.433 0.247h0.015v0.015h-0.015zM0.540 0.247h0.029v0.015h-0.029zM0.647 0.247h0.015v0.015h-0.015zM0.300 0.260h0.015v0.015h-0.015zM0.540 0.260h0.015v0.015h-0.015zM0.313 0.273h0.015v0.015h-0.015zM0.540 0.273h0.015v0.015h-0.015zM0.540 0.287h0.015v0.015h-0.015zM0.327 0.300h0.015v0.015h-0.015zM0.540 0.300h0.015v0.015h-0.015zM0.793 0.300h0.029v0.015h-0.029zM0.327 0.313h0.015v0.015h-0.015zM0.540 0.313h0.015v0.015h-0.015zM0.780 0.313h0.015v0.015h-0.015zM0.167 0.327h0.029v0.015h-0.029zM0.340 0.327h0.015v0.015h-0.015zM0.527 0.327h0.015v0.015h-0.015zM0.767 0.327h0.015v0.015h-0.015zM0.193 0.340h0.029v0.015h-0.029zM0.340 0.340h0.015v0.015h-0.015zM0.527 0.340h0.015v0.015h-0.015zM0.740 0.340h0.029v0.015h-0.029zM0.220 0.353h0.042v0.015h-0.042zM0.300 0.353h0.015v0.015h-0.015zM0.340 0.353h0.015v0.015h-0.015zM0.527 0.353h0.015v0.015h-0.015zM0.727 0.353h0.015v0.015h-0.015zM0.260 0.367h0.042v0.015h-0.042zM0.340 0.367h0.029v0.015h-0.029zM0.513 0.367h0.015v0.015h-0.015zM0.353 0.380h0.029v0.015h-0.029zM0.713 0.380h0.015v0.015h-0.015zM0.367 0.393h0.015v0.015h-0.015zM0.380 0.407h0.015v0.015h-0.015zM0.380 0.420h0.015v0.015h-0.015zM0.380 0.433h0.015v0.015h-0.015zM0.660 0.447h0.202v0.015h-0.202zM0.607 0.460h0.069v0.015h-0.069zM0.140 0.473h0.082v0.015h-0.082zM0.247 0.487h0.029v0.015h-0.029zM0.407 0.527h0.015v0.015h-0.015zM0.353 0.540h0.122v0.015h-0.122zM0.327 0.553h0.042v0.015h-0.042zM0.287 0.567h0.042v0.015h-0.042zM0.260 0.580h0.029v0.015h-0.029zM0.780 0.580h0.042v0.015h-0.042zM0.220 0.593h0.042v0.015h-0.042zM0.820 0.593h0.042v0.015h-0.042zM0.193 0.607h0.029v0.015h-0.029zM0.447 0.607h0.015v0.015h-0.015zM0.153 0.620h0.029v0.015h-0.029zM0.447 0.620h0.015v0.015h-0.015zM0.607 0.620h0.029v0.015h-0.029zM0.447 0.633h0.015v0.015h-0.015zM0.633 0.633h0.029v0.015h-0.029zM0.447 0.647h0.015v0.015h-0.015zM0.660 0.647h0.029v0.015h-0.029zM0.447 0.660h0.015v0.015h-0.015zM0.687 0.660h0.015v0.015h-0.015zM0.433 0.673h0.029v0.015h-0.029zM0.700 0.673h0.029v0.015h-0.029zM0.300 0.687h0.015v0.015h-0.015zM0.433 0.687h0.015v0.015h-0.015zM0.607 0.687h0.015v0.015h-0.015zM0.727 0.687h0.015v0.015h-0.015zM0.287 0.700h0.015v0.015h-0.015zM0.420 0.700h0.015v0.015h-0.015zM0.607 0.700h0.015v0.015h-0.015zM0.740 0.700h0.015v0.015h-0.015zM0.273 0.713h0.015v0.015h-0.015zM0.420 0.713h0.015v0.015h-0.015zM0.607 0.713h0.015v0.015h-0.015zM0.753 0.713h0.015v0.015h-0.015zM0.260 0.727h0.015v0.015h-0.015zM0.407 0.727h0.015v0.015h-0.015zM0.487 0.727h0.015v0.015h-0.015zM0.767 0.727h0.015v0.015h-0.015zM0.247 0.740h0.015v0.015h-0.015zM0.620 0.740h0.015v0.015h-0.015zM0.233 0.753h0.015v0.015h-0.015zM0.393 0.753h0.015v0.015h-0.015zM0.500 0.753h0.015v0.015h-0.015zM0.620 0.753h0.015v0.015h-0.015zM0.500 0.767h0.015v0.015h-0.015zM0.633 0.767h0.015v0.015h-0.015zM0.380 0.780h0.015v0.015h-0.015zM0.500 0.780h0.015v0.015h-0.015zM0.633 0.780h0.015v0.015h-0.015zM0.380 0.793h0.015v0.015h-0.015zM0.500 0.793h0.015v0.015h-0.015zM0.647 0.793h0.015v0.015h-0.015zM0.367 0.807h0.015v0.015h-0.015zM0.500 0.807h0.015v0.015h-0.015zM0.647 0.807h0.015v0.015h-0.015zM0.367 0.820h0.015v0.015h-0.015zM0.500 0.820h0.015v0.015h-0.015zM0.647 0.820h0.029v0.015h-0.029zM0.353 0.833h0.015v0.015h-0.015zM0.500 0.833h0.015v0.015h-0.015z"/>
<path fill="rgb(114,114,114)" d="M0.420 0.140h0.015v0.015h-0.015zM0.567 0.140h0.015v0.015h-0.015zM0.420 0.153h0.015v0.015h-0.015zM0.567 0.153h0.015v0.015h-0.015zM0.420 0.167h0.015v0.015h-0.015zM0.567 0.167h0.015v0.015h-0.015zM0.420 0.180h0.015v0.015h-0.015zM0.567 0.180h0.015v0.015h-0.015zM0.567 0.193h0.015v0.015h-0.015zM0.700 0.193h0.015v0.015h-0.015zM0.273 0.207h0.029v0.015h-0.029zM0.433 0.207h0.015v0.015h-0.015zM0.567 0.207h0.015v0.015h-0.015zM0.700 0.207h0.015v0.015h-0.015zM0.287 0.220h0.015v0.015h-0.015zM0.433 0.220h0.015v0.015h-0.015zM0.687 0.220h0.015v0.015h-0.015zM0.300 0.233h0.015v0.015h-0.015zM0.433 0.233h0.015v0.015h-0.015zM0.673 0.233h0.015v0.015h-0.015zM0.313 0.247h0.015v0.015h-0.015zM0.567 0.247h0.015v0.015h-0.015zM0.660 0.247h0.015v0.015h-0.015zM0.313 0.260h0.015v0.015h-0.015zM0.553 0.260h0.029v0.015h-0.029zM0.620 0.260h0.042v0.015h-0.042zM0.327 0.273h0.015v0.015h-0.015zM0.553 0.273h0.029v0.015h-0.029zM0.327 0.287h0.015v0.015h-0.015zM0.553 0.287h0.029v0.015h-0.029zM0.340 0.300h0.015v0.015h-0.015zM0.553 0.300h0.015v0.015h-0.015zM0.180 0.313h0.015v0.015h-0.015zM0.340 0.313h0.015v0.015h-0.015zM0.553 0.313h0.015v0.015h-0.015zM0.793 0.313h0.029v0.015h-0.029zM0.193 0.327h0.029v0.015h-0.029zM0.353 0.327h0.015v0.015h-0.015zM0.540 0.327h0.029v0.015h-0.029zM0.780 0.327h0.029v0.015h-0.029zM0.220 0.340h0.029v0.015h-0.029zM0.353 0.340h0.015v0.015h-0.015zM0.540 0.340h0.015v0.015h-0.015zM0.767 0.340h0.015v0.015h-0.015zM0.260 0.353h0.042v0.015h-0.042zM0.353 0.353h0.029v0.015h-0.029zM0.540 0.353h0.015v0.015h-0.015zM0.740 0.353h0.015v0.015h-0.015zM0.367 0.367h0.015v0.015h-0.015zM0.527 0.367h0.015v0.015h-0.015zM0.727 0.367h0.015v0.015h-0.015zM0.380 0.380h0.015v0.015h-0.015zM0.513 0.380h0.015v0.015h-0.015zM0.380 0.393h0.029v0.015h-0.029zM0.500 0.393h0.015v0.015h-0.015zM0.393 0.407h0.015v0.015h-0.015zM0.393 0.420h0.015v0.015h-0.015zM0.393 0.433h0.029v0.015h-0.029zM0.393 0.447h0.029v0.015h-0.029zM0.140 0.460h0.055v0.015h-0.055zM0.380 0.460h0.029v0.015h-0.029zM0.673 0.460h0.189v0.015h-0.189zM0.220 0.473h0.042v0.015h-0.042zM0.607 0.473h0.095v0.015h-0.095zM0.273 0.500h0.015v0.015h-0.015zM0.407 0.500h0.029v0.015h-0.029zM0.380 0.513h0.069v0.015h-0.069zM0.340 0.527h0.069v0.015h-0.069zM0.420 0.527h0.042v0.015h-0.042zM0.313 0.540h0.042v0.015h-0.042zM0.287 0.553h0.042v0.015h-0.042zM0.260 0.567h0.029v0.015h-0.029zM0.233 0.580h0.029v0.015h-0.029zM0.753 0.580h0.029v0.015h-0.029zM0.193 0.593h0.029v0.015h-0.029zM0.793 0.593h0.029v0.015h-0.029zM0.153 0.607h0.042v0.015h-0.042zM0.433 0.607h0.015v0.015h-0.015zM0.833 0.607h0.015v0.015h-0.015zM0.433 0.620h0.015v0.015h-0.015zM0.593 0.620h0.015v0.015h-0.015zM0.433 0.633h0.015v0.015h-0.015zM0.607 0.633h0.029v0.015h-0.029zM0.433 0.647h0.015v0.015h-0.015zM0.633 0.647h0.029v0.015h-0.029zM0.313 0.660h0.015v0.015h-0.015zM0.433 0.660h0.015v0.015h-0.015zM0.673 0.660h0.015v0.015h-0.015zM0.300 0.673h0.015v0.015h-0.015zM0.420 0.673h0.015v0.015h-0.015zM0.687 0.673h0.015v0.015h-0.015zM0.287 0.687h0.015v0.015h-0.015zM0.420 0.687h0.015v0.015h-0.015zM0.700 0.687h0.029v0.015h-0.029zM0.273 0.700h0.015v0.015h-0.015zM0.407 0.700h0.015v0.015h-0.015zM0.727 0.700h0.015v0.015h-0.015zM0.260 0.713h0.015v0.015h-0.015zM0.407 0.713h0.015v0.015h-0.015zM0.740 0.713h0.015v0.015h-0.015zM0.233 0.727h0.029v0.015h-0.029zM0.393 0.727h0.015v0.015h-0.015zM0.473 0.727h0.015v0.015h-0.015zM0.607 0.727h0.015v0.015h-0.015zM0.753 0.727h0.015v0.015h-0.015zM0.220 0.740h0.029v0.015h-0.029zM0.393 0.740h0.015v0.015h-0.015zM0.487 0.740h0.015v0.015h-0.015zM0.607 0.740h0.015v0.015h-0.015zM0.767 0.740h0.015v0.015h-0.015zM0.380 0.753h0.015v0.015h-0.015zM0.487 0.753h0.015v0.015h-0.015zM0.607 0.753h0.015v0.015h-0.015zM0.380 0.767h0.015v0.015h-0.015zM0.487 0.767h0.015v0.015h-0.015zM0.620 0.767h0.015v0.015h-0.015zM0.367 0.780h0.015v0.015h-0.015zM0.487 0.780h0.015v0.015h-0.015zM0.620 0.780h0.015v0.015h-0.015zM0.367 0.793h0.015v0.015h-0.015zM0.633 0.793h0.015v0.015h-0.015zM0.353 0.807h0.015v0.015h-0.015zM0.633 0.807h0.015v0.015h-0.015zM0.353 0.820h0.015v0.015h-0.015zM0.633 0.820h0.015v0.015h-0.015zM0.500 0.847h0.015v0.015h-0.015z"/>
<path fill="rgb(134,134,134)" d="M0.433 0.140h0.015v0.015h-0.015zM0.580 0.140h0.015v0.015h-0.015zM0.433 0.153h0.015v0.015h-0.015zM0.580 0.153h0.015v0.015h-0.015zM0.433 0.167h0.015v0.015h-0.015zM0.580 0.167h0.015v0.015h-0.015zM0.433 0.180h0.015v0.015h-0.015zM0.580 0.180h0.015v0.015h-0.015zM0.287 0.193h0.015v0.015h-0.015zM0.433 0.193h0.015v0.015h-0.015zM0.300 0.207h0.015v0.015h-0.015zM0.713 0.207h0.015v0.015h-0.015zM0.300 0.220h0.015v0.015h-0.015zM0.567 0.220h0.015v0.015h-0.015zM0.700 0.220h0.015v0.015h-0.015zM0.313 0.233h0.015v0.015h-0.015zM0.567 0.233h0.015v0.015h-0.015zM0.687 0.233h0.015v0.015h-0.015zM0.327 0.247h0.015v0.015h-0.015zM0.580 0.247h0.015v0.015h-0.015zM0.673 0.247h0.015v0.015h-0.015zM0.327 0.260h0.015v0.015h-0.015zM0.580 0.260h0.015v0.015h-0.015zM0.660 0.260h0.015v0.015h-0.015zM0.340 0.273h0.015v0.015h-0.015zM0.580 0.273h0.015v0.015h-0.015zM0.620 0.273h0.029v0.015h-0.029zM0.340 0.287h0.015v0.015h-0.015zM0.580 0.287h0.015v0.015h-0.015zM0.180 0.300h0.015v0.015h-0.015zM0.353 0.300h0.015v0.015h-0.015zM0.567 0.300h0.029v0.015h-0.029zM0.193 0.313h0.029v0.015h-0.029zM0.353 0.313h0.029v0.015h-0.029zM0.567 0.313h0.029v0.015h-0.029zM0.220 0.327h0.029v0.015h-0.029zM0.367 0.327h0.015v0.015h-0.015zM0.567 0.327h0.015v0.015h-0.015zM0.807 0.327h0.015v0.015h-0.015zM0.247 0.340h0.029v0.015h-0.029zM0.367 0.340h0.029v0.015h-0.029zM0.553 0.340h0.029v0.015h-0.029zM0.780 0.340h0.029v0.015h-0.029zM0.380 0.353h0.015v0.015h-0.015zM0.553 0.353h0.015v0.015h-0.015zM0.753 0.353h0.029v0.015h-0.029zM0.380 0.367h0.029v0.015h-0.029zM0.540 0.367h0.015v0.015h-0.015zM0.740 0.367h0.015v0.015h-0.015zM0.393 0.380h0.015v0.015h-0.015zM0.527 0.380h0.029v0.015h-0.029zM0.727 0.380h0.015v0.015h-0.015zM0.407 0.393h0.015v0.015h-0.015zM0.513 0.393h0.029v0.015h-0.029zM0.407 0.407h0.015v0.015h-0.015zM0.407 0.420h0.029v0.015h-0.029zM0.420 0.433h0.029v0.015h-0.029zM0.140 0.447h0.042v0.015h-0.042zM0.420 0.447h0.029v0.015h-0.029zM0.193 0.460h0.055v0.015h-0.055zM0.407 0.460h0.055v0.015h-0.055zM0.260 0.473h0.015v0.015h-0.015zM0.380 0.473h0.082v0.015h-0.082zM0.593 0.473h0.015v0.015h-0.015zM0.700 0.473h0.162v0.015h-0.162zM0.273 0.487h0.015v0.015h-0.015zM0.380 0.487h0.082v0.015h-0.082zM0.607 0.487h0.109v0.015h-0.109zM0.367 0.500h0.042v0.015h-0.042zM0.433 0.500h0.042v0.015h-0.042zM0.327 0.513h0.055v0.015h-0.055zM0.447 0.513h0.029v0.015h-0.029zM0.300 0.527h0.042v0.015h-0.042zM0.460 0.527h0.015v0.015h-0.015zM0.287 0.540h0.029v0.015h-0.029zM0.273 0.553h0.015v0.015h-0.015zM0.233 0.567h0.029v0.015h-0.029zM0.193 0.580h0.042v0.015h-0.042zM0.140 0.593h0.055v0.015h-0.055zM0.767 0.593h0.029v0.015h-0.029zM0.793 0.607h0.042v0.015h-0.042zM0.833 0.620h0.015v0.015h-0.015zM0.593 0.633h0.015v0.015h-0.015zM0.420 0.647h0.015v0.015h-0.015zM0.607 0.647h0.029v0.015h-0.029zM0.420 0.660h0.015v0.015h-0.015zM0.607 0.660h0.015v0.015h-0.015zM0.647 0.660h0.029v0.015h-0.029zM0.287 0.673h0.015v0.015h-0.015zM0.407 0.673h0.015v0.015h-0.015zM0.607 0.673h0.015v0.015h-0.015zM0.673 0.673h0.015v0.015h-0.015zM0.273 0.687h0.015v0.015h-0.015zM0.407 0.687h0.015v0.015h-0.015zM0.593 0.687h0.015v0.015h-0.015zM0.687 0.687h0.015v0.015h-0.015zM0.260 0.700h0.015v0.015h-0.015zM0.393 0.700h0.015v0.015h-0.015zM0.593 0.700h0.015v0.015h-0.015zM0.700 0.700h0.029v0.015h-0.029zM0.233 0.713h0.029v0.015h-0.029zM0.393 0.713h0.015v0.015h-0.015zM0.593 0.713h0.015v0.015h-0.015zM0.713 0.713h0.029v0.015h-0.029zM0.220 0.727h0.015v0.015h-0.015zM0.380 0.727h0.015v0.015h-0.015zM0.593 0.727h0.015v0.015h-0.015zM0.740 0.727h0.015v0.015h-0.015zM0.380 0.740h0.015v0.015h-0.015zM0.593 0.740h0.015v0.015h-0.015zM0.753 0.740h0.015v0.015h-0.015zM0.367 0.753h0.015v0.015h-0.015zM0.367 0.767h0.015v0.015h-0.015zM0.607 0.767h0.015v0.015h-0.015zM0.353 0.780h0.015v0.015h-0.015zM0.607 0.780h0.015v0.015h-0.015zM0.353 0.793h0.015v0.015h-0.015zM0.487 0.793h0.015v0.015h-0.015zM0.620 0.793h0.015v0.015h-0.015zM0.340 0.807h0.015v0.015h-0.015zM0.487 0.807h0.015v0.015h-0.015zM0.620 0.807h0.015v0.015h-0.015zM0.340 0.820h0.015v0.015h-0.015zM0.487 0.820h0.015v0.015h-0.015zM0.620 0.820h0.015v0.015h-0.015zM0.487 0.833h0.015v0.015h-0.015zM0.633 0.833h0.015v0.015h-0.015zM0.487 0.847h0.015v0.015h-0.015z"/>
<path fill="rgb(153,153,153)" d="M0.447 0.140h0.015v0.015h-0.015zM0.593 0.140h0.015v0.015h-0.015zM0.447 0.153h0.015v0.015h-0.015zM0.593 0.153h0.015v0.015h-0.015zM0.447 0.167h0.015v0.015h-0.015zM0.593 0.167h0.015v0.015h-0.015zM0.300 0.180h0.015v0.015h-0.015zM0.447 0.180h0.015v0.015h-0.015zM0.300 0.193h0.015v0.015h-0.015zM0.447 0.193h0.015v0.015h-0.015zM0.580 0.193h0.015v0.015h-0.015zM0.313 0.207h0.015v0.015h-0.015zM0.447 0.207h0.015v0.015h-0.015zM0.580 0.207h0.015v0.015h-0.015zM0.313 0.220h0.015v0.015h-0.015zM0.447 0.220h0.015v0.015h-0.015zM0.580 0.220h0.015v0.015h-0.015zM0.713 0.220h0.015v0.015h-0.015zM0.327 0.233h0.015v0.015h-0.015zM0.447 0.233h0.015v0.015h-0.015zM0.580 0.233h0.015v0.015h-0.015zM0.700 0.233h0.029v0.015h-0.029zM0.340 0.247h0.015v0.015h-0.015zM0.593 0.247h0.015v0.015h-0.015zM0.687 0.247h0.029v0.015h-0.029zM0.340 0.260h0.015v0.015h-0.015zM0.593 0.260h0.029v0.015h-0.029zM0.673 0.260h0.015v0.015h-0.015zM0.353 0.273h0.015v0.015h-0.015zM0.593 0.273h0.029v0.015h-0.029zM0.647 0.273h0.029v0.015h-0.029zM0.193 0.287h0.015v0.015h-0.015zM0.353 0.287h0.029v0.015h-0.029zM0.593 0.287h0.069v0.015h-0.069zM0.193 0.300h0.029v0.015h-0.029zM0.367 0.300h0.015v0.015h-0.015zM0.593 0.300h0.042v0.015h-0.042zM0.220 0.313h0.015v0.015h-0.015zM0.380 0.313h0.015v0.015h-0.015zM0.593 0.313h0.015v0.015h-0.015zM0.247 0.327h0.015v0.015h-0.015zM0.380 0.327h0.015v0.015h-0.015zM0.580 0.327h0.029v0.015h-0.029zM0.820 0.327h0.015v0.015h-0.015zM0.273 0.340h0.015v0.015h-0.015zM0.393 0.340h0.015v0.015h-0.015zM0.580 0.340h0.015v0.015h-0.015zM0.807 0.340h0.029v0.015h-0.029zM0.393 0.353h0.029v0.015h-0.029zM0.567 0.353h0.015v0.015h-0.015zM0.780 0.353h0.029v0.015h-0.029zM0.407 0.367h0.015v0.015h-0.015zM0.553 0.367h0.029v0.015h-0.029zM0.753 0.367h0.029v0.015h-0.029zM0.407 0.380h0.029v0.015h-0.029zM0.553 0.380h0.015v0.015h-0.015zM0.740 0.380h0.015v0.015h-0.015zM0.420 0.393h0.015v0.015h-0.015zM0.540 0.393h0.015v0.015h-0.015zM0.727 0.393h0.015v0.015h-0.015zM0.420 0.407h0.029v0.015h-0.029zM0.487 0.407h0.069v0.015h-0.069zM0.433 0.420h0.042v0.015h-0.042zM0.487 0.420h0.055v0.015h-0.055zM0.140 0.433h0.042v0.015h-0.042zM0.447 0.433h0.082v0.015h-0.082zM0.180 0.447h0.055v0.015h-0.055zM0.447 0.447h0.069v0.015h-0.069zM0.247 0.460h0.029v0.015h-0.029zM0.460 0.460h0.042v0.015h-0.042zM0.273 0.473h0.015v0.015h-0.015zM0.460 0.473h0.042v0.015h-0.042zM0.580 0.473h0.015v0.015h-0.015zM0.287 0.487h0.029v0.015h-0.029zM0.353 0.487h0.029v0.015h-0.029zM0.460 0.487h0.042v0.015h-0.042zM0.580 0.487h0.029v0.015h-0.029zM0.713 0.487h0.149v0.015h-0.149zM0.287 0.500h0.082v0.015h-0.082zM0.473 0.500h0.029v0.015h-0.029zM0.607 0.500h0.122v0.015h-0.122zM0.287 0.513h0.042v0.015h-0.042zM0.473 0.513h0.015v0.015h-0.015zM0.287 0.527h0.015v0.015h-0.015zM0.473 0.527h0.015v0.015h-0.015zM0.273 0.540h0.015v0.015h-0.015zM0.473 0.540h0.015v0.015h-0.015zM0.247 0.553h0.029v0.015h-0.029zM0.207 0.567h0.029v0.015h-0.029zM0.140 0.580h0.055v0.015h-0.055zM0.740 0.580h0.015v0.015h-0.015zM0.753 0.593h0.015v0.015h-0.015zM0.780 0.607h0.015v0.015h-0.015zM0.420 0.620h0.015v0.015h-0.015zM0.580 0.620h0.015v0.015h-0.015zM0.807 0.620h0.029v0.015h-0.029zM0.420 0.633h0.015v0.015h-0.015zM0.580 0.633h0.015v0.015h-0.015zM0.833 0.633h0.015v0.015h-0.015zM0.407 0.647h0.015v0.015h-0.015zM0.580 0.647h0.029v0.015h-0.029zM0.300 0.660h0.015v0.015h-0.015zM0.407 0.660h0.015v0.015h-0.015zM0.580 0.660h0.029v0.015h-0.029zM0.620 0.660h0.029v0.015h-0.029zM0.273 0.673h0.015v0.015h-0.015zM0.393 0.673h0.015v0.015h-0.015zM0.580 0.673h0.029v0.015h-0.029zM0.660 0.673h0.015v0.015h-0.015zM0.260 0.687h0.015v0.015h-0.015zM0.393 0.687h0.015v0.015h-0.015zM0.580 0.687h0.015v0.015h-0.015zM0.673 0.687h0.015v0.015h-0.015zM0.233 0.700h0.029v0.015h-0.029zM0.380 0.700h0.015v0.015h-0.015zM0.580 0.700h0.015v0.015h-0.015zM0.687 0.700h0.015v0.015h-0.015zM0.220 0.713h0.015v0.015h-0.015zM0.380 0.713h0.015v0.015h-0.015zM0.580 0.713h0.015v0.015h-0.015zM0.700 0.713h0.015v0.015h-0.015zM0.367 0.727h0.015v0.015h-0.015zM0.580 0.727h0.015v0.015h-0.015zM0.713 0.727h0.029v0.015h-0.029zM0.367 0.740h0.015v0.015h-0.015zM0.473 0.740h0.015v0.015h-0.015zM0.727 0.740h0.029v0.015h-0.029zM0.353 0.753h0.015v0.015h-0.015zM0.473 0.753h0.015v0.015h-0.015zM0.593 0.753h0.015v0.015h-0.015zM0.740 0.753h0.029v0.015h-0.029zM0.353 0.767h0.015v0.015h-0.015zM0.473 0.767h0.015v0.015h-0.015zM0.593 0.767h0.015v0.015h-0.015zM0.340 0.780h0.015v0.015h-0.015zM0.473 0.780h0.015v0.015h-0.015zM0.593 0.780h0.015v0.015h-0.015zM0.340 0.793h0.015v0.015h-0.015zM0.473 0.793h0.015v0.015h-0.015zM0.607 0.793h0.015v0.015h-0.015zM0.327 0.807h0.015v0.015h-0.015zM0.473 0.807h0.015v0.015h-0.015zM0.607 0.807h0.015v0.015h-0.015zM0.327 0.820h0.015v0.015h-0.015zM0.473 0.820h0.015v0.015h-0.015zM0.473 0.833h0.015v0.015h-0.015zM0.620 0.833h0.015v0.015h-0.015zM0.473 0.847h0.015v0.015h-0.015z"/>
<path fill="rgb(172,172,172)" d="M0.460 0.140h0.015v0.015h-0.015zM0.460 0.153h0.015v0.015h-0.015zM0.607 0.153h0.015v0.015h-0.015zM0.460 0.167h0.015v0.015h-0.015zM0.607 0.167h0.015v0.015h-0.015zM0.313 0.180h0.015v0.015h-0.015zM0.460 0.180h0.015v0.015h-0.015zM0.593 0.180h0.015v0.015h-0.015zM0.313 0.193h0.015v0.015h-0.015zM0.460 0.193h0.015v0.015h-0.015zM0.593 0.193h0.015v0.015h-0.015zM0.327 0.207h0.015v0.015h-0.015zM0.460 0.207h0.015v0.015h-0.015zM0.593 0.207h0.015v0.015h-0.015zM0.327 0.220h0.015v0.015h-0.015zM0.460 0.220h0.015v0.015h-0.015zM0.593 0.220h0.015v0.015h-0.015zM0.727 0.220h0.029v0.015h-0.029zM0.340 0.233h0.015v0.015h-0.015zM0.593 0.233h0.015v0.015h-0.015zM0.727 0.233h0.015v0.015h-0.015zM0.353 0.247h0.015v0.015h-0.015zM0.447 0.247h0.015v0.015h-0.015zM0.713 0.247h0.015v0.015h-0.015zM0.353 0.260h0.015v0.015h-0.015zM0.687 0.260h0.029v0.015h-0.029zM0.367 0.273h0.015v0.015h-0.015zM0.673 0.273h0.029v0.015h-0.029zM0.207 0.287h0.015v0.015h-0.015zM0.380 0.287h0.015v0.015h-0.015zM0.660 0.287h0.015v0.015h-0.015zM0.220 0.300h0.015v0.015h-0.015zM0.380 0.300h0.029v0.015h-0.029zM0.633 0.300h0.029v0.015h-0.029zM0.233 0.313h0.029v0.015h-0.029zM0.393 0.313h0.015v0.015h-0.015zM0.607 0.313h0.042v0.015h-0.042zM0.260 0.327h0.015v0.015h-0.015zM0.393 0.327h0.029v0.015h-0.029zM0.607 0.327h0.015v0.015h-0.015zM0.287 0.340h0.015v0.015h-0.015zM0.407 0.340h0.015v0.015h-0.015zM0.593 0.340h0.029v0.015h-0.029zM0.420 0.353h0.015v0.015h-0.015zM0.580 0.353h0.029v0.015h-0.029zM0.807 0.353h0.029v0.015h-0.029zM0.420 0.367h0.015v0.015h-0.015zM0.580 0.367h0.015v0.015h-0.015zM0.780 0.367h0.015v0.015h-0.015zM0.433 0.380h0.015v0.015h-0.015zM0.567 0.380h0.015v0.015h-0.015zM0.753 0.380h0.015v0.015h-0.015zM0.433 0.393h0.029v0.015h-0.029zM0.487 0.393h0.015v0.015h-0.015zM0.553 0.393h0.029v0.015h-0.029zM0.447 0.407h0.042v0.015h-0.042zM0.553 0.407h0.015v0.015h-0.015zM0.140 0.420h0.029v0.015h-0.029zM0.473 0.420h0.015v0.015h-0.015zM0.540 0.420h0.015v0.015h-0.015zM0.180 0.433h0.055v0.015h-0.055zM0.527 0.433h0.029v0.015h-0.029zM0.233 0.447h0.042v0.015h-0.042zM0.513 0.447h0.042v0.015h-0.042zM0.273 0.460h0.029v0.015h-0.029zM0.500 0.460h0.069v0.015h-0.069zM0.287 0.473h0.042v0.015h-0.042zM0.367 0.473h0.015v0.015h-0.015zM0.500 0.473h0.082v0.015h-0.082zM0.313 0.487h0.042v0.015h-0.042zM0.500 0.487h0.082v0.015h-0.082zM0.500 0.500h0.109v0.015h-0.109zM0.727 0.500h0.135v0.015h-0.135zM0.487 0.513h0.029v0.015h-0.029zM0.580 0.513h0.149v0.015h-0.149zM0.273 0.527h0.015v0.015h-0.015zM0.487 0.527h0.015v0.015h-0.015zM0.260 0.540h0.015v0.015h-0.015zM0.207 0.553h0.042v0.015h-0.042zM0.140 0.567h0.069v0.015h-0.069zM0.740 0.593h0.015v0.015h-0.015zM0.420 0.607h0.015v0.015h-0.015zM0.580 0.607h0.015v0.015h-0.015zM0.753 0.607h0.029v0.015h-0.029zM0.780 0.620h0.029v0.015h-0.029zM0.407 0.633h0.015v0.015h-0.015zM0.567 0.633h0.015v0.015h-0.015zM0.807 0.633h0.029v0.015h-0.029zM0.393 0.647h0.015v0.015h-0.015zM0.567 0.647h0.015v0.015h-0.015zM0.273 0.660h0.029v0.015h-0.029zM0.393 0.660h0.015v0.015h-0.015zM0.567 0.660h0.015v0.015h-0.015zM0.260 0.673h0.015v0.015h-0.015zM0.380 0.673h0.015v0.015h-0.015zM0.567 0.673h0.015v0.015h-0.015zM0.620 0.673h0.042v0.015h-0.042zM0.233 0.687h0.029v0.015h-0.029zM0.380 0.687h0.015v0.015h-0.015zM0.567 0.687h0.015v0.015h-0.015zM0.660 0.687h0.015v0.015h-0.015zM0.220 0.700h0.015v0.015h-0.015zM0.367 0.700h0.015v0.015h-0.015zM0.567 0.700h0.015v0.015h-0.015zM0.673 0.700h0.015v0.015h-0.015zM0.207 0.713h0.015v0.015h-0.015zM0.367 0.713h0.015v0.015h-0.015zM0.567 0.713h0.015v0.015h-0.015zM0.687 0.713h0.015v0.015h-0.015zM0.700 0.727h0.015v0.015h-0.015zM0.353 0.740h0.015v0.015h-0.015zM0.580 0.740h0.015v0.015h-0.015zM0.713 0.740h0.015v0.015h-0.015zM0.340 0.753h0.015v0.015h-0.015zM0.580 0.753h0.015v0.015h-0.015zM0.727 0.753h0.015v0.015h-0.015zM0.340 0.767h0.015v0.015h-0.015zM0.580 0.767h0.015v0.015h-0.015zM0.740 0.767h0.015v0.015h-0.015zM0.327 0.780h0.015v0.015h-0.015zM0.460 0.780h0.015v0.015h-0.015zM0.327 0.793h0.015v0.015h-0.015zM0.460 0.793h0.015v0.015h-0.015zM0.593 0.793h0.015v0.015h-0.015zM0.313 0.807h0.015v0.015h-0.015zM0.460 0.807h0.015v0.015h-0.015zM0.593 0.807h0.015v0.015h-0.015zM0.460 0.820h0.015v0.015h-0.015zM0.607 0.820h0.015v0.015h-0.015zM0.460 0.833h0.015v0.015h-0.015zM0.607 0.833h0.015v0.015h-0.015zM0.460 0.847h0.015v0.015h-0.015z"/>
<path fill="rgb(190,190,190)" d="M0.473 0.140h0.015v0.015h-0.015zM0.473 0.153h0.015v0.015h-0.015zM0.620 0.153h0.015v0.015h-0.015zM0.473 0.167h0.015v0.015h-0.015zM0.620 0.167h0.015v0.015h-0.015zM0.327 0.180h0.015v0.015h-0.015zM0.473 0.180h0.015v0.015h-0.015zM0.607 0.180h0.015v0.015h-0.015zM0.327 0.193h0.015v0.015h-0.015zM0.473 0.193h0.015v0.015h-0.015zM0.607 0.193h0.015v0.015h-0.015zM0.340 0.207h0.015v0.015h-0.015zM0.473 0.207h0.015v0.015h-0.015zM0.607 0.207h0.015v0.015h-0.015zM0.340 0.220h0.029v0.015h-0.029zM0.607 0.220h0.015v0.015h-0.015zM0.353 0.233h0.015v0.015h-0.015zM0.460 0.233h0.015v0.015h-0.015zM0.740 0.233h0.015v0.015h-0.015zM0.367 0.247h0.015v0.015h-0.015zM0.460 0.247h0.015v0.015h-0.015zM0.607 0.247h0.015v0.015h-0.015zM0.727 0.247h0.015v0.015h-0.015zM0.367 0.260h0.015v0.015h-0.015zM0.713 0.260h0.015v0.015h-0.015zM0.207 0.273h0.015v0.015h-0.015zM0.380 0.273h0.015v0.015h-0.015zM0.700 0.273h0.015v0.015h-0.015zM0.220 0.287h0.015v0.015h-0.015zM0.393 0.287h0.015v0.015h-0.015zM0.673 0.287h0.029v0.015h-0.029zM0.233 0.300h0.029v0.015h-0.029zM0.407 0.300h0.015v0.015h-0.015zM0.660 0.300h0.029v0.015h-0.029zM0.260 0.313h0.015v0.015h-0.015zM0.407 0.313h0.029v0.015h-0.029zM0.647 0.313h0.015v0.015h-0.015zM0.273 0.327h0.015v0.015h-0.015zM0.420 0.327h0.015v0.015h-0.015zM0.620 0.327h0.029v0.015h-0.029zM0.420 0.340h0.029v0.015h-0.029zM0.620 0.340h0.015v0.015h-0.015zM0.433 0.353h0.015v0.015h-0.015zM0.607 0.353h0.015v0.015h-0.015zM0.833 0.353h0.015v0.015h-0.015zM0.433 0.367h0.029v0.015h-0.029zM0.593 0.367h0.029v0.015h-0.029zM0.793 0.367h0.042v0.015h-0.042zM0.447 0.380h0.015v0.015h-0.015zM0.580 0.380h0.029v0.015h-0.029zM0.767 0.380h0.029v0.015h-0.029zM0.460 0.393h0.029v0.015h-0.029zM0.580 0.393h0.015v0.015h-0.015zM0.740 0.393h0.015v0.015h-0.015zM0.140 0.407h0.029v0.015h-0.029zM0.567 0.407h0.015v0.015h-0.015zM0.167 0.420h0.055v0.015h-0.055zM0.553 0.420h0.029v0.015h-0.029zM0.233 0.433h0.029v0.015h-0.029zM0.553 0.433h0.015v0.015h-0.015zM0.273 0.447h0.029v0.015h-0.029zM0.553 0.447h0.029v0.015h-0.029zM0.300 0.460h0.029v0.015h-0.029zM0.567 0.460h0.029v0.015h-0.029zM0.327 0.473h0.042v0.015h-0.042zM0.273 0.513h0.015v0.015h-0.015zM0.513 0.513h0.069v0.015h-0.069zM0.727 0.513h0.135v0.015h-0.135zM0.260 0.527h0.015v0.015h-0.015zM0.500 0.527h0.242v0.015h-0.242zM0.220 0.540h0.042v0.015h-0.042zM0.487 0.540h0.015v0.015h-0.015zM0.633 0.540h0.082v0.015h-0.082zM0.153 0.553h0.055v0.015h-0.055zM0.727 0.580h0.015v0.015h-0.015zM0.727 0.593h0.015v0.015h-0.015zM0.567 0.607h0.015v0.015h-0.015zM0.740 0.607h0.015v0.015h-0.015zM0.407 0.620h0.015v0.015h-0.015zM0.567 0.620h0.015v0.015h-0.015zM0.753 0.620h0.029v0.015h-0.029zM0.393 0.633h0.015v0.015h-0.015zM0.553 0.633h0.015v0.015h-0.015zM0.780 0.633h0.029v0.015h-0.029zM0.287 0.647h0.042v0.015h-0.042zM0.380 0.647h0.015v0.015h-0.015zM0.553 0.647h0.015v0.015h-0.015zM0.807 0.647h0.029v0.015h-0.029zM0.260 0.660h0.015v0.015h-0.015zM0.380 0.660h0.015v0.015h-0.015zM0.553 0.660h0.015v0.015h-0.015zM0.233 0.673h0.029v0.015h-0.029zM0.367 0.673h0.015v0.015h-0.015zM0.553 0.673h0.015v0.015h-0.015zM0.207 0.687h0.029v0.015h-0.029zM0.367 0.687h0.015v0.015h-0.015zM0.553 0.687h0.015v0.015h-0.015zM0.647 0.687h0.015v0.015h-0.015zM0.193 0.700h0.029v0.015h-0.029zM0.660 0.700h0.015v0.015h-0.015zM0.353 0.713h0.015v0.015h-0.015zM0.673 0.713h0.015v0.015h-0.015zM0.353 0.727h0.015v0.015h-0.015zM0.567 0.727h0.015v0.015h-0.015zM0.687 0.727h0.015v0.015h-0.015zM0.340 0.740h0.015v0.015h-0.015zM0.460 0.740h0.015v0.015h-0.015zM0.567 0.740h0.015v0.015h-0.015zM0.700 0.740h0.015v0.015h-0.015zM0.460 0.753h0.015v0.015h-0.015zM0.567 0.753h0.015v0.015h-0.015zM0.713 0.753h0.015v0.015h-0.015zM0.327 0.767h0.015v0.015h-0.015zM0.460 0.767h0.015v0.015h-0.015zM0.727 0.767h0.015v0.015h-0.015zM0.313 0.780h0.015v0.015h-0.015zM0.580 0.780h0.015v0.015h-0.015zM0.313 0.793h0.015v0.015h-0.015zM0.580 0.793h0.015v0.015h-0.015zM0.300 0.807h0.015v0.015h-0.015zM0.447 0.807h0.015v0.015h-0.015zM0.580 0.807h0.015v0.015h-0.015zM0.447 0.820h0.015v0.015h-0.015zM0.593 0.820h0.015v0.015h-0.015zM0.447 0.833h0.015v0.015h-0.015zM0.593 0.833h0.015v0.015h-0.015zM0.447 0.847h0.015v0.015h-0.015zM0.593 0.847h0.015v0.015h-0.015z"/>
<path fill="rgb(208,208,208)" d="M0.633 0.153h0.015v0.015h-0.015zM0.327 0.167h0.015v0.015h-0.015zM0.340 0.180h0.015v0.015h-0.015zM0.620 0.180h0.015v0.015h-0.015zM0.340 0.193h0.015v0.015h-0.015zM0.620 0.193h0.015v0.015h-0.015zM0.353 0.207h0.015v0.015h-0.015zM0.473 0.220h0.015v0.015h-0.015zM0.367 0.233h0.015v0.015h-0.015zM0.473 0.233h0.015v0.015h-0.015zM0.607 0.233h0.015v0.015h-0.015zM0.753 0.233h0.015v0.015h-0.015zM0.380 0.247h0.015v0.015h-0.015zM0.473 0.247h0.015v0.015h-0.015zM0.740 0.247h0.029v0.015h-0.029zM0.380 0.260h0.029v0.015h-0.029zM0.447 0.260h0.029v0.015h-0.029zM0.727 0.260h0.015v0.015h-0.015zM0.220 0.273h0.029v0.015h-0.029zM0.393 0.273h0.029v0.015h-0.029zM0.713 0.273h0.015v0.015h-0.015zM0.233 0.287h0.029v0.015h-0.029zM0.407 0.287h0.029v0.015h-0.029zM0.700 0.287h0.015v0.015h-0.015zM0.260 0.300h0.015v0.015h-0.015zM0.420 0.300h0.029v0.015h-0.029zM0.687 0.300h0.015v0.015h-0.015zM0.273 0.313h0.015v0.015h-0.015zM0.433 0.313h0.015v0.015h-0.015zM0.660 0.313h0.029v0.015h-0.029zM0.287 0.327h0.015v0.015h-0.015zM0.433 0.327h0.029v0.015h-0.029zM0.647 0.327h0.029v0.015h-0.029zM0.447 0.340h0.015v0.015h-0.015zM0.633 0.340h0.029v0.015h-0.029zM0.447 0.353h0.015v0.015h-0.015zM0.620 0.353h0.029v0.015h-0.029zM0.460 0.367h0.015v0.015h-0.015zM0.620 0.367h0.015v0.015h-0.015zM0.833 0.367h0.015v0.015h-0.015zM0.460 0.380h0.015v0.015h-0.015zM0.607 0.380h0.015v0.015h-0.015zM0.793 0.380h0.042v0.015h-0.042zM0.140 0.393h0.029v0.015h-0.029zM0.593 0.393h0.015v0.015h-0.015zM0.753 0.393h0.029v0.015h-0.029zM0.167 0.407h0.042v0.015h-0.042zM0.580 0.407h0.029v0.015h-0.029zM0.220 0.420h0.042v0.015h-0.042zM0.580 0.420h0.015v0.015h-0.015zM0.260 0.433h0.042v0.015h-0.042zM0.567 0.433h0.015v0.015h-0.015zM0.300 0.447h0.029v0.015h-0.029zM0.327 0.460h0.055v0.015h-0.055zM0.233 0.527h0.029v0.015h-0.029zM0.740 0.527h0.042v0.015h-0.042zM0.153 0.540h0.069v0.015h-0.069zM0.500 0.540h0.135v0.015h-0.135zM0.713 0.540h0.029v0.015h-0.029zM0.140 0.553h0.015v0.015h-0.015zM0.513 0.553h0.215v0.015h-0.215zM0.540 0.567h0.042v0.015h-0.042zM0.700 0.567h0.042v0.015h-0.042zM0.553 0.580h0.015v0.015h-0.015zM0.713 0.580h0.015v0.015h-0.015zM0.553 0.593h0.029v0.015h-0.029zM0.713 0.593h0.015v0.015h-0.015zM0.407 0.607h0.015v0.015h-0.015zM0.540 0.607h0.029v0.015h-0.029zM0.727 0.607h0.015v0.015h-0.015zM0.393 0.620h0.015v0.015h-0.015zM0.540 0.620h0.029v0.015h-0.029zM0.740 0.620h0.015v0.015h-0.015zM0.300 0.633h0.015v0.015h-0.015zM0.380 0.633h0.015v0.015h-0.015zM0.540 0.633h0.015v0.015h-0.015zM0.767 0.633h0.015v0.015h-0.015zM0.260 0.647h0.029v0.015h-0.029zM0.367 0.647h0.015v0.015h-0.015zM0.540 0.647h0.015v0.015h-0.015zM0.780 0.647h0.029v0.015h-0.029zM0.233 0.660h0.029v0.015h-0.029zM0.367 0.660h0.015v0.015h-0.015zM0.540 0.660h0.015v0.015h-0.015zM0.807 0.660h0.029v0.015h-0.029zM0.207 0.673h0.029v0.015h-0.029zM0.540 0.673h0.015v0.015h-0.015zM0.193 0.687h0.015v0.015h-0.015zM0.353 0.687h0.015v0.015h-0.015zM0.540 0.687h0.015v0.015h-0.015zM0.633 0.687h0.015v0.015h-0.015zM0.353 0.700h0.015v0.015h-0.015zM0.553 0.700h0.015v0.015h-0.015zM0.647 0.700h0.015v0.015h-0.015zM0.340 0.713h0.015v0.015h-0.015zM0.553 0.713h0.015v0.015h-0.015zM0.660 0.713h0.015v0.015h-0.015zM0.340 0.727h0.015v0.015h-0.015zM0.460 0.727h0.015v0.015h-0.015zM0.553 0.727h0.015v0.015h-0.015zM0.673 0.727h0.015v0.015h-0.015zM0.327 0.740h0.015v0.015h-0.015zM0.553 0.740h0.015v0.015h-0.015zM0.687 0.740h0.015v0.015h-0.015zM0.327 0.753h0.015v0.015h-0.015zM0.553 0.753h0.015v0.015h-0.015zM0.700 0.753h0.015v0.015h-0.015zM0.313 0.767h0.015v0.015h-0.015zM0.447 0.767h0.015v0.015h-0.015zM0.567 0.767h0.015v0.015h-0.015zM0.700 0.767h0.029v0.015h-0.029zM0.300 0.780h0.015v0.015h-0.015zM0.447 0.780h0.015v0.015h-0.015zM0.567 0.780h0.015v0.015h-0.015zM0.713 0.780h0.015v0.015h-0.015zM0.300 0.793h0.015v0.015h-0.015zM0.447 0.793h0.015v0.015h-0.015zM0.567 0.793h0.015v0.015h-0.015zM0.567 0.807h0.015v0.015h-0.015zM0.433 0.820h0.015v0.015h-0.015zM0.580 0.820h0.015v0.015h-0.015zM0.433 0.833h0.015v0.015h-0.015zM0.580 0.833h0.015v0.015h-0.015zM0.433 0.847h0.015v0.015h-0.015zM0.580 0.847h0.015v0.015h-0.015z"/>
<path fill="rgb(226,226,226)" d="M0.487 0.140h0.015v0.015h-0.015zM0.487 0.153h0.015v0.015h-0.015zM0.340 0.167h0.015v0.015h-0.015zM0.487 0.167h0.015v0.015h-0.015zM0.633 0.167h0.015v0.015h-0.015zM0.353 0.180h0.015v0.015h-0.015zM0.487 0.180h0.015v0.015h-0.015zM0.633 0.180h0.015v0.015h-0.015zM0.353 0.193h0.015v0.015h-0.015zM0.487 0.193h0.015v0.015h-0.015zM0.633 0.193h0.015v0.015h-0.015zM0.367 0.207h0.015v0.015h-0.015zM0.487 0.207h0.015v0.015h-0.015zM0.620 0.207h0.015v0.015h-0.015zM0.367 0.220h0.015v0.015h-0.015zM0.487 0.220h0.015v0.015h-0.015zM0.620 0.220h0.015v0.015h-0.015zM0.380 0.233h0.015v0.015h-0.015zM0.487 0.233h0.015v0.015h-0.015zM0.220 0.247h0.015v0.015h-0.015zM0.393 0.247h0.015v0.015h-0.015zM0.767 0.247h0.015v0.015h-0.015zM0.220 0.260h0.029v0.015h-0.029zM0.407 0.260h0.015v0.015h-0.015zM0.473 0.260h0.015v0.015h-0.015zM0.740 0.260h0.029v0.015h-0.029zM0.247 0.273h0.015v0.015h-0.015zM0.420 0.273h0.055v0.015h-0.055zM0.727 0.273h0.029v0.015h-0.029zM0.260 0.287h0.015v0.015h-0.015zM0.433 0.287h0.042v0.015h-0.042zM0.713 0.287h0.029v0.015h-0.029zM0.273 0.300h0.015v0.015h-0.015zM0.447 0.300h0.029v0.015h-0.029zM0.700 0.300h0.015v0.015h-0.015zM0.447 0.313h0.029v0.015h-0.029zM0.687 0.313h0.015v0.015h-0.015zM0.460 0.327h0.015v0.015h-0.015zM0.673 0.327h0.015v0.015h-0.015zM0.460 0.340h0.015v0.015h-0.015zM0.660 0.340h0.015v0.015h-0.015zM0.460 0.353h0.015v0.015h-0.015zM0.647 0.353h0.029v0.015h-0.029zM0.473 0.367h0.015v0.015h-0.015zM0.633 0.367h0.029v0.015h-0.029zM0.153 0.380h0.015v0.015h-0.015zM0.473 0.380h0.015v0.015h-0.015zM0.620 0.380h0.029v0.015h-0.029zM0.833 0.380h0.015v0.015h-0.015zM0.167 0.393h0.042v0.015h-0.042zM0.607 0.393h0.029v0.015h-0.029zM0.780 0.393h0.042v0.015h-0.042zM0.207 0.407h0.042v0.015h-0.042zM0.607 0.407h0.015v0.015h-0.015zM0.260 0.420h0.042v0.015h-0.042zM0.593 0.420h0.015v0.015h-0.015zM0.300 0.433h0.029v0.015h-0.029zM0.580 0.433h0.015v0.015h-0.015zM0.327 0.447h0.029v0.015h-0.029zM0.580 0.447h0.015v0.015h-0.015zM0.260 0.513h0.015v0.015h-0.015zM0.167 0.527h0.069v0.015h-0.069zM0.780 0.527h0.082v0.015h-0.082zM0.140 0.540h0.015v0.015h-0.015zM0.740 0.540h0.015v0.015h-0.015zM0.487 0.553h0.029v0.015h-0.029zM0.727 0.553h0.015v0.015h-0.015zM0.500 0.567h0.042v0.015h-0.042zM0.580 0.567h0.122v0.015h-0.122zM0.513 0.580h0.042v0.015h-0.042zM0.567 0.580h0.029v0.015h-0.029zM0.673 0.580h0.042v0.015h-0.042zM0.513 0.593h0.042v0.015h-0.042zM0.580 0.593h0.015v0.015h-0.015zM0.700 0.593h0.015v0.015h-0.015zM0.380 0.607h0.029v0.015h-0.029zM0.527 0.607h0.015v0.015h-0.015zM0.713 0.607h0.015v0.015h-0.015zM0.367 0.620h0.029v0.015h-0.029zM0.527 0.620h0.015v0.015h-0.015zM0.727 0.620h0.015v0.015h-0.015zM0.273 0.633h0.029v0.015h-0.029zM0.313 0.633h0.069v0.015h-0.069zM0.527 0.633h0.015v0.015h-0.015zM0.740 0.633h0.029v0.015h-0.029zM0.233 0.647h0.029v0.015h-0.029zM0.327 0.647h0.042v0.015h-0.042zM0.527 0.647h0.015v0.015h-0.015zM0.767 0.647h0.015v0.015h-0.015zM0.207 0.660h0.029v0.015h-0.029zM0.353 0.660h0.015v0.015h-0.015zM0.527 0.660h0.015v0.015h-0.015zM0.780 0.660h0.029v0.015h-0.029zM0.193 0.673h0.015v0.015h-0.015zM0.353 0.673h0.015v0.015h-0.015zM0.527 0.673h0.015v0.015h-0.015zM0.807 0.673h0.015v0.015h-0.015zM0.180 0.687h0.015v0.015h-0.015zM0.340 0.687h0.015v0.015h-0.015zM0.527 0.687h0.015v0.015h-0.015zM0.340 0.700h0.015v0.015h-0.015zM0.540 0.700h0.015v0.015h-0.015zM0.540 0.713h0.015v0.015h-0.015zM0.647 0.713h0.015v0.015h-0.015zM0.327 0.727h0.015v0.015h-0.015zM0.540 0.727h0.015v0.015h-0.015zM0.660 0.727h0.015v0.015h-0.015zM0.313 0.740h0.015v0.015h-0.015zM0.447 0.740h0.015v0.015h-0.015zM0.540 0.740h0.015v0.015h-0.015zM0.673 0.740h0.015v0.015h-0.015zM0.313 0.753h0.015v0.015h-0.015zM0.447 0.753h0.015v0.015h-0.015zM0.687 0.753h0.015v0.015h-0.015zM0.300 0.767h0.015v0.015h-0.015zM0.553 0.767h0.015v0.015h-0.015zM0.687 0.767h0.015v0.015h-0.015zM0.287 0.780h0.015v0.015h-0.015zM0.433 0.780h0.015v0.015h-0.015zM0.553 0.780h0.015v0.015h-0.015zM0.700 0.780h0.015v0.015h-0.015zM0.287 0.793h0.015v0.015h-0.015zM0.433 0.793h0.015v0.015h-0.015zM0.553 0.793h0.015v0.015h-0.015zM0.433 0.807h0.015v0.015h-0.015zM0.567 0.820h0.015v0.015h-0.015zM0.420 0.833h0.015v0.015h-0.015zM0.567 0.833h0.015v0.015h-0.015zM0.420 0.847h0.015v0.015h-0.015zM0.567 0.847h0.015v0.015h-0.015z"/>
<path fill="rgb(244,244,244)" d="M0.500 0.140h0.015v0.015h-0.015zM0.353 0.153h0.015v0.015h-0.015zM0.500 0.153h0.015v0.015h-0.015zM0.353 0.167h0.029v0.015h-0.029zM0.500 0.167h0.015v0.015h-0.015zM0.647 0.167h0.015v0.015h-0.015zM0.367 0.180h0.015v0.015h-0.015zM0.500 0.180h0.015v0.015h-0.015zM0.647 0.180h0.015v0.015h-0.015zM0.367 0.193h0.015v0.015h-0.015zM0.500 0.193h0.015v0.015h-0.015zM0.380 0.207h0.015v0.015h-0.015zM0.500 0.207h0.015v0.015h-0.015zM0.633 0.207h0.015v0.015h-0.015zM0.380 0.220h0.015v0.015h-0.015zM0.500 0.220h0.015v0.015h-0.015zM0.393 0.233h0.015v0.015h-0.015zM0.500 0.233h0.015v0.015h-0.015zM0.620 0.233h0.015v0.015h-0.015zM0.233 0.247h0.015v0.015h-0.015zM0.407 0.247h0.015v0.015h-0.015zM0.487 0.247h0.015v0.015h-0.015zM0.247 0.260h0.015v0.015h-0.015zM0.420 0.260h0.029v0.015h-0.029zM0.487 0.260h0.015v0.015h-0.015zM0.767 0.260h0.015v0.015h-0.015zM0.260 0.273h0.015v0.015h-0.015zM0.473 0.273h0.029v0.015h-0.029zM0.753 0.273h0.015v0.015h-0.015zM0.273 0.287h0.015v0.015h-0.015zM0.473 0.287h0.015v0.015h-0.015zM0.740 0.287h0.015v0.015h-0.015zM0.287 0.300h0.015v0.015h-0.015zM0.473 0.300h0.015v0.015h-0.015zM0.713 0.300h0.029v0.015h-0.029zM0.287 0.313h0.015v0.015h-0.015zM0.473 0.313h0.015v0.015h-0.015zM0.700 0.313h0.029v0.015h-0.029zM0.300 0.327h0.015v0.015h-0.015zM0.473 0.327h0.015v0.015h-0.015zM0.687 0.327h0.029v0.015h-0.029zM0.473 0.340h0.015v0.015h-0.015zM0.673 0.340h0.029v0.015h-0.029zM0.473 0.353h0.015v0.015h-0.015zM0.673 0.353h0.015v0.015h-0.015zM0.153 0.367h0.015v0.015h-0.015zM0.660 0.367h0.015v0.015h-0.015zM0.167 0.380h0.042v0.015h-0.042zM0.647 0.380h0.015v0.015h-0.015zM0.207 0.393h0.042v0.015h-0.042zM0.633 0.393h0.029v0.015h-0.029zM0.820 0.393h0.042v0.015h-0.042zM0.247 0.407h0.055v0.015h-0.055zM0.620 0.407h0.015v0.015h-0.015zM0.740 0.407h0.082v0.015h-0.082zM0.300 0.420h0.029v0.015h-0.029zM0.607 0.420h0.015v0.015h-0.015zM0.327 0.433h0.029v0.015h-0.029zM0.593 0.433h0.015v0.015h-0.015zM0.353 0.447h0.015v0.015h-0.015zM0.193 0.513h0.069v0.015h-0.069zM0.140 0.527h0.029v0.015h-0.029zM0.753 0.540h0.109v0.015h-0.109zM0.740 0.553h0.015v0.015h-0.015zM0.487 0.567h0.015v0.015h-0.015zM0.487 0.580h0.029v0.015h-0.029zM0.593 0.580h0.082v0.015h-0.082zM0.380 0.593h0.042v0.015h-0.042zM0.500 0.593h0.015v0.015h-0.015zM0.660 0.593h0.042v0.015h-0.042zM0.353 0.607h0.029v0.015h-0.029zM0.500 0.607h0.029v0.015h-0.029zM0.687 0.607h0.029v0.015h-0.029zM0.273 0.620h0.095v0.015h-0.095zM0.500 0.620h0.029v0.015h-0.029zM0.713 0.620h0.015v0.015h-0.015zM0.247 0.633h0.029v0.015h-0.029zM0.513 0.633h0.015v0.015h-0.015zM0.727 0.633h0.015v0.015h-0.015zM0.207 0.647h0.029v0.015h-0.029zM0.513 0.647h0.015v0.015h-0.015zM0.740 0.647h0.029v0.015h-0.029zM0.180 0.660h0.029v0.015h-0.029zM0.340 0.660h0.015v0.015h-0.015zM0.513 0.660h0.015v0.015h-0.015zM0.767 0.660h0.015v0.015h-0.015zM0.180 0.673h0.015v0.015h-0.015zM0.340 0.673h0.015v0.015h-0.015zM0.513 0.673h0.015v0.015h-0.015zM0.780 0.673h0.029v0.015h-0.029zM0.513 0.687h0.015v0.015h-0.015zM0.620 0.687h0.015v0.015h-0.015zM0.793 0.687h0.029v0.015h-0.029zM0.327 0.700h0.015v0.015h-0.015zM0.527 0.700h0.015v0.015h-0.015zM0.633 0.700h0.015v0.015h-0.015zM0.327 0.713h0.015v0.015h-0.015zM0.527 0.713h0.015v0.015h-0.015zM0.313 0.727h0.015v0.015h-0.015zM0.447 0.727h0.015v0.015h-0.015zM0.527 0.727h0.015v0.015h-0.015zM0.647 0.727h0.015v0.015h-0.015zM0.300 0.740h0.015v0.015h-0.015zM0.660 0.740h0.015v0.015h-0.015zM0.287 0.753h0.029v0.015h-0.029zM0.433 0.753h0.015v0.015h-0.015zM0.540 0.753h0.015v0.015h-0.015zM0.673 0.753h0.015v0.015h-0.015zM0.287 0.767h0.015v0.015h-0.015zM0.433 0.767h0.015v0.015h-0.015zM0.540 0.767h0.015v0.015h-0.015zM0.673 0.767h0.015v0.015h-0.015zM0.273 0.780h0.015v0.015h-0.015zM0.540 0.780h0.015v0.015h-0.015zM0.687 0.780h0.015v0.015h-0.015zM0.420 0.793h0.015v0.015h-0.015zM0.700 0.793h0.015v0.015h-0.015zM0.420 0.807h0.015v0.015h-0.015zM0.553 0.807h0.015v0.015h-0.015zM0.420 0.820h0.015v0.015h-0.015zM0.553 0.820h0.015v0.015h-0.015zM0.407 0.833h0.015v0.015h-0.015zM0.553 0.833h0.015v0.015h-0.015zM0.407 0.847h0.015v0.015h-0.015zM0.553 0.847h0.015v0.015h-0.015z"/>
</g>
</g></g>
<rect x="522.8" y="106.7" width="12.8" height="57.5" fill="#242424"/>
<rect x="525.4" y="109.3" width="7.6" height="52.3" fill="url(#cbTeal)"/>
<rect x="522.8" y="191.6" width="12.8" height="55.4" fill="#242424"/>
<rect x="525.6999999999999" y="194.5" width="7.0" height="49.6" fill="url(#cbGray)"/>
<rect x="522.8" y="309.9" width="12.8" height="56.7" fill="#242424"/>
<rect x="525.4" y="312.5" width="7.6" height="51.5" fill="url(#cbRed)"/>
<rect x="522.8" y="392.3" width="12.8" height="56.4" fill="#242424"/>
<rect x="525.6999999999999" y="395.2" width="7.0" height="50.6" fill="url(#cbGray)"/>
<text x="544.2" y="114.3" font-size="25.5" font-weight="normal" text-anchor="start">1</text>
<text x="544.2" y="169.10000000000002" font-size="25.5" font-weight="normal" text-anchor="start" textLength="12.6" lengthAdjust="spacingAndGlyphs">0</text>
<text x="545.2" y="199.6" font-size="24" font-weight="normal" text-anchor="start" textLength="12" lengthAdjust="spacingAndGlyphs" font-style="italic">π</text>
<text x="544.3" y="251.3" font-size="24" font-weight="normal" text-anchor="start" textLength="21" lengthAdjust="spacingAndGlyphs" font-style="italic">-π</text>
<text transform="translate(586.8 176.3) rotate(-90)" font-size="25" textLength="80.6" lengthAdjust="spacingAndGlyphs">Density</text>
<text transform="translate(586.8 248.7) rotate(-90)" font-size="25" textLength="58.2" lengthAdjust="spacingAndGlyphs">Phase</text>
<text x="544.2" y="316.6" font-size="25.5" font-weight="normal" text-anchor="start">1</text>
<text x="544.2" y="371.3" font-size="25.5" font-weight="normal" text-anchor="start" textLength="12.6" lengthAdjust="spacingAndGlyphs">0</text>
<text x="545.2" y="399.59999999999997" font-size="24" font-weight="normal" text-anchor="start" textLength="12" lengthAdjust="spacingAndGlyphs" font-style="italic">π</text>
<text x="544.3" y="454.1" font-size="24" font-weight="normal" text-anchor="start" textLength="21" lengthAdjust="spacingAndGlyphs" font-style="italic">-π</text>
<text transform="translate(586.8 377.9) rotate(-90)" font-size="25" textLength="81.1" lengthAdjust="spacingAndGlyphs">Density</text>
<text transform="translate(586.8 449.8) rotate(-90)" font-size="25" textLength="60.0" lengthAdjust="spacingAndGlyphs">Phase</text>
<g transform="translate(103.7 67.8) rotate(-27)">
<clipPath id="ec0"><ellipse cx="0" cy="0" rx="45.8" ry="27"/></clipPath>
<ellipse cx="0" cy="0" rx="45.8" ry="27" fill="#30756f"/>
<g clip-path="url(#ec0)">
<ellipse cx="0" cy="0" rx="45.8" ry="27" fill="#30756f" filter="url(#bumpT)" opacity="0.7"/>
<ellipse cx="-18" cy="14" rx="34" ry="16" fill="#154240" opacity="0.4" filter="url(#ob2)"/>
<ellipse cx="12" cy="-8" rx="30" ry="12" fill="#4a9a94" opacity="0.35" filter="url(#ob2)"/>
<g filter="url(#ob08)" fill="#7fdcd5" opacity="0.5">
<ellipse cx="-15.8" cy="5.1" rx="2.1" ry="1.8" transform="rotate(10 -15.8 5.1)" opacity="0.87"/>
<ellipse cx="-18.4" cy="2.7" rx="4.1" ry="2.0" transform="rotate(-60 -18.4 2.7)" opacity="0.81"/>
<ellipse cx="-13.7" cy="1.4" rx="2.5" ry="2.4" transform="rotate(-60 -13.7 1.4)" opacity="0.67"/>
<ellipse cx="-14.7" cy="1.7" rx="4.3" ry="1.6" transform="rotate(80 -14.7 1.7)" opacity="0.87"/>
<ellipse cx="-15.3" cy="5.5" rx="3.0" ry="1.5" transform="rotate(30 -15.3 5.5)" opacity="0.89"/>
<ellipse cx="-8.8" cy="2.9" rx="2.8" ry="2.1" transform="rotate(10 -8.8 2.9)" opacity="0.93"/>
<ellipse cx="-8.2" cy="3.7" rx="4.2" ry="1.7" transform="rotate(55 -8.2 3.7)" opacity="0.81"/>
<ellipse cx="-9.6" cy="1.3" rx="3.9" ry="1.4" transform="rotate(55 -9.6 1.3)" opacity="0.84"/>
<ellipse cx="-9.9" cy="3.3" rx="3.1" ry="1.5" transform="rotate(10 -9.9 3.3)" opacity="0.98"/>
<ellipse cx="-1.6" cy="4.4" rx="2.7" ry="2.1" transform="rotate(80 -1.6 4.4)" opacity="1.00"/>
<ellipse cx="-1.9" cy="4.5" rx="4.0" ry="2.3" transform="rotate(-35 -1.9 4.5)" opacity="0.92"/>
<ellipse cx="6.8" cy="2.4" rx="3.8" ry="1.7" transform="rotate(-60 6.8 2.4)" opacity="0.77"/>
<ellipse cx="6.1" cy="2.7" rx="2.6" ry="2.5" transform="rotate(10 6.1 2.7)" opacity="0.68"/>
<ellipse cx="11.8" cy="3.9" rx="3.6" ry="1.6" transform="rotate(30 11.8 3.9)" opacity="0.67"/>
<ellipse cx="12.3" cy="1.7" rx="2.2" ry="2.1" transform="rotate(-35 12.3 1.7)" opacity="0.77"/>
<ellipse cx="13.2" cy="2.4" rx="2.8" ry="1.7" transform="rotate(10 13.2 2.4)" opacity="0.90"/>
<ellipse cx="15.7" cy="1.1" rx="2.4" ry="2.6" transform="rotate(30 15.7 1.1)" opacity="0.90"/>
<ellipse cx="18.4" cy="1.9" rx="3.6" ry="2.5" transform="rotate(30 18.4 1.9)" opacity="0.81"/>
<ellipse cx="18.4" cy="3.0" rx="3.5" ry="1.8" transform="rotate(55 18.4 3.0)" opacity="0.70"/>
<ellipse cx="26.6" cy="2.7" rx="3.3" ry="1.7" transform="rotate(-60 26.6 2.7)" opacity="0.83"/>
<ellipse cx="24.3" cy="3.5" rx="2.1" ry="2.1" transform="rotate(80 24.3 3.5)" opacity="1.00"/>
<ellipse cx="24.5" cy="1.7" rx="2.3" ry="2.5" transform="rotate(80 24.5 1.7)" opacity="0.83"/>
<ellipse cx="22.9" cy="3.4" rx="3.9" ry="1.9" transform="rotate(80 22.9 3.4)" opacity="0.76"/>
</g>
<g filter="url(#ob05)" fill="#c4fbf6">
<ellipse cx="-15.8" cy="5.1" rx="1.2" ry="0.9" transform="rotate(10 -15.8 5.1)" opacity="0.87"/>
<ellipse cx="-18.4" cy="2.7" rx="2.4" ry="1.0" transform="rotate(-60 -18.4 2.7)" opacity="0.81"/>
<ellipse cx="-13.7" cy="1.4" rx="1.5" ry="1.2" transform="rotate(-60 -13.7 1.4)" opacity="0.67"/>
<ellipse cx="-14.7" cy="1.7" rx="2.6" ry="0.8" transform="rotate(80 -14.7 1.7)" opacity="0.87"/>
<ellipse cx="-15.3" cy="5.5" rx="1.8" ry="0.7" transform="rotate(30 -15.3 5.5)" opacity="0.89"/>
<ellipse cx="-8.8" cy="2.9" rx="1.6" ry="1.1" transform="rotate(10 -8.8 2.9)" opacity="0.93"/>
<ellipse cx="-8.2" cy="3.7" rx="2.5" ry="0.8" transform="rotate(55 -8.2 3.7)" opacity="0.81"/>
<ellipse cx="-9.6" cy="1.3" rx="2.3" ry="0.7" transform="rotate(55 -9.6 1.3)" opacity="0.84"/>
<ellipse cx="-9.9" cy="3.3" rx="1.8" ry="0.8" transform="rotate(10 -9.9 3.3)" opacity="0.98"/>
<ellipse cx="-1.6" cy="4.4" rx="1.6" ry="1.1" transform="rotate(80 -1.6 4.4)" opacity="1.00"/>
<ellipse cx="-1.9" cy="4.5" rx="2.3" ry="1.1" transform="rotate(-35 -1.9 4.5)" opacity="0.92"/>
<ellipse cx="6.8" cy="2.4" rx="2.2" ry="0.8" transform="rotate(-60 6.8 2.4)" opacity="0.77"/>
<ellipse cx="6.1" cy="2.7" rx="1.5" ry="1.2" transform="rotate(10 6.1 2.7)" opacity="0.68"/>
<ellipse cx="11.8" cy="3.9" rx="2.1" ry="0.8" transform="rotate(30 11.8 3.9)" opacity="0.67"/>
<ellipse cx="12.3" cy="1.7" rx="1.3" ry="1.1" transform="rotate(-35 12.3 1.7)" opacity="0.77"/>
<ellipse cx="13.2" cy="2.4" rx="1.6" ry="0.9" transform="rotate(10 13.2 2.4)" opacity="0.90"/>
<ellipse cx="15.7" cy="1.1" rx="1.4" ry="1.3" transform="rotate(30 15.7 1.1)" opacity="0.90"/>
<ellipse cx="18.4" cy="1.9" rx="2.1" ry="1.2" transform="rotate(30 18.4 1.9)" opacity="0.81"/>
<ellipse cx="18.4" cy="3.0" rx="2.1" ry="0.9" transform="rotate(55 18.4 3.0)" opacity="0.70"/>
<ellipse cx="26.6" cy="2.7" rx="1.9" ry="0.9" transform="rotate(-60 26.6 2.7)" opacity="0.83"/>
<ellipse cx="24.3" cy="3.5" rx="1.3" ry="1.1" transform="rotate(80 24.3 3.5)" opacity="1.00"/>
<ellipse cx="24.5" cy="1.7" rx="1.4" ry="1.2" transform="rotate(80 24.5 1.7)" opacity="0.83"/>
<ellipse cx="22.9" cy="3.4" rx="2.3" ry="0.9" transform="rotate(80 22.9 3.4)" opacity="0.76"/>
</g>
<ellipse cx="0" cy="0" rx="45.8" ry="27" fill="url(#gEll)"/>
</g></g>
<g transform="translate(268.7 67.8) rotate(-27)">
<clipPath id="ec1"><ellipse cx="0" cy="0" rx="45.8" ry="27"/></clipPath>
<ellipse cx="0" cy="0" rx="45.8" ry="27" fill="#30756f"/>
<g clip-path="url(#ec1)">
<ellipse cx="0" cy="0" rx="45.8" ry="27" fill="#30756f" filter="url(#bumpT)" opacity="0.7"/>
<ellipse cx="-18" cy="14" rx="34" ry="16" fill="#154240" opacity="0.4" filter="url(#ob2)"/>
<ellipse cx="12" cy="-8" rx="30" ry="12" fill="#4a9a94" opacity="0.35" filter="url(#ob2)"/>
<g filter="url(#ob08)" fill="#7fdcd5" opacity="0.5">
<ellipse cx="-16.4" cy="2.2" rx="2.4" ry="2.7" transform="rotate(80 -16.4 2.2)" opacity="0.96"/>
<ellipse cx="-17.2" cy="2.4" rx="4.1" ry="2.5" transform="rotate(-60 -17.2 2.4)" opacity="0.91"/>
<ellipse cx="-14.3" cy="4.9" rx="3.1" ry="1.6" transform="rotate(-35 -14.3 4.9)" opacity="0.99"/>
<ellipse cx="-16.9" cy="2.3" rx="3.7" ry="2.2" transform="rotate(-60 -16.9 2.3)" opacity="0.91"/>
<ellipse cx="-19.1" cy="5.0" rx="4.0" ry="1.7" transform="rotate(10 -19.1 5.0)" opacity="0.74"/>
<ellipse cx="-8.1" cy="2.4" rx="2.1" ry="1.5" transform="rotate(-35 -8.1 2.4)" opacity="0.88"/>
<ellipse cx="-5.6" cy="0.8" rx="2.8" ry="2.3" transform="rotate(80 -5.6 0.8)" opacity="0.83"/>
<ellipse cx="-8.3" cy="3.1" rx="2.2" ry="2.0" transform="rotate(-60 -8.3 3.1)" opacity="0.87"/>
<ellipse cx="-8.5" cy="2.7" rx="3.2" ry="2.0" transform="rotate(-60 -8.5 2.7)" opacity="0.63"/>
<ellipse cx="-2.5" cy="4.4" rx="3.0" ry="2.1" transform="rotate(30 -2.5 4.4)" opacity="0.82"/>
<ellipse cx="0.3" cy="3.8" rx="2.8" ry="1.6" transform="rotate(-60 0.3 3.8)" opacity="0.89"/>
<ellipse cx="6.8" cy="3.6" rx="4.1" ry="2.6" transform="rotate(10 6.8 3.6)" opacity="0.88"/>
<ellipse cx="7.4" cy="3.0" rx="3.7" ry="1.5" transform="rotate(80 7.4 3.0)" opacity="0.77"/>
<ellipse cx="15.2" cy="3.9" rx="2.6" ry="2.0" transform="rotate(10 15.2 3.9)" opacity="0.78"/>
<ellipse cx="14.6" cy="3.4" rx="2.2" ry="2.3" transform="rotate(80 14.6 3.4)" opacity="0.68"/>
<ellipse cx="14.4" cy="1.8" rx="4.2" ry="1.9" transform="rotate(80 14.4 1.8)" opacity="0.75"/>
<ellipse cx="15.4" cy="3.3" rx="3.8" ry="1.7" transform="rotate(-35 15.4 3.3)" opacity="0.69"/>
<ellipse cx="19.0" cy="2.1" rx="2.6" ry="2.8" transform="rotate(80 19.0 2.1)" opacity="0.83"/>
<ellipse cx="18.8" cy="1.8" rx="2.6" ry="2.3" transform="rotate(-60 18.8 1.8)" opacity="0.93"/>
<ellipse cx="25.2" cy="3.5" rx="2.5" ry="2.5" transform="rotate(55 25.2 3.5)" opacity="0.99"/>
<ellipse cx="27.6" cy="3.8" rx="2.1" ry="2.2" transform="rotate(-35 27.6 3.8)" opacity="0.86"/>
<ellipse cx="25.6" cy="3.1" rx="2.5" ry="2.4" transform="rotate(-60 25.6 3.1)" opacity="0.62"/>
<ellipse cx="26.4" cy="3.3" rx="2.5" ry="2.0" transform="rotate(30 26.4 3.3)" opacity="0.71"/>
</g>
<g filter="url(#ob05)" fill="#c4fbf6">
<ellipse cx="-16.4" cy="2.2" rx="1.4" ry="1.3" transform="rotate(80 -16.4 2.2)" opacity="0.96"/>
<ellipse cx="-17.2" cy="2.4" rx="2.4" ry="1.2" transform="rotate(-60 -17.2 2.4)" opacity="0.91"/>
<ellipse cx="-14.3" cy="4.9" rx="1.8" ry="0.8" transform="rotate(-35 -14.3 4.9)" opacity="0.99"/>
<ellipse cx="-16.9" cy="2.3" rx="2.2" ry="1.1" transform="rotate(-60 -16.9 2.3)" opacity="0.91"/>
<ellipse cx="-19.1" cy="5.0" rx="2.4" ry="0.9" transform="rotate(10 -19.1 5.0)" opacity="0.74"/>
<ellipse cx="-8.1" cy="2.4" rx="1.2" ry="0.8" transform="rotate(-35 -8.1 2.4)" opacity="0.88"/>
<ellipse cx="-5.6" cy="0.8" rx="1.6" ry="1.1" transform="rotate(80 -5.6 0.8)" opacity="0.83"/>
<ellipse cx="-8.3" cy="3.1" rx="1.3" ry="1.0" transform="rotate(-60 -8.3 3.1)" opacity="0.87"/>
<ellipse cx="-8.5" cy="2.7" rx="1.9" ry="1.0" transform="rotate(-60 -8.5 2.7)" opacity="0.63"/>
<ellipse cx="-2.5" cy="4.4" rx="1.8" ry="1.1" transform="rotate(30 -2.5 4.4)" opacity="0.82"/>
<ellipse cx="0.3" cy="3.8" rx="1.7" ry="0.8" transform="rotate(-60 0.3 3.8)" opacity="0.89"/>
<ellipse cx="6.8" cy="3.6" rx="2.4" ry="1.3" transform="rotate(10 6.8 3.6)" opacity="0.88"/>
<ellipse cx="7.4" cy="3.0" rx="2.2" ry="0.8" transform="rotate(80 7.4 3.0)" opacity="0.77"/>
<ellipse cx="15.2" cy="3.9" rx="1.5" ry="1.0" transform="rotate(10 15.2 3.9)" opacity="0.78"/>
<ellipse cx="14.6" cy="3.4" rx="1.3" ry="1.2" transform="rotate(80 14.6 3.4)" opacity="0.68"/>
<ellipse cx="14.4" cy="1.8" rx="2.5" ry="0.9" transform="rotate(80 14.4 1.8)" opacity="0.75"/>
<ellipse cx="15.4" cy="3.3" rx="2.2" ry="0.9" transform="rotate(-35 15.4 3.3)" opacity="0.69"/>
<ellipse cx="19.0" cy="2.1" rx="1.5" ry="1.4" transform="rotate(80 19.0 2.1)" opacity="0.83"/>
<ellipse cx="18.8" cy="1.8" rx="1.5" ry="1.2" transform="rotate(-60 18.8 1.8)" opacity="0.93"/>
<ellipse cx="25.2" cy="3.5" rx="1.5" ry="1.2" transform="rotate(55 25.2 3.5)" opacity="0.99"/>
<ellipse cx="27.6" cy="3.8" rx="1.2" ry="1.1" transform="rotate(-35 27.6 3.8)" opacity="0.86"/>
<ellipse cx="25.6" cy="3.1" rx="1.4" ry="1.2" transform="rotate(-60 25.6 3.1)" opacity="0.62"/>
<ellipse cx="26.4" cy="3.3" rx="1.5" ry="1.0" transform="rotate(30 26.4 3.3)" opacity="0.71"/>
</g>
<ellipse cx="0" cy="0" rx="45.8" ry="27" fill="url(#gEll)"/>
</g></g>
<g fill="#141414" opacity="1"><path d="M400.3 29 L401.8 33 L401.8 49 L400.3 53 L398.8 49 L398.8 33Z"/><path d="M408.9 34 L410.4 38 L410.4 47 L408.9 51 L407.4 47 L407.4 38Z"/><path d="M422.2 24 L423.7 28 L423.7 40 L422.2 44 L420.7 40 L420.7 28Z"/><path d="M432.8 30 L434.3 34 L434.3 40 L432.8 44 L431.3 40 L431.3 34Z"/><path d="M438 23.5 L439.5 27.5 L439.5 39 L438 43 L436.5 39 L436.5 27.5Z"/><path d="M453.8 27 L455.3 31 L455.3 39 L453.8 43 L452.3 39 L452.3 31Z"/><path d="M449.4 34 L450.9 37.0 L450.9 41.0 L449.4 44 L447.9 41.0 L447.9 37.0Z"/><path d="M473.6 36 L475.1 40 L475.1 57 L473.6 61 L472.1 57 L472.1 40Z"/></g>
<clipPath id="a3c"><path d="M380.7 66.0C381.1 63.9 381.9 62.4 382.8 60.6C383.7 58.8 384.8 57.1 386.0 55.3C387.2 53.5 388.5 51.6 390.3 50.0C392.1 48.4 394.4 46.6 396.7 45.7C399.0 44.8 401.5 45.1 404.2 44.6C406.9 44.1 409.9 43.4 412.8 42.5C415.7 41.6 418.1 39.8 421.3 39.2C424.5 38.6 428.4 39.2 432.0 38.8C435.6 38.4 439.3 36.8 442.7 36.7C446.1 36.6 449.4 37.6 452.3 38.2C455.2 38.8 457.1 39.9 459.8 40.3C462.5 40.6 465.7 39.6 468.4 40.3C471.1 41.0 473.7 43.0 475.8 44.6C477.9 46.2 479.2 48.1 481.2 49.9C483.2 51.7 486.1 53.3 487.6 55.3C489.1 57.3 490.4 59.6 490.2 61.7C490.0 63.8 488.0 66.0 486.5 68.1C485.0 70.2 482.1 72.4 481.2 74.5C480.3 76.6 481.9 79.3 481.2 80.9C480.5 82.5 478.3 83.9 476.9 84.1C475.5 84.3 473.7 81.3 472.6 82.0C471.5 82.7 471.9 86.8 470.5 88.4C469.1 90.0 466.2 90.5 464.1 91.6C462.0 92.7 459.9 93.9 457.7 94.8C455.5 95.7 453.7 96.8 451.2 97.0C448.7 97.2 445.2 95.4 442.7 95.9C440.2 96.4 438.8 100.0 436.3 100.2C433.8 100.4 430.6 97.7 427.7 97.0C424.8 96.3 422.0 95.9 419.2 95.9C416.4 95.9 413.5 97.2 410.6 97.0C407.8 96.8 404.8 95.9 402.1 94.8C399.4 93.7 396.8 92.2 394.6 90.6C392.5 89.0 390.8 87.2 389.2 85.2C387.6 83.2 386.4 80.8 385.0 78.8C383.6 76.8 381.4 75.6 380.7 73.5C380.0 71.4 380.3 68.2 380.7 66.0Z"/></clipPath>
<path d="M380.7 66.0C381.1 63.9 381.9 62.4 382.8 60.6C383.7 58.8 384.8 57.1 386.0 55.3C387.2 53.5 388.5 51.6 390.3 50.0C392.1 48.4 394.4 46.6 396.7 45.7C399.0 44.8 401.5 45.1 404.2 44.6C406.9 44.1 409.9 43.4 412.8 42.5C415.7 41.6 418.1 39.8 421.3 39.2C424.5 38.6 428.4 39.2 432.0 38.8C435.6 38.4 439.3 36.8 442.7 36.7C446.1 36.6 449.4 37.6 452.3 38.2C455.2 38.8 457.1 39.9 459.8 40.3C462.5 40.6 465.7 39.6 468.4 40.3C471.1 41.0 473.7 43.0 475.8 44.6C477.9 46.2 479.2 48.1 481.2 49.9C483.2 51.7 486.1 53.3 487.6 55.3C489.1 57.3 490.4 59.6 490.2 61.7C490.0 63.8 488.0 66.0 486.5 68.1C485.0 70.2 482.1 72.4 481.2 74.5C480.3 76.6 481.9 79.3 481.2 80.9C480.5 82.5 478.3 83.9 476.9 84.1C475.5 84.3 473.7 81.3 472.6 82.0C471.5 82.7 471.9 86.8 470.5 88.4C469.1 90.0 466.2 90.5 464.1 91.6C462.0 92.7 459.9 93.9 457.7 94.8C455.5 95.7 453.7 96.8 451.2 97.0C448.7 97.2 445.2 95.4 442.7 95.9C440.2 96.4 438.8 100.0 436.3 100.2C433.8 100.4 430.6 97.7 427.7 97.0C424.8 96.3 422.0 95.9 419.2 95.9C416.4 95.9 413.5 97.2 410.6 97.0C407.8 96.8 404.8 95.9 402.1 94.8C399.4 93.7 396.8 92.2 394.6 90.6C392.5 89.0 390.8 87.2 389.2 85.2C387.6 83.2 386.4 80.8 385.0 78.8C383.6 76.8 381.4 75.6 380.7 73.5C380.0 71.4 380.3 68.2 380.7 66.0Z" fill="#35827c"/>
<ellipse cx="381.6" cy="65.3" rx="2.6" ry="1.9" fill="#2b716b"/><ellipse cx="383.8" cy="60.0" rx="2.5" ry="2.4" fill="#2b716b"/><ellipse cx="386.0" cy="54.7" rx="2.8" ry="1.9" fill="#2b716b"/><ellipse cx="389.3" cy="49.5" rx="2.2" ry="3.1" fill="#2b716b"/><ellipse cx="395.9" cy="45.2" rx="3.0" ry="1.9" fill="#2b716b"/><ellipse cx="413.1" cy="42.2" rx="2.6" ry="2.5" fill="#2b716b"/><ellipse cx="442.0" cy="35.8" rx="2.9" ry="2.5" fill="#2b716b"/><ellipse cx="453.2" cy="38.4" rx="2.6" ry="3.0" fill="#2b716b"/><ellipse cx="459.5" cy="41.1" rx="1.8" ry="2.9" fill="#2b716b"/><ellipse cx="468.8" cy="40.7" rx="2.9" ry="3.0" fill="#2b716b"/><ellipse cx="475.2" cy="43.9" rx="2.3" ry="2.5" fill="#2b716b"/><ellipse cx="482.0" cy="49.9" rx="2.6" ry="2.1" fill="#2b716b"/><ellipse cx="486.6" cy="55.0" rx="2.0" ry="2.4" fill="#2b716b"/><ellipse cx="490.9" cy="62.5" rx="1.8" ry="2.4" fill="#2b716b"/><ellipse cx="486.8" cy="69.0" rx="1.9" ry="2.9" fill="#2b716b"/><ellipse cx="480.2" cy="75.0" rx="2.1" ry="2.0" fill="#2b716b"/><ellipse cx="480.7" cy="80.7" rx="2.2" ry="2.4" fill="#2b716b"/><ellipse cx="476.5" cy="83.3" rx="1.7" ry="1.9" fill="#2b716b"/><ellipse cx="472.3" cy="82.6" rx="2.3" ry="2.8" fill="#2b716b"/><ellipse cx="463.1" cy="90.9" rx="2.1" ry="2.6" fill="#2b716b"/><ellipse cx="452.1" cy="96.0" rx="2.8" ry="2.1" fill="#2b716b"/><ellipse cx="437.2" cy="100.7" rx="3.0" ry="2.6" fill="#2b716b"/><ellipse cx="428.6" cy="96.9" rx="1.7" ry="2.6" fill="#2b716b"/><ellipse cx="419.1" cy="95.2" rx="1.8" ry="2.6" fill="#2b716b"/><ellipse cx="409.9" cy="96.9" rx="2.6" ry="2.8" fill="#2b716b"/><ellipse cx="401.9" cy="94.5" rx="1.9" ry="2.1" fill="#2b716b"/><ellipse cx="393.8" cy="91.1" rx="2.6" ry="2.7" fill="#2b716b"/><ellipse cx="388.9" cy="85.1" rx="1.7" ry="3.2" fill="#2b716b"/><ellipse cx="381.1" cy="72.9" rx="1.9" ry="2.5" fill="#2b716b"/>
<g clip-path="url(#a3c)">
<ellipse cx="386.0" cy="43.9" rx="5.0" ry="4.5" fill="url(#gLumpTop)"/><ellipse cx="395.9" cy="44.5" rx="9.6" ry="5.5" fill="url(#gLumpTop)"/><ellipse cx="399.0" cy="41.8" rx="7.7" ry="5.4" fill="url(#gLumpTop)"/><ellipse cx="408.8" cy="45.6" rx="9.3" ry="4.3" fill="url(#gLumpTop)"/><ellipse cx="419.4" cy="45.7" rx="8.9" ry="3.7" fill="url(#gLumpTop)"/><ellipse cx="429.8" cy="41.2" rx="6.8" ry="5.4" fill="url(#gLumpTop)"/><ellipse cx="438.4" cy="41.9" rx="6.5" ry="4.5" fill="url(#gLumpTop)"/><ellipse cx="446.9" cy="44.1" rx="9.7" ry="4.8" fill="url(#gLumpTop)"/><ellipse cx="455.4" cy="43.6" rx="6.8" ry="4.1" fill="url(#gLumpTop)"/><ellipse cx="461.3" cy="43.2" rx="9.2" ry="3.7" fill="url(#gLumpTop)"/><ellipse cx="466.5" cy="44.4" rx="6.4" ry="4.0" fill="url(#gLumpTop)"/><ellipse cx="475.5" cy="45.0" rx="6.4" ry="3.7" fill="url(#gLumpTop)"/><ellipse cx="489.6" cy="43.0" rx="6.4" ry="5.2" fill="url(#gLumpTop)"/><ellipse cx="383.3" cy="48.2" rx="9.8" ry="5.0" fill="url(#gLumpTop)"/><ellipse cx="394.6" cy="47.5" rx="9.1" ry="4.5" fill="url(#gLumpTop)"/><ellipse cx="403.8" cy="48.2" rx="8.9" ry="5.0" fill="url(#gLumpTop)"/><ellipse cx="408.9" cy="49.9" rx="8.9" ry="5.5" fill="url(#gLumpTop)"/><ellipse cx="421.8" cy="50.7" rx="5.7" ry="4.5" fill="url(#gLumpTop)"/><ellipse cx="428.5" cy="46.5" rx="7.3" ry="5.2" fill="url(#gLumpTop)"/><ellipse cx="438.8" cy="51.6" rx="5.5" ry="4.5" fill="url(#gLumpTop)"/><ellipse cx="447.1" cy="49.9" rx="6.6" ry="3.1" fill="url(#gLumpTop)"/><ellipse cx="456.2" cy="51.2" rx="8.3" ry="3.9" fill="url(#gLumpTop)"/><ellipse cx="464.0" cy="50.9" rx="8.6" ry="4.5" fill="url(#gLumpTop)"/><ellipse cx="468.6" cy="47.8" rx="6.8" ry="3.8" fill="url(#gLumpTop)"/><ellipse cx="478.8" cy="46.7" rx="8.6" ry="3.9" fill="url(#gLumpTop)"/><ellipse cx="484.5" cy="47.5" rx="6.9" ry="4.1" fill="url(#gLumpTop)"/><ellipse cx="386.3" cy="52.6" rx="6.1" ry="3.7" fill="url(#gLumpTop)"/><ellipse cx="390.0" cy="56.5" rx="5.5" ry="3.1" fill="url(#gLumpTop)"/><ellipse cx="401.6" cy="56.4" rx="9.1" ry="4.4" fill="url(#gLumpTop)"/><ellipse cx="408.4" cy="57.3" rx="8.7" ry="4.2" fill="url(#gLumpTop)"/><ellipse cx="418.9" cy="57.6" rx="10.0" ry="5.3" fill="url(#gLumpTop)"/><ellipse cx="424.1" cy="54.0" rx="7.0" ry="3.4" fill="url(#gLumpTop)"/><ellipse cx="437.7" cy="52.4" rx="9.4" ry="4.5" fill="url(#gLumpTop)"/><ellipse cx="445.1" cy="54.5" rx="9.7" ry="4.4" fill="url(#gLumpTop)"/><ellipse cx="456.0" cy="57.5" rx="8.5" ry="5.5" fill="url(#gLumpTop)"/><ellipse cx="461.3" cy="54.2" rx="9.2" ry="4.3" fill="url(#gLumpTop)"/><ellipse cx="468.5" cy="56.1" rx="7.4" ry="3.3" fill="url(#gLumpTop)"/><ellipse cx="481.3" cy="55.0" rx="9.9" ry="4.3" fill="url(#gLumpTop)"/><ellipse cx="490.7" cy="53.7" rx="6.1" ry="4.3" fill="url(#gLumpTop)"/><ellipse cx="384.1" cy="64.6" rx="6.1" ry="7.9" fill="url(#gLump)" transform="rotate(-3 384.1 64.6)"/><ellipse cx="387.1" cy="61.0" rx="7.3" ry="9.4" fill="url(#gLump)" transform="rotate(5 387.1 61.0)"/><ellipse cx="400.6" cy="59.1" rx="6.3" ry="7.6" fill="url(#gLump)" transform="rotate(-8 400.6 59.1)"/><ellipse cx="409.0" cy="59.0" rx="7.4" ry="10.0" fill="url(#gLump)" transform="rotate(3 409.0 59.0)"/><ellipse cx="420.9" cy="58.9" rx="7.5" ry="7.3" fill="url(#gLump)" transform="rotate(2 420.9 58.9)"/><ellipse cx="427.2" cy="65.9" rx="4.9" ry="13.6" fill="url(#gLump)" transform="rotate(4 427.2 65.9)"/><ellipse cx="434.6" cy="59.4" rx="4.4" ry="9.6" fill="url(#gLump)" transform="rotate(-4 434.6 59.4)"/><ellipse cx="442.6" cy="64.5" rx="5.0" ry="11.4" fill="url(#gLump)" transform="rotate(-11 442.6 64.5)"/><ellipse cx="449.5" cy="63.7" rx="7.1" ry="9.2" fill="url(#gLump)" transform="rotate(-11 449.5 63.7)"/><ellipse cx="459.1" cy="60.9" rx="5.0" ry="10.9" fill="url(#gLump)" transform="rotate(-5 459.1 60.9)"/><ellipse cx="471.2" cy="64.3" rx="6.6" ry="12.2" fill="url(#gLump)" transform="rotate(2 471.2 64.3)"/><ellipse cx="476.9" cy="64.7" rx="4.7" ry="13.0" fill="url(#gLump)" transform="rotate(-1 476.9 64.7)"/><ellipse cx="488.6" cy="62.0" rx="6.1" ry="9.4" fill="url(#gLump)" transform="rotate(2 488.6 62.0)"/><ellipse cx="383.9" cy="69.9" rx="5.9" ry="10.2" fill="url(#gLump)" transform="rotate(-1 383.9 69.9)"/><ellipse cx="389.9" cy="71.4" rx="6.3" ry="8.2" fill="url(#gLump)" transform="rotate(-8 389.9 71.4)"/><ellipse cx="402.2" cy="67.7" rx="6.7" ry="12.3" fill="url(#gLump)" transform="rotate(-7 402.2 67.7)"/><ellipse cx="409.5" cy="69.0" rx="7.0" ry="8.4" fill="url(#gLump)" transform="rotate(-9 409.5 69.0)"/><ellipse cx="413.5" cy="72.7" rx="4.3" ry="9.2" fill="url(#gLump)" transform="rotate(11 413.5 72.7)"/><ellipse cx="427.9" cy="72.9" rx="5.8" ry="11.5" fill="url(#gLump)" transform="rotate(-12 427.9 72.9)"/><ellipse cx="437.3" cy="69.6" rx="6.9" ry="9.9" fill="url(#gLump)" transform="rotate(10 437.3 69.6)"/><ellipse cx="439.6" cy="74.8" rx="3.9" ry="10.6" fill="url(#gLump)" transform="rotate(-0 439.6 74.8)"/><ellipse cx="456.3" cy="72.7" rx="7.4" ry="13.3" fill="url(#gLump)" transform="rotate(-2 456.3 72.7)"/><ellipse cx="458.4" cy="68.2" rx="6.3" ry="13.7" fill="url(#gLump)" transform="rotate(4 458.4 68.2)"/><ellipse cx="468.8" cy="71.8" rx="6.1" ry="8.8" fill="url(#gLump)" transform="rotate(5 468.8 71.8)"/><ellipse cx="476.4" cy="67.2" rx="3.8" ry="10.4" fill="url(#gLump)" transform="rotate(5 476.4 67.2)"/><ellipse cx="485.4" cy="70.2" rx="6.3" ry="8.8" fill="url(#gLump)" transform="rotate(1 485.4 70.2)"/><ellipse cx="382.8" cy="79.2" rx="4.3" ry="11.8" fill="url(#gLump)" transform="rotate(5 382.8 79.2)"/><ellipse cx="388.3" cy="82.5" rx="6.1" ry="13.1" fill="url(#gLump)" transform="rotate(7 388.3 82.5)"/><ellipse cx="399.6" cy="81.7" rx="4.8" ry="11.6" fill="url(#gLump)" transform="rotate(-10 399.6 81.7)"/><ellipse cx="407.2" cy="80.0" rx="7.0" ry="11.8" fill="url(#gLump)" transform="rotate(10 407.2 80.0)"/><ellipse cx="420.2" cy="83.8" rx="6.0" ry="11.3" fill="url(#gLump)" transform="rotate(-1 420.2 83.8)"/><ellipse cx="423.8" cy="82.4" rx="5.9" ry="8.1" fill="url(#gLump)" transform="rotate(-6 423.8 82.4)"/><ellipse cx="432.6" cy="81.8" rx="5.9" ry="8.4" fill="url(#gLump)" transform="rotate(5 432.6 81.8)"/><ellipse cx="444.1" cy="78.1" rx="5.3" ry="13.9" fill="url(#gLump)" transform="rotate(-9 444.1 78.1)"/><ellipse cx="450.3" cy="80.8" rx="6.9" ry="13.5" fill="url(#gLump)" transform="rotate(-2 450.3 80.8)"/><ellipse cx="463.4" cy="76.9" rx="5.0" ry="13.0" fill="url(#gLump)" transform="rotate(4 463.4 76.9)"/><ellipse cx="469.6" cy="80.8" rx="5.4" ry="10.8" fill="url(#gLump)" transform="rotate(9 469.6 80.8)"/><ellipse cx="482.6" cy="77.6" rx="6.5" ry="13.6" fill="url(#gLump)" transform="rotate(3 482.6 77.6)"/><ellipse cx="487.6" cy="79.0" rx="5.4" ry="11.1" fill="url(#gLump)" transform="rotate(3 487.6 79.0)"/><ellipse cx="378.9" cy="93.0" rx="4.6" ry="10.8" fill="url(#gLump)" transform="rotate(-7 378.9 93.0)"/><ellipse cx="391.9" cy="85.6" rx="4.8" ry="9.7" fill="url(#gLump)" transform="rotate(-4 391.9 85.6)"/><ellipse cx="399.5" cy="86.3" rx="5.5" ry="12.6" fill="url(#gLump)" transform="rotate(3 399.5 86.3)"/><ellipse cx="412.2" cy="92.6" rx="5.4" ry="10.3" fill="url(#gLump)" transform="rotate(6 412.2 92.6)"/><ellipse cx="420.2" cy="89.3" rx="6.2" ry="11.8" fill="url(#gLump)" transform="rotate(0 420.2 89.3)"/><ellipse cx="426.1" cy="88.2" rx="5.3" ry="10.3" fill="url(#gLump)" transform="rotate(7 426.1 88.2)"/><ellipse cx="432.1" cy="85.9" rx="7.2" ry="10.6" fill="url(#gLump)" transform="rotate(5 432.1 85.9)"/><ellipse cx="446.9" cy="90.9" rx="5.8" ry="13.7" fill="url(#gLump)" transform="rotate(3 446.9 90.9)"/><ellipse cx="452.0" cy="86.5" rx="4.1" ry="12.5" fill="url(#gLump)" transform="rotate(10 452.0 86.5)"/><ellipse cx="460.1" cy="89.2" rx="6.2" ry="11.2" fill="url(#gLump)" transform="rotate(-5 460.1 89.2)"/><ellipse cx="473.3" cy="89.4" rx="6.4" ry="11.8" fill="url(#gLump)" transform="rotate(-1 473.3 89.4)"/><ellipse cx="480.4" cy="86.5" rx="5.7" ry="11.6" fill="url(#gLump)" transform="rotate(3 480.4 86.5)"/><ellipse cx="485.9" cy="86.5" rx="3.9" ry="7.9" fill="url(#gLump)" transform="rotate(-8 485.9 86.5)"/><ellipse cx="381.9" cy="96.5" rx="6.3" ry="10.1" fill="url(#gLump)" transform="rotate(6 381.9 96.5)"/><ellipse cx="387.0" cy="94.8" rx="4.0" ry="10.6" fill="url(#gLump)" transform="rotate(2 387.0 94.8)"/><ellipse cx="400.3" cy="95.5" rx="5.0" ry="9.3" fill="url(#gLump)" transform="rotate(-9 400.3 95.5)"/><ellipse cx="405.9" cy="95.9" rx="5.8" ry="7.7" fill="url(#gLump)" transform="rotate(8 405.9 95.9)"/><ellipse cx="413.4" cy="93.0" rx="5.3" ry="9.3" fill="url(#gLump)" transform="rotate(0 413.4 93.0)"/><ellipse cx="427.5" cy="96.8" rx="6.6" ry="10.3" fill="url(#gLump)" transform="rotate(4 427.5 96.8)"/><ellipse cx="434.1" cy="93.0" rx="3.8" ry="8.3" fill="url(#gLump)" transform="rotate(-1 434.1 93.0)"/><ellipse cx="441.8" cy="96.5" rx="6.2" ry="13.4" fill="url(#gLump)" transform="rotate(-8 441.8 96.5)"/><ellipse cx="456.1" cy="92.0" rx="7.1" ry="13.9" fill="url(#gLump)" transform="rotate(-3 456.1 92.0)"/><ellipse cx="463.6" cy="96.0" rx="5.7" ry="13.0" fill="url(#gLump)" transform="rotate(11 463.6 96.0)"/><ellipse cx="468.4" cy="93.8" rx="7.2" ry="11.1" fill="url(#gLump)" transform="rotate(10 468.4 93.8)"/><ellipse cx="476.6" cy="98.8" rx="4.1" ry="8.0" fill="url(#gLump)" transform="rotate(-5 476.6 98.8)"/><ellipse cx="491.0" cy="95.1" rx="5.3" ry="9.0" fill="url(#gLump)" transform="rotate(-10 491.0 95.1)"/>
<g stroke="#123e3b" stroke-width="1.8" fill="none" opacity="0.5" filter="url(#ob05)" stroke-linecap="round"><path d="M387.8 62.9 q0.9 7.7 -0.6 15.4"/><path d="M396.7 70.4 q-1.6 9.6 0.2 19.3"/><path d="M402.1 65.7 q0.9 8.4 1.5 16.8"/><path d="M409.2 54.7 q0.5 10.0 0.1 20.0"/><path d="M417.0 54.9 q0.9 5.1 -1.2 10.3"/><path d="M420.5 68.7 q1.5 7.9 0.9 15.8"/><path d="M429.5 60.5 q1.9 5.7 1.1 11.3"/><path d="M437.3 63.2 q0.5 7.2 -0.2 14.5"/><path d="M441.2 56.0 q-1.4 8.3 -0.7 16.5"/><path d="M451.1 70.8 q0.0 12.1 0.8 24.2"/><path d="M454.7 65.2 q1.2 12.8 1.5 25.6"/><path d="M463.3 59.5 q-0.9 5.2 1.0 10.3"/><path d="M469.7 65.2 q-0.8 11.4 -1.1 22.8"/><path d="M477.9 64.8 q0.8 5.2 0.7 10.4"/></g>
<rect x="375" y="36" width="125" height="66" fill="url(#gBlobV)"/>
</g>
<circle cx="495.3" cy="73.2" r="1.2" fill="#35827c"/>
<circle cx="479.5" cy="83.5" r="1.6" fill="#35827c"/>
<g fill="#141414" opacity="1"><path d="M394.6 48 L396.20000000000005 52 L396.20000000000005 73 L394.6 77 L393.0 73 L393.0 52Z"/><path d="M413.4 45 L415.0 49 L415.0 61 L413.4 65 L411.79999999999995 61 L411.79999999999995 49Z"/><path d="M416 55 L417.6 59 L417.6 65 L416 69 L414.4 65 L414.4 59Z"/><path d="M428.7 54 L430.3 58 L430.3 96 L428.7 100 L427.09999999999997 96 L427.09999999999997 58Z"/><path d="M434.8 57 L436.40000000000003 61 L436.40000000000003 101 L434.8 105 L433.2 101 L433.2 61Z"/><path d="M450.1 55 L451.70000000000005 59 L451.70000000000005 93 L450.1 97 L448.5 93 L448.5 59Z"/><path d="M459.5 55 L461.1 59 L461.1 98 L459.5 102 L457.9 98 L457.9 59Z"/><path d="M470.6 46 L472.20000000000005 50 L472.20000000000005 91 L470.6 95 L469.0 91 L469.0 50Z"/><path d="M446.5 41 L448.1 44.0 L448.1 48.0 L446.5 51 L444.9 48.0 L444.9 44.0Z"/><path d="M434.8 42 L436.40000000000003 44.75 L436.40000000000003 48.25 L434.8 51 L433.2 48.25 L433.2 44.75Z"/><path d="M462 41 L463.6 44.5 L463.6 49.5 L462 53 L460.4 49.5 L460.4 44.5Z"/></g>
<path d="M146.5 251.7C147.5 253.1 148.6 254.4 149.2 256.0C149.8 257.5 150.0 259.3 150.1 261.1C150.2 262.9 150.3 264.8 149.6 266.8C148.8 268.8 146.3 271.1 145.5 273.1C144.7 275.1 145.3 276.8 144.7 278.8C144.1 280.7 143.1 282.7 142.1 284.7C141.0 286.8 140.0 288.9 138.6 290.9C137.2 292.9 135.9 295.3 133.9 297.0C131.8 298.8 128.8 300.0 126.5 301.4C124.1 302.8 121.9 304.4 119.6 305.6C117.3 306.8 114.9 307.7 112.6 308.8C110.3 310.0 108.1 311.7 105.8 312.5C103.5 313.3 101.1 313.3 98.9 313.8C96.6 314.3 94.4 314.9 92.1 315.5C89.8 316.1 87.2 317.1 85.0 317.4C82.7 317.7 80.9 317.2 78.6 317.3C76.3 317.5 73.1 318.6 71.2 318.2C69.2 317.9 68.1 316.2 66.9 315.1C65.6 313.9 64.6 312.6 63.6 311.3C62.6 310.1 61.7 308.8 60.7 307.5C59.6 306.2 58.3 305.1 57.3 303.8C56.3 302.4 55.0 301.1 54.7 299.4C54.3 297.6 55.0 295.5 55.2 293.5C55.4 291.6 55.0 289.6 55.9 287.6C56.8 285.6 59.4 283.3 60.7 281.3C62.1 279.2 62.7 277.2 64.0 275.3C65.3 273.3 66.8 271.2 68.7 269.5C70.6 267.7 73.2 266.3 75.3 264.7C77.3 263.1 79.0 261.4 80.9 259.8C82.9 258.3 85.0 257.1 87.1 255.5C89.1 253.8 90.9 251.6 93.1 250.1C95.2 248.6 97.7 247.5 100.1 246.3C102.5 245.2 105.1 243.7 107.5 243.1C109.9 242.6 112.2 242.8 114.4 242.9C116.6 243.0 118.3 243.6 120.6 243.5C122.8 243.4 125.7 242.1 127.8 242.1C129.9 242.2 131.3 243.3 133.2 243.8C135.1 244.2 137.4 244.2 139.1 244.9C140.8 245.6 141.9 246.9 143.2 248.1C144.4 249.2 145.5 250.4 146.5 251.7Z" fill="#fbf6ee" opacity="0.8" stroke="#f0e3cd" stroke-width="1.2" filter="url(#ob05)"/>
<path d="M138.7 256.7C139.7 258.1 142.2 258.1 142.8 259.5C143.3 260.9 141.7 263.6 141.9 265.1C142.1 266.7 144.3 267.5 143.8 268.9C143.3 270.2 140.4 271.5 139.2 273.1C138.0 274.7 136.9 276.9 136.5 278.4C136.0 280.0 136.9 280.7 136.5 282.3C136.2 283.9 135.8 286.5 134.4 288.2C133.0 289.9 129.7 290.8 128.2 292.6C126.6 294.5 126.5 297.6 124.9 299.2C123.3 300.8 121.2 301.4 118.6 302.2C116.0 303.0 111.5 303.2 109.3 303.8C107.1 304.5 106.7 305.4 105.3 306.1C104.0 306.8 103.5 307.3 101.3 308.2C99.1 309.1 94.9 310.6 92.3 311.5C89.8 312.3 87.9 313.5 86.2 313.5C84.5 313.6 83.9 312.1 82.1 311.9C80.3 311.8 77.1 313.1 75.3 312.4C73.5 311.8 71.8 309.1 71.0 308.0C70.3 306.8 71.5 306.5 71.0 305.6C70.5 304.6 69.0 302.8 68.1 302.2C67.3 301.6 66.9 302.6 66.0 301.8C65.2 301.0 63.5 299.1 63.0 297.5C62.4 295.9 63.0 294.3 62.7 292.4C62.5 290.6 60.5 288.5 61.4 286.4C62.4 284.3 66.7 281.3 68.4 279.9C70.1 278.4 70.7 279.1 71.5 277.5C72.4 276.0 72.2 272.4 73.5 270.5C74.7 268.7 77.1 267.9 79.3 266.6C81.4 265.2 84.8 263.9 86.2 262.4C87.6 260.9 86.0 258.5 87.6 257.5C89.1 256.5 93.3 257.6 95.4 256.6C97.6 255.5 98.6 252.5 100.5 251.3C102.5 250.2 105.2 250.1 107.0 249.7C108.9 249.2 109.7 248.9 111.6 248.9C113.4 248.9 116.3 249.9 118.2 249.5C120.0 249.1 121.1 246.3 122.8 246.5C124.4 246.7 126.3 250.2 128.0 250.9C129.8 251.6 131.7 250.5 133.1 250.6C134.5 250.6 135.4 250.2 136.4 251.3C137.3 252.3 137.6 255.4 138.7 256.7Z" fill="#fdfaf5" fill-opacity="0.4" stroke="#efe2cc" stroke-width="0.6" opacity="0.8"/>
<path d="M130.9 262.0C131.8 262.7 134.7 262.2 135.5 263.2C136.3 264.1 135.6 266.3 135.8 267.9C135.9 269.5 137.0 271.3 136.3 272.9C135.6 274.4 132.1 276.2 131.5 277.3C131.0 278.4 133.3 278.5 133.2 279.5C133.1 280.5 132.2 282.0 131.1 283.2C130.0 284.3 127.6 285.2 126.7 286.4C125.8 287.6 127.1 288.7 125.5 290.2C123.9 291.8 118.9 294.6 117.2 295.8C115.5 297.0 116.5 297.0 115.4 297.3C114.3 297.7 112.8 297.2 110.9 297.8C109.0 298.5 105.8 300.6 103.9 301.3C102.1 301.9 101.5 301.3 99.9 301.7C98.2 302.1 95.1 302.6 93.9 303.5C92.6 304.5 93.4 307.1 92.3 307.4C91.3 307.7 89.4 305.2 87.4 305.3C85.4 305.4 81.8 307.9 80.4 307.8C78.9 307.7 79.5 306.1 78.5 304.8C77.5 303.5 74.8 301.0 74.3 300.2C73.8 299.3 75.7 300.5 75.6 299.9C75.4 299.3 74.4 297.6 73.5 296.6C72.5 295.5 70.1 294.8 69.8 293.5C69.6 292.1 71.7 290.0 71.9 288.4C72.1 286.9 70.5 285.9 71.1 284.3C71.7 282.7 74.3 279.8 75.3 278.9C76.3 278.0 76.8 279.5 77.2 278.6C77.6 277.7 76.5 274.5 77.8 273.2C79.0 272.0 83.0 272.3 84.7 271.0C86.5 269.7 87.2 266.3 88.3 265.3C89.5 264.3 90.2 266.3 91.8 265.2C93.4 264.0 96.6 259.8 97.9 258.2C99.1 256.6 98.4 256.1 99.4 255.5C100.5 254.9 102.5 254.6 104.2 254.7C105.8 254.8 107.4 256.4 109.3 256.2C111.2 256.1 113.8 254.1 115.6 253.7C117.3 253.2 118.7 253.5 120.0 253.5C121.3 253.6 122.5 254.0 123.5 254.2C124.5 254.5 125.2 254.1 126.2 254.9C127.3 255.7 129.1 257.9 129.8 259.1C130.6 260.3 129.9 261.4 130.9 262.0Z" fill="#fdfaf5" fill-opacity="0.4" stroke="#efe2cc" stroke-width="0.6" opacity="0.8"/>
<path d="M146.5 251.7C147.5 253.1 148.6 254.4 149.2 256.0C149.8 257.5 150.0 259.3 150.1 261.1C150.2 262.9 150.3 264.8 149.6 266.8C148.8 268.8 146.3 271.1 145.5 273.1C144.7 275.1 145.3 276.8 144.7 278.8C144.1 280.7 143.1 282.7 142.1 284.7C141.0 286.8 140.0 288.9 138.6 290.9C137.2 292.9 135.9 295.3 133.9 297.0C131.8 298.8 128.8 300.0 126.5 301.4C124.1 302.8 121.9 304.4 119.6 305.6C117.3 306.8 114.9 307.7 112.6 308.8C110.3 310.0 108.1 311.7 105.8 312.5C103.5 313.3 101.1 313.3 98.9 313.8C96.6 314.3 94.4 314.9 92.1 315.5C89.8 316.1 87.2 317.1 85.0 317.4C82.7 317.7 80.9 317.2 78.6 317.3C76.3 317.5 73.1 318.6 71.2 318.2C69.2 317.9 68.1 316.2 66.9 315.1C65.6 313.9 64.6 312.6 63.6 311.3C62.6 310.1 61.7 308.8 60.7 307.5C59.6 306.2 58.3 305.1 57.3 303.8C56.3 302.4 55.0 301.1 54.7 299.4C54.3 297.6 55.0 295.5 55.2 293.5C55.4 291.6 55.0 289.6 55.9 287.6C56.8 285.6 59.4 283.3 60.7 281.3C62.1 279.2 62.7 277.2 64.0 275.3C65.3 273.3 66.8 271.2 68.7 269.5C70.6 267.7 73.2 266.3 75.3 264.7C77.3 263.1 79.0 261.4 80.9 259.8C82.9 258.3 85.0 257.1 87.1 255.5C89.1 253.8 90.9 251.6 93.1 250.1C95.2 248.6 97.7 247.5 100.1 246.3C102.5 245.2 105.1 243.7 107.5 243.1C109.9 242.6 112.2 242.8 114.4 242.9C116.6 243.0 118.3 243.6 120.6 243.5C122.8 243.4 125.7 242.1 127.8 242.1C129.9 242.2 131.3 243.3 133.2 243.8C135.1 244.2 137.4 244.2 139.1 244.9C140.8 245.6 141.9 246.9 143.2 248.1C144.4 249.2 145.5 250.4 146.5 251.7Z" fill="#000" filter="url(#web)" opacity="0.22"/>
<path d="M116.0 258.0C116.4 258.2 116.8 258.4 117.2 258.8C117.5 259.1 117.7 259.5 117.9 260.1C118.1 260.6 118.3 261.2 118.4 261.9C118.5 262.7 118.5 263.5 118.5 264.4C118.5 265.3 118.4 266.3 118.3 267.5C118.1 268.7 117.9 269.9 117.7 271.3C117.4 272.8 117.1 273.9 116.5 276.2C115.9 278.6 114.7 282.4 113.8 285.4C112.9 288.5 111.7 292.3 110.9 294.6C110.1 296.9 109.6 297.9 109.0 299.2C108.4 300.6 107.8 301.6 107.2 302.6C106.6 303.6 106.0 304.5 105.4 305.2C104.8 305.9 104.2 306.5 103.6 306.9C103.0 307.4 102.4 307.8 101.8 308.0C101.1 308.2 100.5 308.3 99.9 308.3C99.3 308.4 98.6 308.2 98.0 308.0C97.4 307.8 96.8 307.4 96.3 307.0C95.8 306.6 95.4 306.2 95.1 305.6C94.8 305.0 94.5 304.4 94.4 303.6C94.2 302.9 94.1 302.0 94.1 301.1C94.1 300.2 94.1 299.1 94.3 298.0C94.5 296.8 94.7 295.6 95.1 294.2C95.5 292.8 95.8 291.7 96.7 289.4C97.5 287.2 99.0 283.5 100.2 280.6C101.4 277.6 103.0 274.0 104.0 271.7C105.0 269.5 105.5 268.5 106.2 267.2C106.9 265.9 107.6 264.9 108.2 263.9C108.8 262.9 109.4 262.1 110.0 261.3C110.6 260.6 111.1 260.0 111.7 259.5C112.2 259.0 112.7 258.6 113.2 258.4C113.7 258.1 114.2 257.9 114.6 257.8C115.1 257.8 115.6 257.8 116.0 258.0Z" fill="url(#gLobe)"/>
<path d="M139.0 256.5C139.4 256.8 139.7 257.2 140.0 257.7C140.2 258.2 140.3 258.8 140.3 259.4C140.3 260.1 140.2 260.8 140.0 261.7C139.8 262.5 139.5 263.5 139.2 264.5C138.8 265.6 138.3 266.7 137.7 268.0C137.1 269.3 136.4 270.6 135.5 272.2C134.5 273.7 133.9 274.9 132.2 277.4C130.6 279.9 127.9 283.9 125.6 287.1C123.4 290.3 120.6 294.2 118.8 296.6C117.0 299.0 116.1 300.0 114.9 301.4C113.8 302.7 112.7 303.8 111.7 304.8C110.7 305.7 109.7 306.5 108.8 307.2C107.9 307.8 107.0 308.3 106.2 308.7C105.3 309.1 104.6 309.3 103.8 309.4C103.1 309.5 102.5 309.5 101.8 309.4C101.2 309.2 100.5 308.9 100.0 308.5C99.5 308.1 99.0 307.6 98.7 307.0C98.3 306.4 98.1 305.8 98.0 305.1C97.9 304.3 97.9 303.5 98.1 302.6C98.2 301.7 98.4 300.8 98.8 299.7C99.2 298.6 99.7 297.5 100.3 296.2C100.9 295.0 101.7 293.7 102.7 292.2C103.6 290.6 104.4 289.5 106.2 287.1C107.9 284.7 110.9 280.9 113.4 277.9C115.8 274.9 118.9 271.1 120.8 268.9C122.7 266.6 123.7 265.6 124.9 264.3C126.2 263.0 127.3 261.9 128.3 261.0C129.4 260.0 130.3 259.3 131.2 258.6C132.1 257.9 133.0 257.4 133.7 257.0C134.5 256.6 135.2 256.3 135.8 256.1C136.5 255.9 137.0 255.9 137.6 255.9C138.1 256.0 138.6 256.2 139.0 256.5Z" fill="url(#gLobe)"/>
<path d="M121.0 248.5C121.4 248.8 121.7 249.3 121.9 249.8C122.1 250.3 122.1 250.9 122.1 251.7C122.1 252.4 121.9 253.3 121.7 254.2C121.4 255.2 121.1 256.3 120.6 257.5C120.1 258.7 119.5 260.1 118.8 261.6C118.1 263.1 117.3 264.6 116.3 266.5C115.2 268.4 114.4 269.8 112.6 272.7C110.7 275.7 107.6 280.4 105.1 284.2C102.6 288.0 99.4 292.7 97.4 295.5C95.3 298.3 94.3 299.5 92.9 301.1C91.6 302.7 90.3 303.9 89.1 305.1C87.9 306.2 86.8 307.1 85.6 307.8C84.5 308.5 83.5 309.1 82.5 309.4C81.4 309.8 80.5 310.0 79.5 310.1C78.6 310.1 77.8 310.1 76.9 309.8C76.1 309.5 75.2 309.1 74.5 308.5C73.8 307.9 73.1 307.2 72.6 306.5C72.2 305.7 71.9 304.9 71.7 304.0C71.5 303.1 71.5 302.1 71.6 301.0C71.7 299.9 72.0 298.8 72.4 297.5C72.8 296.3 73.4 294.9 74.2 293.5C75.0 292.0 75.9 290.5 77.1 288.8C78.3 287.1 79.2 285.8 81.4 283.1C83.6 280.5 87.4 276.2 90.4 272.8C93.4 269.4 97.3 265.2 99.7 262.7C102.0 260.1 103.2 259.1 104.8 257.6C106.3 256.1 107.6 254.9 108.9 253.9C110.2 252.8 111.3 251.9 112.4 251.2C113.4 250.4 114.4 249.8 115.3 249.3C116.2 248.8 116.9 248.5 117.7 248.2C118.4 248.0 119.0 247.9 119.5 247.9C120.1 248.0 120.6 248.2 121.0 248.5Z" fill="url(#gLobe)"/>
<path d="M79.5 293.1L108.7 258.1" stroke="#e58aa2" stroke-width="2.5" stroke-linecap="round" opacity="0.55" filter="url(#ob1)"/>
<path d="M107.0 293.4L129.2 265.4" stroke="#e58aa2" stroke-width="2.5" stroke-linecap="round" opacity="0.55" filter="url(#ob1)"/>
<path d="M317.1 258.1C318.2 259.2 320.3 259.8 321.1 261.1C321.8 262.3 321.4 264.1 321.6 265.6C321.9 267.1 323.0 268.5 322.7 270.1C322.5 271.8 320.8 273.7 320.0 275.5C319.3 277.2 319.7 279.0 318.2 280.7C316.7 282.4 312.9 284.0 311.1 285.6C309.4 287.3 309.0 289.0 307.6 290.6C306.1 292.2 304.2 293.7 302.5 295.2C300.8 296.8 299.3 298.6 297.3 299.8C295.2 301.1 292.3 301.9 290.1 302.9C287.8 303.9 285.7 304.9 283.6 306.0C281.4 307.0 279.4 308.3 277.2 309.2C275.0 310.0 272.7 310.1 270.5 311.0C268.3 312.0 266.0 313.7 263.7 314.7C261.4 315.6 259.1 316.0 256.7 316.7C254.3 317.4 251.3 318.9 249.2 318.9C247.0 319.0 245.9 317.3 243.7 317.2C241.6 317.1 238.5 318.3 236.3 318.3C234.1 318.3 232.4 317.5 230.5 317.1C228.6 316.6 226.3 316.5 224.9 315.6C223.5 314.8 223.1 313.1 222.2 311.9C221.3 310.7 220.1 309.7 219.6 308.3C219.0 307.0 218.9 305.4 219.1 303.8C219.2 302.2 220.5 300.3 220.4 298.9C220.3 297.4 218.6 296.6 218.4 295.3C218.1 293.9 218.7 292.3 218.8 290.8C218.9 289.3 218.3 287.8 219.2 286.2C220.0 284.6 223.0 282.9 223.9 281.3C224.9 279.6 223.9 278.0 224.8 276.4C225.7 274.8 227.9 273.3 229.2 271.6C230.5 269.9 231.1 268.1 232.5 266.4C234.0 264.7 236.0 263.2 237.8 261.6C239.6 259.9 241.2 257.9 243.4 256.6C245.5 255.2 248.3 254.3 250.8 253.3C253.2 252.4 255.8 252.0 258.2 251.0C260.6 250.0 262.8 248.1 265.2 247.3C267.6 246.4 270.1 246.2 272.5 245.7C274.9 245.3 277.5 244.4 279.6 244.4C281.7 244.5 283.3 245.9 285.3 246.1C287.3 246.4 290.0 245.3 291.7 245.7C293.4 246.1 293.9 248.1 295.5 248.6C297.1 249.2 299.4 248.8 301.2 249.0C303.0 249.3 304.6 249.8 306.4 250.1C308.3 250.5 310.8 250.5 312.2 251.2C313.5 252.0 313.8 253.5 314.6 254.7C315.5 255.8 316.0 257.0 317.1 258.1Z" fill="#fbf6ee" opacity="0.8" stroke="#f0e3cd" stroke-width="1.2" filter="url(#ob05)"/>
<path d="M311.6 260.1C311.8 261.2 311.1 265.0 311.2 266.1C311.3 267.1 311.7 265.5 312.3 266.4C313.0 267.2 314.9 269.7 315.1 271.1C315.4 272.6 314.2 273.7 313.8 275.2C313.3 276.7 314.0 278.1 312.5 280.0C311.1 281.9 306.7 284.8 305.1 286.7C303.4 288.5 303.5 290.1 302.4 290.8C301.2 291.6 299.5 290.2 298.2 291.3C296.8 292.4 296.4 296.2 294.4 297.4C292.4 298.5 288.0 297.5 286.0 298.4C284.0 299.2 284.0 301.3 282.6 302.6C281.2 303.8 279.3 305.3 277.6 306.1C275.8 306.8 274.0 306.1 272.0 306.8C269.9 307.5 267.6 309.0 265.2 310.1C262.7 311.1 259.7 312.4 257.4 313.2C255.1 313.9 252.6 314.5 251.2 314.4C249.9 314.2 251.1 312.4 249.2 312.3C247.2 312.3 241.7 314.3 239.6 314.0C237.6 313.7 238.5 311.0 236.8 310.4C235.2 309.8 231.2 310.8 229.5 310.6C227.9 310.3 227.6 310.0 227.2 308.9C226.7 307.9 227.0 305.6 226.9 304.3C226.7 303.0 225.7 302.5 226.1 301.0C226.4 299.6 229.4 296.7 229.2 295.4C229.1 294.1 225.9 294.4 225.3 293.4C224.7 292.5 225.1 291.1 225.4 289.7C225.6 288.3 225.7 286.5 226.7 285.2C227.7 283.8 230.7 282.4 231.2 281.4C231.7 280.3 229.1 280.5 229.6 279.1C230.2 277.6 233.1 274.2 234.4 272.7C235.7 271.3 235.9 271.7 237.5 270.3C239.1 268.9 242.6 266.5 244.1 264.5C245.7 262.6 244.9 260.0 246.7 258.6C248.5 257.2 252.7 256.8 254.9 256.2C257.1 255.5 258.2 255.6 259.9 254.9C261.5 254.1 263.1 252.7 264.9 251.7C266.7 250.8 268.4 249.3 270.6 249.2C272.7 249.1 275.9 250.9 278.0 251.1C280.1 251.3 281.5 250.5 283.3 250.2C285.1 249.9 287.6 248.5 288.9 249.2C290.2 250.0 289.5 254.0 291.0 254.8C292.5 255.5 296.1 253.7 297.9 253.6C299.8 253.6 300.8 254.4 302.1 254.8C303.3 255.2 304.4 255.2 305.6 256.0C306.9 256.8 308.6 258.9 309.6 259.6C310.6 260.3 311.3 259.0 311.6 260.1Z" fill="#fdfaf5" fill-opacity="0.4" stroke="#efe2cc" stroke-width="0.6" opacity="0.8"/>
<path d="M301.3 266.3C302.0 267.2 303.9 266.0 304.7 266.9C305.4 267.8 305.4 270.4 305.6 271.8C305.8 273.2 306.4 274.5 305.7 275.4C305.0 276.3 301.9 276.4 301.5 277.2C301.0 278.0 303.6 278.9 302.7 280.1C301.8 281.4 297.3 283.8 296.0 284.9C294.7 286.0 295.7 285.3 294.7 286.6C293.6 287.9 290.9 291.6 289.6 292.5C288.4 293.5 288.6 291.9 287.3 292.3C286.0 292.7 283.1 294.2 281.9 294.9C280.7 295.6 281.5 296.1 280.0 296.7C278.6 297.3 275.1 298.0 273.4 298.6C271.6 299.1 271.1 299.2 269.6 300.3C268.1 301.3 265.7 303.8 264.5 304.8C263.2 305.9 263.9 306.4 262.0 306.6C260.2 306.8 254.9 306.8 253.3 306.3C251.8 305.8 254.2 303.7 252.9 303.7C251.5 303.7 247.1 305.9 245.2 306.3C243.4 306.8 243.0 306.9 242.1 306.5C241.1 306.2 240.6 305.3 239.5 304.4C238.5 303.5 236.7 302.0 235.8 300.9C234.9 299.8 234.2 298.8 234.1 297.8C234.1 296.9 234.9 295.8 235.4 295.1C235.9 294.5 237.7 294.5 237.2 293.7C236.7 293.0 232.8 292.0 232.5 290.7C232.1 289.4 234.6 287.2 235.0 285.8C235.3 284.5 234.1 283.8 234.8 282.7C235.4 281.6 238.4 279.7 239.1 279.2C239.8 278.7 238.5 280.7 239.2 279.8C239.8 278.9 242.2 275.2 243.0 273.5C243.8 271.8 243.4 270.3 244.0 269.6C244.7 268.9 245.4 270.4 246.8 269.2C248.2 268.0 251.0 263.5 252.5 262.4C254.0 261.3 254.5 262.8 255.8 262.7C257.0 262.6 258.1 262.5 260.0 261.8C262.0 261.1 265.9 258.8 267.7 258.3C269.4 257.7 269.1 259.0 270.5 258.4C271.9 257.8 274.5 255.3 275.9 254.9C277.3 254.5 277.3 255.6 278.9 255.9C280.5 256.3 284.0 256.3 285.5 257.1C286.9 257.8 286.3 260.1 287.5 260.2C288.7 260.4 291.4 257.8 292.5 258.0C293.5 258.2 292.7 261.1 293.8 261.5C294.9 261.9 298.0 260.2 299.1 260.3C300.2 260.4 300.0 260.9 300.3 261.9C300.7 262.9 300.5 265.5 301.3 266.3Z" fill="#fdfaf5" fill-opacity="0.4" stroke="#efe2cc" stroke-width="0.6" opacity="0.8"/>
<path d="M317.1 258.1C318.2 259.2 320.3 259.8 321.1 261.1C321.8 262.3 321.4 264.1 321.6 265.6C321.9 267.1 323.0 268.5 322.7 270.1C322.5 271.8 320.8 273.7 320.0 275.5C319.3 277.2 319.7 279.0 318.2 280.7C316.7 282.4 312.9 284.0 311.1 285.6C309.4 287.3 309.0 289.0 307.6 290.6C306.1 292.2 304.2 293.7 302.5 295.2C300.8 296.8 299.3 298.6 297.3 299.8C295.2 301.1 292.3 301.9 290.1 302.9C287.8 303.9 285.7 304.9 283.6 306.0C281.4 307.0 279.4 308.3 277.2 309.2C275.0 310.0 272.7 310.1 270.5 311.0C268.3 312.0 266.0 313.7 263.7 314.7C261.4 315.6 259.1 316.0 256.7 316.7C254.3 317.4 251.3 318.9 249.2 318.9C247.0 319.0 245.9 317.3 243.7 317.2C241.6 317.1 238.5 318.3 236.3 318.3C234.1 318.3 232.4 317.5 230.5 317.1C228.6 316.6 226.3 316.5 224.9 315.6C223.5 314.8 223.1 313.1 222.2 311.9C221.3 310.7 220.1 309.7 219.6 308.3C219.0 307.0 218.9 305.4 219.1 303.8C219.2 302.2 220.5 300.3 220.4 298.9C220.3 297.4 218.6 296.6 218.4 295.3C218.1 293.9 218.7 292.3 218.8 290.8C218.9 289.3 218.3 287.8 219.2 286.2C220.0 284.6 223.0 282.9 223.9 281.3C224.9 279.6 223.9 278.0 224.8 276.4C225.7 274.8 227.9 273.3 229.2 271.6C230.5 269.9 231.1 268.1 232.5 266.4C234.0 264.7 236.0 263.2 237.8 261.6C239.6 259.9 241.2 257.9 243.4 256.6C245.5 255.2 248.3 254.3 250.8 253.3C253.2 252.4 255.8 252.0 258.2 251.0C260.6 250.0 262.8 248.1 265.2 247.3C267.6 246.4 270.1 246.2 272.5 245.7C274.9 245.3 277.5 244.4 279.6 244.4C281.7 244.5 283.3 245.9 285.3 246.1C287.3 246.4 290.0 245.3 291.7 245.7C293.4 246.1 293.9 248.1 295.5 248.6C297.1 249.2 299.4 248.8 301.2 249.0C303.0 249.3 304.6 249.8 306.4 250.1C308.3 250.5 310.8 250.5 312.2 251.2C313.5 252.0 313.8 253.5 314.6 254.7C315.5 255.8 316.0 257.0 317.1 258.1Z" fill="#000" filter="url(#web)" opacity="0.4"/>
<g fill="#2a2a22" opacity="1"><path d="M242 255 L243.2 259 L243.2 280 L242 284 L240.8 280 L240.8 259Z"/></g>
<path d="M279.5 249.5C279.8 249.8 280.0 250.2 280.1 250.6C280.3 251.1 280.3 251.5 280.2 252.1C280.1 252.6 280.0 253.2 279.7 253.8C279.5 254.5 279.2 255.2 278.7 256.0C278.3 256.8 277.8 257.6 277.1 258.5C276.5 259.4 275.8 260.3 274.8 261.4C273.9 262.5 273.3 263.3 271.6 265.0C270.0 266.7 267.4 269.4 265.2 271.6C263.0 273.7 260.3 276.4 258.6 278.0C256.9 279.5 256.0 280.2 254.9 281.1C253.8 281.9 252.8 282.6 251.9 283.2C251.0 283.8 250.1 284.2 249.3 284.6C248.4 284.9 247.7 285.2 247.0 285.3C246.3 285.5 245.6 285.5 245.0 285.5C244.4 285.4 243.9 285.3 243.4 285.0C242.9 284.8 242.4 284.4 242.0 284.0C241.6 283.6 241.3 283.1 241.1 282.5C240.9 282.0 240.8 281.5 240.8 280.9C240.8 280.3 240.9 279.6 241.1 278.9C241.3 278.2 241.6 277.5 242.0 276.7C242.5 275.9 243.0 275.1 243.6 274.2C244.3 273.3 245.0 272.4 246.0 271.4C247.0 270.3 247.7 269.5 249.4 268.0C251.1 266.4 254.0 263.9 256.3 261.9C258.6 259.9 261.5 257.5 263.4 256.0C265.2 254.6 266.1 254.0 267.2 253.1C268.4 252.3 269.4 251.7 270.4 251.1C271.3 250.6 272.2 250.1 273.0 249.7C273.8 249.4 274.5 249.1 275.2 248.9C275.9 248.7 276.5 248.6 277.0 248.6C277.5 248.6 278.0 248.6 278.4 248.8C278.8 248.9 279.2 249.2 279.5 249.5Z" fill="url(#gLobe)"/>
<path d="M304.0 252.0C304.2 252.4 304.4 252.8 304.5 253.2C304.7 253.6 304.7 254.0 304.7 254.4C304.6 254.8 304.5 255.3 304.4 255.7C304.2 256.2 304.0 256.7 303.7 257.2C303.4 257.8 303.0 258.3 302.6 258.9C302.1 259.4 301.6 260.0 301.0 260.6C300.3 261.3 299.8 261.8 298.7 262.7C297.5 263.6 295.6 265.1 294.0 266.2C292.4 267.4 290.5 268.8 289.2 269.6C288.0 270.4 287.4 270.7 286.5 271.1C285.7 271.5 285.0 271.8 284.3 272.0C283.6 272.2 283.0 272.3 282.4 272.4C281.8 272.5 281.2 272.5 280.7 272.4C280.2 272.3 279.7 272.2 279.3 272.0C278.8 271.8 278.4 271.5 278.0 271.2C277.7 270.9 277.3 270.4 277.0 270.0C276.7 269.6 276.4 269.1 276.3 268.6C276.1 268.1 276.0 267.6 276.0 267.1C276.0 266.7 276.1 266.2 276.2 265.6C276.4 265.1 276.6 264.6 276.9 264.1C277.1 263.5 277.5 263.0 278.0 262.5C278.4 261.9 279.0 261.4 279.6 260.8C280.3 260.2 280.8 259.7 282.1 258.9C283.3 258.1 285.3 256.8 287.0 255.8C288.7 254.7 290.8 253.5 292.1 252.8C293.4 252.1 294.0 251.8 294.9 251.5C295.7 251.1 296.4 250.9 297.1 250.7C297.8 250.5 298.5 250.3 299.0 250.3C299.6 250.2 300.2 250.2 300.7 250.2C301.2 250.2 301.6 250.3 302.0 250.5C302.5 250.6 302.8 250.8 303.1 251.1C303.5 251.3 303.8 251.6 304.0 252.0Z" fill="url(#gLobe)"/>
<path d="M273.5 261.5C273.9 261.8 274.2 262.2 274.4 262.7C274.6 263.2 274.7 263.7 274.7 264.4C274.7 265.0 274.6 265.8 274.4 266.6C274.2 267.4 274.0 268.3 273.6 269.3C273.2 270.3 272.7 271.4 272.1 272.6C271.5 273.8 270.8 275.1 270.0 276.6C269.1 278.1 268.4 279.2 266.8 281.6C265.2 283.9 262.6 287.7 260.4 290.7C258.2 293.7 255.5 297.4 253.7 299.6C252.0 301.9 251.1 302.8 250.0 304.1C248.8 305.3 247.7 306.3 246.7 307.2C245.7 308.0 244.7 308.7 243.8 309.3C242.8 309.8 241.9 310.2 241.1 310.5C240.2 310.8 239.4 310.9 238.7 311.0C237.9 311.0 237.2 310.9 236.5 310.6C235.8 310.4 235.1 310.0 234.5 309.5C233.9 309.0 233.4 308.4 233.0 307.8C232.6 307.2 232.4 306.5 232.2 305.7C232.1 305.0 232.1 304.2 232.2 303.3C232.3 302.4 232.5 301.4 232.8 300.4C233.2 299.4 233.6 298.3 234.3 297.1C234.9 295.9 235.7 294.7 236.7 293.3C237.6 291.9 238.4 290.8 240.2 288.6C242.0 286.5 245.1 283.0 247.6 280.3C250.1 277.5 253.2 274.2 255.2 272.1C257.2 270.1 258.2 269.2 259.4 268.1C260.7 266.9 261.8 266.0 262.9 265.1C264.0 264.3 264.9 263.6 265.8 263.0C266.7 262.4 267.6 262.0 268.3 261.6C269.1 261.3 269.8 261.1 270.4 260.9C271.1 260.8 271.6 260.8 272.1 260.9C272.6 261.0 273.1 261.2 273.5 261.5Z" fill="url(#gLobe)"/>
<path d="M300.5 262.5C300.9 262.8 301.2 263.3 301.4 263.8C301.5 264.3 301.6 264.8 301.5 265.5C301.5 266.2 301.3 267.0 301.1 267.8C300.8 268.7 300.5 269.7 300.0 270.7C299.5 271.8 299.0 272.9 298.2 274.2C297.5 275.5 296.7 276.9 295.7 278.4C294.7 280.0 293.9 281.2 292.1 283.7C290.3 286.2 287.2 290.2 284.7 293.4C282.3 296.6 279.2 300.5 277.2 302.9C275.2 305.2 274.2 306.3 272.9 307.6C271.6 308.9 270.5 310.0 269.3 310.9C268.2 311.8 267.1 312.5 266.1 313.1C265.1 313.7 264.2 314.2 263.2 314.5C262.3 314.8 261.5 314.9 260.7 315.0C259.9 315.0 259.2 314.9 258.5 314.7C257.8 314.4 257.1 314.0 256.5 313.5C255.9 313.0 255.4 312.4 255.1 311.7C254.7 311.1 254.5 310.4 254.4 309.6C254.3 308.8 254.4 307.9 254.5 307.0C254.7 306.0 255.0 305.0 255.4 303.9C255.9 302.8 256.5 301.7 257.2 300.4C258.0 299.2 258.8 297.9 259.9 296.4C261.1 294.9 261.9 293.8 264.0 291.5C266.0 289.2 269.5 285.5 272.3 282.6C275.1 279.7 278.6 276.1 280.8 273.9C282.9 271.8 284.0 270.8 285.4 269.6C286.8 268.3 288.1 267.3 289.2 266.5C290.4 265.6 291.5 264.8 292.4 264.2C293.4 263.6 294.3 263.1 295.1 262.7C296.0 262.3 296.7 262.1 297.4 261.9C298.0 261.8 298.6 261.7 299.1 261.8C299.6 261.9 300.1 262.2 300.5 262.5Z" fill="url(#gLobe)"/>
<path d="M238.8 297.1L263.3 269.1" stroke="#e58aa2" stroke-width="2.5" stroke-linecap="round" opacity="0.55" filter="url(#ob1)"/>
<path d="M261.9 300.4L289.3 270.6" stroke="#e58aa2" stroke-width="2.5" stroke-linecap="round" opacity="0.55" filter="url(#ob1)"/>
<g fill="#2a2a22" opacity="0.9"><path d="M264.3 269 L265.6 273 L265.6 311 L264.3 315 L263.0 311 L263.0 273Z"/><path d="M287.7 259 L289.0 263 L289.0 299 L287.7 303 L286.4 299 L286.4 263Z"/></g>
<path d="M503.0 272.4C503.3 273.5 500.1 275.0 499.2 276.2C498.3 277.4 497.5 278.5 497.6 279.6C497.7 280.8 499.6 281.9 499.7 283.1C499.8 284.3 498.1 285.4 498.0 286.7C498.0 288.0 500.0 289.7 499.1 290.9C498.3 292.2 495.1 293.2 493.0 294.2C490.9 295.3 488.0 296.0 486.5 297.3C485.1 298.5 485.7 300.5 484.0 301.7C482.3 302.8 479.0 303.5 476.4 304.2C473.7 305.0 470.7 305.4 468.0 306.1C465.4 306.8 463.3 307.9 460.7 308.4C458.0 308.9 454.6 308.3 452.1 309.0C449.5 309.6 447.7 311.8 445.2 312.3C442.6 312.8 439.5 312.2 436.8 312.0C434.1 311.8 431.8 310.9 429.2 311.0C426.6 311.2 423.8 312.5 421.2 312.9C418.6 313.2 416.0 313.1 413.5 313.1C410.9 313.1 408.4 313.0 406.0 312.7C403.6 312.5 400.8 312.5 399.0 311.8C397.3 311.0 397.5 308.8 395.6 308.2C393.6 307.7 389.3 308.8 387.2 308.4C385.2 308.0 384.0 306.8 383.1 305.8C382.2 304.8 382.9 303.1 381.9 302.2C380.8 301.3 378.2 301.1 376.8 300.4C375.4 299.7 375.0 298.6 373.5 297.8C372.0 297.1 369.3 296.6 367.8 295.8C366.2 295.0 364.2 294.1 364.1 293.0C364.1 291.8 367.9 290.2 367.7 289.0C367.5 287.9 364.1 287.1 363.0 286.1C362.0 285.0 361.2 283.7 361.5 282.5C361.8 281.3 364.1 280.1 364.8 278.8C365.6 277.6 364.8 276.3 366.1 275.1C367.4 273.9 371.2 273.1 372.6 271.9C373.9 270.7 373.4 269.3 374.3 268.0C375.3 266.8 375.9 265.3 378.1 264.3C380.2 263.4 384.9 263.3 387.2 262.5C389.6 261.6 390.5 260.3 392.2 259.2C393.9 258.0 395.4 256.6 397.5 255.6C399.6 254.6 402.4 254.0 404.8 253.1C407.2 252.2 409.1 250.3 411.8 249.9C414.6 249.5 418.3 250.9 421.2 250.7C424.1 250.6 426.4 249.6 429.1 249.1C431.8 248.5 434.7 247.5 437.3 247.6C439.9 247.6 442.2 249.0 444.7 249.4C447.1 249.9 449.4 249.9 451.7 250.2C454.0 250.5 456.3 250.7 458.5 251.0C460.7 251.4 462.4 252.0 464.8 252.2C467.3 252.3 471.6 251.1 473.3 251.6C475.1 252.2 474.3 254.6 475.5 255.6C476.8 256.5 478.7 256.8 480.9 257.2C483.1 257.6 486.7 257.3 488.6 257.9C490.4 258.5 490.7 259.8 492.0 260.7C493.3 261.5 495.6 262.1 496.4 263.1C497.2 264.0 496.6 265.4 496.8 266.5C496.9 267.7 496.2 268.9 497.3 269.8C498.3 270.8 502.7 271.3 503.0 272.4Z" fill="#fbf6ee" opacity="0.72" stroke="#f0e3cd" stroke-width="1.2" filter="url(#ob05)"/>
<path d="M494.2 275.5C494.7 275.9 491.8 274.6 490.9 275.3C489.9 275.9 488.4 278.5 488.3 279.5C488.1 280.5 490.0 280.3 489.8 281.3C489.6 282.3 487.3 284.3 487.1 285.7C486.8 287.0 488.9 288.4 488.1 289.3C487.3 290.1 483.5 289.7 482.1 290.6C480.6 291.5 480.3 293.0 479.3 294.5C478.4 296.0 478.1 298.8 476.4 299.5C474.8 300.2 471.4 298.4 469.3 299.0C467.2 299.5 465.9 301.7 463.9 302.7C461.9 303.7 459.3 304.5 457.2 304.8C455.0 305.0 453.2 303.8 451.1 304.2C449.0 304.6 446.8 306.5 444.4 307.1C442.0 307.7 439.1 308.4 436.5 308.0C434.0 307.6 431.3 304.7 429.0 304.9C426.7 305.0 424.9 308.4 422.9 309.0C420.9 309.5 418.8 308.5 416.8 308.1C414.7 307.7 412.9 307.0 410.6 306.7C408.3 306.4 404.2 307.1 402.8 306.5C401.5 305.8 404.2 303.6 402.4 302.9C400.7 302.3 394.8 302.9 392.6 302.7C390.3 302.4 389.2 301.6 388.8 301.2C388.3 300.8 390.5 301.0 389.8 300.3C389.1 299.6 385.9 297.9 384.5 297.0C383.1 296.0 382.5 295.1 381.6 294.5C380.6 294.0 380.0 294.6 378.7 293.8C377.3 292.9 373.5 290.5 373.5 289.6C373.5 288.7 378.4 289.5 378.6 288.6C378.8 287.8 375.9 285.0 374.9 284.3C373.8 283.5 372.3 284.5 372.4 284.0C372.5 283.4 375.0 282.0 375.4 281.0C375.8 279.9 374.1 279.2 374.8 277.9C375.6 276.6 378.8 274.1 379.9 272.9C380.9 271.8 380.0 271.9 381.2 271.2C382.4 270.5 384.7 269.4 387.1 268.7C389.4 268.0 393.4 267.8 395.3 267.0C397.2 266.3 397.1 265.8 398.5 264.4C399.9 263.0 401.8 260.1 403.8 258.8C405.9 257.5 409.3 257.8 410.9 256.8C412.6 255.8 411.8 253.3 413.8 252.9C415.8 252.4 419.9 253.6 422.8 254.0C425.8 254.5 429.3 256.2 431.4 255.6C433.5 255.1 433.6 251.5 435.5 251.0C437.4 250.5 440.8 252.0 443.0 252.9C445.3 253.7 447.3 255.7 449.1 256.1C450.9 256.5 451.6 255.2 453.7 255.2C455.8 255.2 459.5 255.9 461.7 256.3C463.8 256.7 465.2 256.8 466.7 257.6C468.1 258.4 469.1 260.5 470.4 261.0C471.7 261.4 472.7 260.1 474.5 260.4C476.2 260.7 479.5 262.3 481.0 262.7C482.5 263.1 482.8 262.2 483.7 262.7C484.5 263.1 485.3 264.3 486.0 265.4C486.8 266.4 488.0 267.7 488.3 268.9C488.6 270.2 486.8 271.7 487.8 272.8C488.8 273.9 493.7 275.1 494.2 275.5Z" fill="#fdfaf5" fill-opacity="0.4" stroke="#efe2cc" stroke-width="0.6" opacity="0.8"/>
<path d="M479.0 275.7C479.2 276.3 477.5 277.4 477.4 278.0C477.2 278.5 477.8 278.6 478.3 279.1C478.7 279.5 480.3 279.7 480.1 280.7C480.0 281.7 478.0 283.9 477.5 285.1C476.9 286.3 477.6 287.2 476.9 288.0C476.3 288.8 474.8 289.5 473.7 289.8C472.5 290.1 471.4 289.0 470.3 290.1C469.2 291.1 468.8 294.8 467.2 296.2C465.7 297.6 463.0 297.8 461.0 298.3C459.1 298.7 457.4 298.6 455.6 298.8C453.9 299.0 452.2 299.5 450.5 299.4C448.8 299.3 447.0 297.9 445.6 298.3C444.2 298.8 443.6 301.6 442.1 302.2C440.5 302.9 438.3 302.4 436.3 302.3C434.4 302.1 432.6 301.2 430.6 301.5C428.6 301.9 426.3 303.8 424.2 304.3C422.1 304.7 419.4 304.6 418.1 304.3C416.7 304.1 417.3 302.9 416.1 302.6C414.9 302.3 412.4 303.3 411.0 302.6C409.7 302.0 409.6 299.3 408.0 298.7C406.3 298.1 402.8 298.8 401.2 299.0C399.6 299.2 398.9 300.4 398.3 299.7C397.7 299.0 398.2 295.7 397.6 295.0C396.9 294.3 395.3 295.9 394.4 295.5C393.6 295.1 393.6 293.6 392.4 292.7C391.3 291.8 389.0 290.9 387.7 290.2C386.3 289.4 384.5 288.4 384.5 288.0C384.5 287.6 387.5 288.7 387.6 287.9C387.8 287.0 386.0 284.1 385.4 282.9C384.9 281.7 384.0 281.1 384.3 280.5C384.5 279.9 386.1 280.1 386.9 279.3C387.7 278.6 387.9 276.9 389.0 276.0C390.0 275.1 392.3 274.4 393.3 273.8C394.3 273.3 395.0 273.2 395.0 272.7C395.1 272.2 392.8 271.7 393.8 270.9C394.8 270.1 399.3 268.4 401.0 267.8C402.7 267.3 402.8 268.0 403.9 267.5C404.9 267.0 405.6 265.5 407.2 264.7C408.8 263.9 411.6 263.8 413.4 262.7C415.2 261.7 415.6 258.5 417.8 258.2C420.0 257.9 424.8 260.5 426.6 261.0C428.5 261.5 427.2 261.9 429.0 261.2C430.8 260.5 435.9 257.2 437.5 257.0C439.2 256.8 437.9 259.3 439.0 260.0C440.1 260.6 442.4 260.7 444.3 261.0C446.2 261.2 448.4 261.2 450.2 261.5C452.0 261.7 453.0 262.5 454.9 262.5C456.8 262.5 460.5 261.4 461.7 261.5C462.9 261.5 461.9 262.7 462.3 263.0C462.7 263.3 462.5 263.0 464.1 263.2C465.8 263.4 470.8 263.6 472.2 264.1C473.7 264.7 472.1 265.6 472.8 266.4C473.5 267.2 475.7 268.2 476.6 268.9C477.4 269.7 477.9 270.1 477.8 270.9C477.7 271.8 475.9 273.2 476.1 274.0C476.4 274.8 478.8 275.0 479.0 275.7Z" fill="#fdfaf5" fill-opacity="0.4" stroke="#efe2cc" stroke-width="0.6" opacity="0.8"/>
<path d="M503.0 272.4C503.3 273.5 500.1 275.0 499.2 276.2C498.3 277.4 497.5 278.5 497.6 279.6C497.7 280.8 499.6 281.9 499.7 283.1C499.8 284.3 498.1 285.4 498.0 286.7C498.0 288.0 500.0 289.7 499.1 290.9C498.3 292.2 495.1 293.2 493.0 294.2C490.9 295.3 488.0 296.0 486.5 297.3C485.1 298.5 485.7 300.5 484.0 301.7C482.3 302.8 479.0 303.5 476.4 304.2C473.7 305.0 470.7 305.4 468.0 306.1C465.4 306.8 463.3 307.9 460.7 308.4C458.0 308.9 454.6 308.3 452.1 309.0C449.5 309.6 447.7 311.8 445.2 312.3C442.6 312.8 439.5 312.2 436.8 312.0C434.1 311.8 431.8 310.9 429.2 311.0C426.6 311.2 423.8 312.5 421.2 312.9C418.6 313.2 416.0 313.1 413.5 313.1C410.9 313.1 408.4 313.0 406.0 312.7C403.6 312.5 400.8 312.5 399.0 311.8C397.3 311.0 397.5 308.8 395.6 308.2C393.6 307.7 389.3 308.8 387.2 308.4C385.2 308.0 384.0 306.8 383.1 305.8C382.2 304.8 382.9 303.1 381.9 302.2C380.8 301.3 378.2 301.1 376.8 300.4C375.4 299.7 375.0 298.6 373.5 297.8C372.0 297.1 369.3 296.6 367.8 295.8C366.2 295.0 364.2 294.1 364.1 293.0C364.1 291.8 367.9 290.2 367.7 289.0C367.5 287.9 364.1 287.1 363.0 286.1C362.0 285.0 361.2 283.7 361.5 282.5C361.8 281.3 364.1 280.1 364.8 278.8C365.6 277.6 364.8 276.3 366.1 275.1C367.4 273.9 371.2 273.1 372.6 271.9C373.9 270.7 373.4 269.3 374.3 268.0C375.3 266.8 375.9 265.3 378.1 264.3C380.2 263.4 384.9 263.3 387.2 262.5C389.6 261.6 390.5 260.3 392.2 259.2C393.9 258.0 395.4 256.6 397.5 255.6C399.6 254.6 402.4 254.0 404.8 253.1C407.2 252.2 409.1 250.3 411.8 249.9C414.6 249.5 418.3 250.9 421.2 250.7C424.1 250.6 426.4 249.6 429.1 249.1C431.8 248.5 434.7 247.5 437.3 247.6C439.9 247.6 442.2 249.0 444.7 249.4C447.1 249.9 449.4 249.9 451.7 250.2C454.0 250.5 456.3 250.7 458.5 251.0C460.7 251.4 462.4 252.0 464.8 252.2C467.3 252.3 471.6 251.1 473.3 251.6C475.1 252.2 474.3 254.6 475.5 255.6C476.8 256.5 478.7 256.8 480.9 257.2C483.1 257.6 486.7 257.3 488.6 257.9C490.4 258.5 490.7 259.8 492.0 260.7C493.3 261.5 495.6 262.1 496.4 263.1C497.2 264.0 496.6 265.4 496.8 266.5C496.9 267.7 496.2 268.9 497.3 269.8C498.3 270.8 502.7 271.3 503.0 272.4Z" fill="#000" filter="url(#web)" opacity="0.4"/>
<g fill="#2d2c24" opacity="1"><path d="M404 255 L405.3 259 L405.3 287 L404 291 L402.7 287 L402.7 259Z"/><path d="M415.5 242 L416.8 246 L416.8 272 L415.5 276 L414.2 272 L414.2 246Z"/><path d="M430 242 L431.3 246 L431.3 267 L430 271 L428.7 267 L428.7 246Z"/><path d="M446.5 243 L447.8 247 L447.8 267 L446.5 271 L445.2 267 L445.2 247Z"/><path d="M468 252 L469.3 256 L469.3 277 L468 281 L466.7 277 L466.7 256Z"/><path d="M453.5 256 L454.8 260 L454.8 277 L453.5 281 L452.2 277 L452.2 260Z"/></g>
<path d="M431.0 255.5C431.3 255.8 431.6 256.2 431.8 256.7C432.0 257.1 432.0 257.6 432.0 258.2C432.0 258.7 431.9 259.4 431.8 260.0C431.6 260.7 431.3 261.5 430.9 262.3C430.6 263.1 430.1 263.9 429.5 264.9C429.0 265.8 428.3 266.8 427.5 268.0C426.7 269.1 426.0 270.0 424.5 271.7C423.1 273.5 420.6 276.3 418.5 278.6C416.5 280.8 414.0 283.6 412.3 285.3C410.7 286.9 409.9 287.6 408.9 288.5C407.8 289.5 406.9 290.2 406.0 290.8C405.1 291.4 404.2 291.9 403.4 292.3C402.6 292.7 401.9 292.9 401.1 293.1C400.4 293.3 399.8 293.4 399.2 293.3C398.6 293.3 398.0 293.2 397.5 293.0C396.9 292.8 396.4 292.4 396.0 292.0C395.6 291.6 395.2 291.1 394.9 290.6C394.7 290.0 394.6 289.5 394.5 288.9C394.5 288.3 394.5 287.6 394.7 286.9C394.8 286.2 395.1 285.4 395.4 284.6C395.8 283.8 396.2 282.9 396.8 282.0C397.4 281.1 398.1 280.1 398.9 279.0C399.8 277.9 400.5 277.1 402.1 275.4C403.6 273.7 406.3 271.0 408.5 268.9C410.6 266.8 413.3 264.2 415.1 262.6C416.8 261.1 417.6 260.4 418.7 259.5C419.8 258.6 420.8 258.0 421.7 257.3C422.6 256.7 423.5 256.2 424.2 255.8C425.0 255.4 425.8 255.2 426.4 254.9C427.1 254.7 427.7 254.6 428.3 254.6C428.8 254.5 429.3 254.6 429.8 254.7C430.2 254.9 430.7 255.2 431.0 255.5Z" fill="url(#gLobe)"/>
<path d="M461.0 249.5C461.2 249.9 461.3 250.4 461.4 250.9C461.4 251.3 461.4 251.8 461.3 252.2C461.1 252.7 460.9 253.2 460.7 253.7C460.4 254.2 460.0 254.7 459.6 255.2C459.1 255.7 458.6 256.2 458.0 256.8C457.4 257.3 456.7 257.8 455.8 258.4C454.9 259.0 454.3 259.5 452.8 260.3C451.3 261.1 448.8 262.4 446.8 263.4C444.8 264.3 442.3 265.5 440.7 266.2C439.1 266.9 438.4 267.1 437.4 267.4C436.4 267.7 435.5 267.9 434.7 268.1C433.9 268.2 433.2 268.2 432.5 268.2C431.8 268.2 431.2 268.1 430.6 268.0C430.0 267.8 429.5 267.6 429.1 267.4C428.6 267.1 428.2 266.8 427.9 266.4C427.5 266.0 427.2 265.5 427.0 265.0C426.8 264.5 426.6 263.9 426.5 263.4C426.5 262.9 426.5 262.4 426.6 261.9C426.7 261.4 426.8 260.8 427.1 260.3C427.4 259.8 427.7 259.3 428.1 258.7C428.6 258.2 429.1 257.7 429.7 257.2C430.4 256.6 431.1 256.1 432.0 255.6C432.9 255.0 433.5 254.6 435.1 253.9C436.6 253.1 439.2 252.0 441.2 251.1C443.3 250.3 445.9 249.2 447.5 248.6C449.1 248.0 449.8 247.8 450.9 247.6C451.9 247.3 452.7 247.1 453.6 247.0C454.4 246.9 455.1 246.8 455.8 246.8C456.5 246.8 457.1 246.9 457.6 247.0C458.2 247.1 458.7 247.3 459.1 247.5C459.5 247.7 459.9 248.0 460.2 248.3C460.5 248.7 460.8 249.1 461.0 249.5Z" fill="url(#gLobe)"/>
<path d="M473.5 258.0C473.8 258.4 474.1 258.8 474.3 259.3C474.4 259.8 474.5 260.2 474.5 260.7C474.5 261.3 474.5 261.8 474.3 262.4C474.2 263.0 473.9 263.6 473.6 264.2C473.3 264.9 472.9 265.5 472.4 266.3C471.9 267.0 471.4 267.7 470.7 268.6C469.9 269.4 469.4 270.0 468.1 271.3C466.8 272.5 464.6 274.5 462.8 276.0C461.0 277.6 458.8 279.5 457.4 280.6C455.9 281.7 455.2 282.2 454.3 282.7C453.4 283.3 452.5 283.8 451.7 284.1C450.9 284.5 450.2 284.7 449.5 284.9C448.8 285.0 448.1 285.1 447.5 285.1C446.9 285.1 446.3 285.0 445.8 284.9C445.2 284.7 444.8 284.5 444.3 284.2C443.8 283.9 443.4 283.5 443.0 283.0C442.6 282.5 442.3 282.0 442.1 281.5C441.9 281.0 441.7 280.5 441.7 279.9C441.6 279.3 441.7 278.8 441.8 278.2C441.9 277.5 442.1 276.9 442.4 276.3C442.7 275.6 443.1 274.9 443.6 274.2C444.1 273.5 444.7 272.8 445.5 272.0C446.2 271.2 446.8 270.6 448.2 269.4C449.5 268.2 451.8 266.4 453.7 265.0C455.6 263.5 457.9 261.8 459.4 260.7C460.9 259.7 461.6 259.3 462.6 258.7C463.5 258.2 464.4 257.8 465.2 257.4C466.0 257.1 466.7 256.8 467.4 256.7C468.1 256.5 468.8 256.4 469.4 256.3C470.0 256.3 470.5 256.4 471.0 256.5C471.5 256.6 472.0 256.7 472.4 257.0C472.8 257.3 473.2 257.6 473.5 258.0Z" fill="url(#gLobe)"/>
<path d="M438.0 260.0C438.4 260.3 438.8 260.8 439.0 261.3C439.2 261.9 439.3 262.4 439.3 263.1C439.3 263.8 439.2 264.5 439.0 265.4C438.8 266.2 438.5 267.1 438.1 268.2C437.7 269.2 437.2 270.3 436.5 271.5C435.9 272.7 435.1 274.0 434.2 275.5C433.2 276.9 432.5 278.1 430.8 280.4C429.0 282.7 426.2 286.4 423.8 289.4C421.5 292.4 418.5 296.0 416.6 298.2C414.8 300.4 413.8 301.3 412.6 302.6C411.4 303.8 410.3 304.8 409.2 305.6C408.1 306.5 407.1 307.2 406.1 307.7C405.2 308.3 404.3 308.7 403.4 309.0C402.6 309.2 401.7 309.4 401.0 309.4C400.2 309.4 399.5 309.3 398.9 309.1C398.2 308.9 397.5 308.5 397.0 308.0C396.5 307.5 395.9 306.9 395.6 306.3C395.3 305.7 395.1 305.0 395.0 304.3C394.9 303.5 394.9 302.7 395.1 301.8C395.2 300.9 395.5 300.0 395.8 298.9C396.2 297.9 396.8 296.8 397.4 295.6C398.1 294.4 398.9 293.2 399.9 291.7C400.9 290.3 401.7 289.3 403.6 287.1C405.5 284.9 408.6 281.4 411.2 278.6C413.7 275.8 417.0 272.4 419.0 270.3C421.0 268.3 422.0 267.4 423.3 266.2C424.6 265.0 425.8 264.1 426.9 263.3C428.0 262.4 429.0 261.8 429.9 261.2C430.9 260.6 431.7 260.2 432.5 259.9C433.3 259.5 434.1 259.3 434.7 259.2C435.4 259.1 436.0 259.1 436.5 259.2C437.1 259.4 437.6 259.7 438.0 260.0Z" fill="url(#gLobe)"/>
<path d="M470.0 263.0C470.4 263.4 470.7 263.9 470.8 264.5C470.9 265.0 470.9 265.6 470.8 266.3C470.7 267.0 470.5 267.8 470.2 268.6C469.8 269.5 469.4 270.4 468.8 271.5C468.2 272.5 467.5 273.6 466.6 274.8C465.8 276.0 464.8 277.3 463.6 278.7C462.3 280.2 461.4 281.3 459.3 283.6C457.1 285.8 453.6 289.4 450.7 292.3C447.8 295.2 444.1 298.8 441.8 300.9C439.6 303.0 438.4 303.9 437.0 305.1C435.5 306.3 434.2 307.2 432.9 308.0C431.7 308.8 430.6 309.4 429.5 309.9C428.4 310.4 427.4 310.8 426.5 311.0C425.5 311.2 424.7 311.3 423.9 311.3C423.1 311.2 422.4 311.1 421.8 310.8C421.1 310.5 420.5 310.0 420.0 309.5C419.5 309.0 419.1 308.3 418.8 307.6C418.6 307.0 418.5 306.3 418.5 305.5C418.5 304.7 418.7 303.9 419.0 302.9C419.3 302.0 419.7 301.1 420.3 300.0C420.8 299.0 421.5 297.9 422.4 296.7C423.3 295.5 424.3 294.3 425.6 292.9C426.9 291.5 427.9 290.5 430.1 288.3C432.4 286.2 436.2 282.9 439.3 280.2C442.4 277.5 446.3 274.2 448.7 272.2C451.1 270.2 452.3 269.4 453.9 268.3C455.4 267.2 456.7 266.3 458.0 265.5C459.3 264.7 460.4 264.1 461.5 263.6C462.5 263.1 463.5 262.7 464.4 262.4C465.3 262.1 466.0 262.0 466.8 261.9C467.5 261.9 468.1 261.9 468.6 262.1C469.1 262.3 469.6 262.6 470.0 263.0Z" fill="url(#gLobe)"/>
<path d="M402.7 295.2L427.2 267.0" stroke="#e58aa2" stroke-width="2" stroke-linecap="round" opacity="0.55" filter="url(#ob1)"/>
<path d="M427.0 296.3L457.4 269.8" stroke="#e58aa2" stroke-width="2" stroke-linecap="round" opacity="0.55" filter="url(#ob1)"/>
<g fill="#474336" opacity="0.88"><path d="M406.5 265 L407.9 269 L407.9 306 L406.5 310 L405.1 306 L405.1 269Z"/><path d="M420.5 267 L421.9 271 L421.9 308 L420.5 312 L419.1 308 L419.1 271Z"/><path d="M434.5 263 L435.9 267 L435.9 297 L434.5 301 L433.1 297 L433.1 267Z"/><path d="M441 253 L442.4 257 L442.4 289 L441 293 L439.6 289 L439.6 257Z"/><path d="M450 265 L451.4 269 L451.4 303 L450 307 L448.6 303 L448.6 269Z"/><path d="M463.5 263 L464.9 267 L464.9 303 L463.5 307 L462.1 303 L462.1 267Z"/><path d="M456 249 L457.4 253 L457.4 272 L456 276 L454.6 272 L454.6 253Z"/></g>
<rect x="168.2" y="465.8" width="213.5" height="211.99999999999994" fill="#fffbd5"/>
<clipPath id="pc"><rect x="76.7" y="465.8" width="488.09999999999997" height="211.99999999999994"/></clipPath>
<g clip-path="url(#pc)">
<path d="M76.7 677.8 L107.2 677.8 L137.7 677.8 L168.2 677.8 L198.7 677.8 L229.2 677.8 L259.7 677.8 L290.2 677.8 L320.8 677.8 L351.3 677.8 L381.8 677.8 L412.3 568.8 L442.8 540.6 L473.3 535.3 L503.8 526.2 L534.3 663.0 L564.8 674.4 L564.8 677.8 L534.3 677.8 L503.8 579.2 L473.3 567.1 L442.8 578.8 L412.3 615.5 L381.8 677.8 L351.3 677.8 L320.8 677.8 L290.2 677.8 L259.7 677.8 L229.2 677.8 L198.7 677.8 L168.2 677.8 L137.7 677.8 L107.2 677.8 L76.7 677.8Z" fill="#2a625c" opacity="0.12"/>
<path d="M76.7 677.8 L107.2 677.8 L137.7 677.8 L168.2 677.8 L198.7 628.0 L229.2 618.4 L259.7 613.4 L290.2 677.8 L320.8 581.3 L351.3 577.1 L381.8 563.7 L412.3 547.4 L442.8 538.9 L473.3 521.6 L503.8 472.6 L534.3 501.2 L564.8 488.5 L564.8 533.0 L534.3 540.6 L503.8 522.6 L473.3 547.8 L442.8 568.6 L412.3 568.6 L381.8 593.4 L351.3 604.7 L320.8 604.7 L290.2 677.8 L259.7 638.8 L229.2 652.4 L198.7 642.8 L168.2 677.8 L137.7 677.8 L107.2 677.8 L76.7 677.8Z" fill="#8e2326" opacity="0.125"/>
</g>
<rect x="76.7" y="465.8" width="488.09999999999997" height="211.99999999999994" fill="none" stroke="#2a2a2a" stroke-width="1.3"/>
<path d="M137.7 677.8 v-5 M137.7 465.8 v5 M259.7 677.8 v-5 M259.7 465.8 v5 M381.8 677.8 v-5 M381.8 465.8 v5 M503.8 677.8 v-5 M503.8 465.8 v5 M76.7 571.8 h5 M564.8 571.8 h-5 " stroke="#262626" stroke-width="1.1" fill="none"/>
<path d="M168.2 465.8 V677.8" stroke="#262626" stroke-width="3" stroke-dasharray="13.2 9.95" stroke-dashoffset="7.5" fill="none"/>
<path d="M381.8 465.8 V677.8" stroke="#262626" stroke-width="3" stroke-dasharray="13.2 9.95" stroke-dashoffset="7.5" fill="none"/>
<path d="M76.7 677.8 L107.2 677.8 L137.7 677.8 L168.2 677.8 L198.7 677.8 L229.2 677.8 L259.7 677.8 L290.2 677.8 L320.8 677.8 L351.3 677.8 L381.8 677.8 L412.3 592.2 L442.8 559.7 L473.3 551.2 L503.8 552.7 L534.3 672.5 L564.8 677.0" fill="none" stroke="#2a625c" stroke-width="3.5" stroke-linejoin="round"/>
<g fill="none" stroke="#2a625c" stroke-width="2.8"><circle cx="76.7" cy="677.8" r="7"/><circle cx="107.2" cy="677.8" r="7"/><circle cx="137.7" cy="677.8" r="7"/><circle cx="168.2" cy="677.8" r="7"/><circle cx="198.7" cy="677.8" r="7"/><circle cx="229.2" cy="677.8" r="7"/><circle cx="259.7" cy="677.8" r="7"/><circle cx="290.2" cy="677.8" r="7"/><circle cx="320.8" cy="677.8" r="7"/><circle cx="351.3" cy="677.8" r="7"/><circle cx="381.8" cy="677.8" r="7"/><circle cx="412.3" cy="592.2" r="7"/><circle cx="442.8" cy="559.7" r="7"/><circle cx="473.3" cy="551.2" r="7"/><circle cx="503.8" cy="552.7" r="7"/><circle cx="534.3" cy="672.5" r="7"/><circle cx="564.8" cy="677.0" r="7"/></g>
<path d="M76.7 677.8 L107.2 677.8 L137.7 677.8 L168.2 677.8 L198.7 635.4 L229.2 635.4 L259.7 626.1 L290.2 677.8 L320.8 593.0 L351.3 590.9 L381.8 578.6 L412.3 558.0 L442.8 553.8 L473.3 534.7 L503.8 497.6 L534.3 520.9 L564.8 510.7" fill="none" stroke="#8e2326" stroke-width="3.5" stroke-linejoin="round"/>
<g fill="none" stroke="#8e2326" stroke-width="2.8"><path d="M71.8 672.9l9.8 9.8m0 -9.8l-9.8 9.8"/><path d="M102.3 672.9l9.8 9.8m0 -9.8l-9.8 9.8"/><path d="M132.8 672.9l9.8 9.8m0 -9.8l-9.8 9.8"/><path d="M163.3 672.9l9.8 9.8m0 -9.8l-9.8 9.8"/><path d="M193.8 630.5l9.8 9.8m0 -9.8l-9.8 9.8"/><path d="M224.3 630.5l9.8 9.8m0 -9.8l-9.8 9.8"/><path d="M254.8 621.2l9.8 9.8m0 -9.8l-9.8 9.8"/><path d="M285.3 672.9l9.8 9.8m0 -9.8l-9.8 9.8"/><path d="M315.9 588.1l9.8 9.8m0 -9.8l-9.8 9.8"/><path d="M346.4 586.0l9.8 9.8m0 -9.8l-9.8 9.8"/><path d="M376.9 573.7l9.8 9.8m0 -9.8l-9.8 9.8"/><path d="M407.4 553.1l9.8 9.8m0 -9.8l-9.8 9.8"/><path d="M437.9 548.9l9.8 9.8m0 -9.8l-9.8 9.8"/><path d="M468.4 529.8l9.8 9.8m0 -9.8l-9.8 9.8"/><path d="M498.9 492.7l9.8 9.8m0 -9.8l-9.8 9.8"/><path d="M529.4 516.0l9.8 9.8m0 -9.8l-9.8 9.8"/><path d="M559.9 505.8l9.8 9.8m0 -9.8l-9.8 9.8"/></g>
<text x="137.7" y="705.5" font-size="21" font-weight="normal" text-anchor="middle" class="sans">0.2</text>
<text x="259.7" y="705.5" font-size="21" font-weight="normal" text-anchor="middle" class="sans">0.4</text>
<text x="381.8" y="705.5" font-size="21" font-weight="normal" text-anchor="middle" class="sans">0.6</text>
<text x="503.8" y="705.5" font-size="21" font-weight="normal" text-anchor="middle" class="sans">0.8</text>
<text x="71" y="685.6" font-size="21" font-weight="normal" text-anchor="end" class="sans">0</text>
<text x="71" y="579.8" font-size="21" font-weight="normal" text-anchor="end" class="sans">5</text>
<text x="71" y="473.6" font-size="21" font-weight="normal" text-anchor="end" class="sans">10</text>
<text x="89.5" y="485.7" font-size="23" font-weight="bold" text-anchor="start" textLength="6.8" lengthAdjust="spacingAndGlyphs">i</text>
<text x="181.5" y="485.7" font-size="23" font-weight="bold" text-anchor="start" textLength="13.8" lengthAdjust="spacingAndGlyphs">ii</text>
<text x="394.5" y="485.7" font-size="23" font-weight="bold" text-anchor="start" textLength="20.6" lengthAdjust="spacingAndGlyphs">iii</text>
<path d="M290 478.3H308.5" stroke="#2a625c" stroke-width="3.8"/>
<path d="M290 500H308.5" stroke="#8e2326" stroke-width="3.8"/>
<text x="315.6" y="485.7" font-size="23.5" font-weight="bold" text-anchor="start" textLength="52.6" lengthAdjust="spacingAndGlyphs">BEC</text>
<text x="315.6" y="507.5" font-size="23.5" font-weight="bold" text-anchor="start" textLength="42.6" lengthAdjust="spacingAndGlyphs">SSP</text>
<text transform="translate(34.6 653.8) rotate(-90)" font-size="25" textLength="163" lengthAdjust="spacingAndGlyphs">Vortex number</text>
<text x="285.5" y="731" font-size="25" font-weight="normal" text-anchor="start" textLength="16.4" lengthAdjust="spacingAndGlyphs">Ω</text>
<text x="307.8" y="732" font-size="28" font-weight="normal" text-anchor="start">(</text>
<text x="316.5" y="731" font-size="24" font-weight="normal" text-anchor="start" textLength="15" lengthAdjust="spacingAndGlyphs" font-style="italic">ω</text>
<text x="333.3" y="735.2" font-size="15" font-weight="normal" text-anchor="start" textLength="11.5" lengthAdjust="spacingAndGlyphs">⊥</text>
<text x="347.2" y="732" font-size="28" font-weight="normal" text-anchor="start">)</text>
</svg>
</body></html>
